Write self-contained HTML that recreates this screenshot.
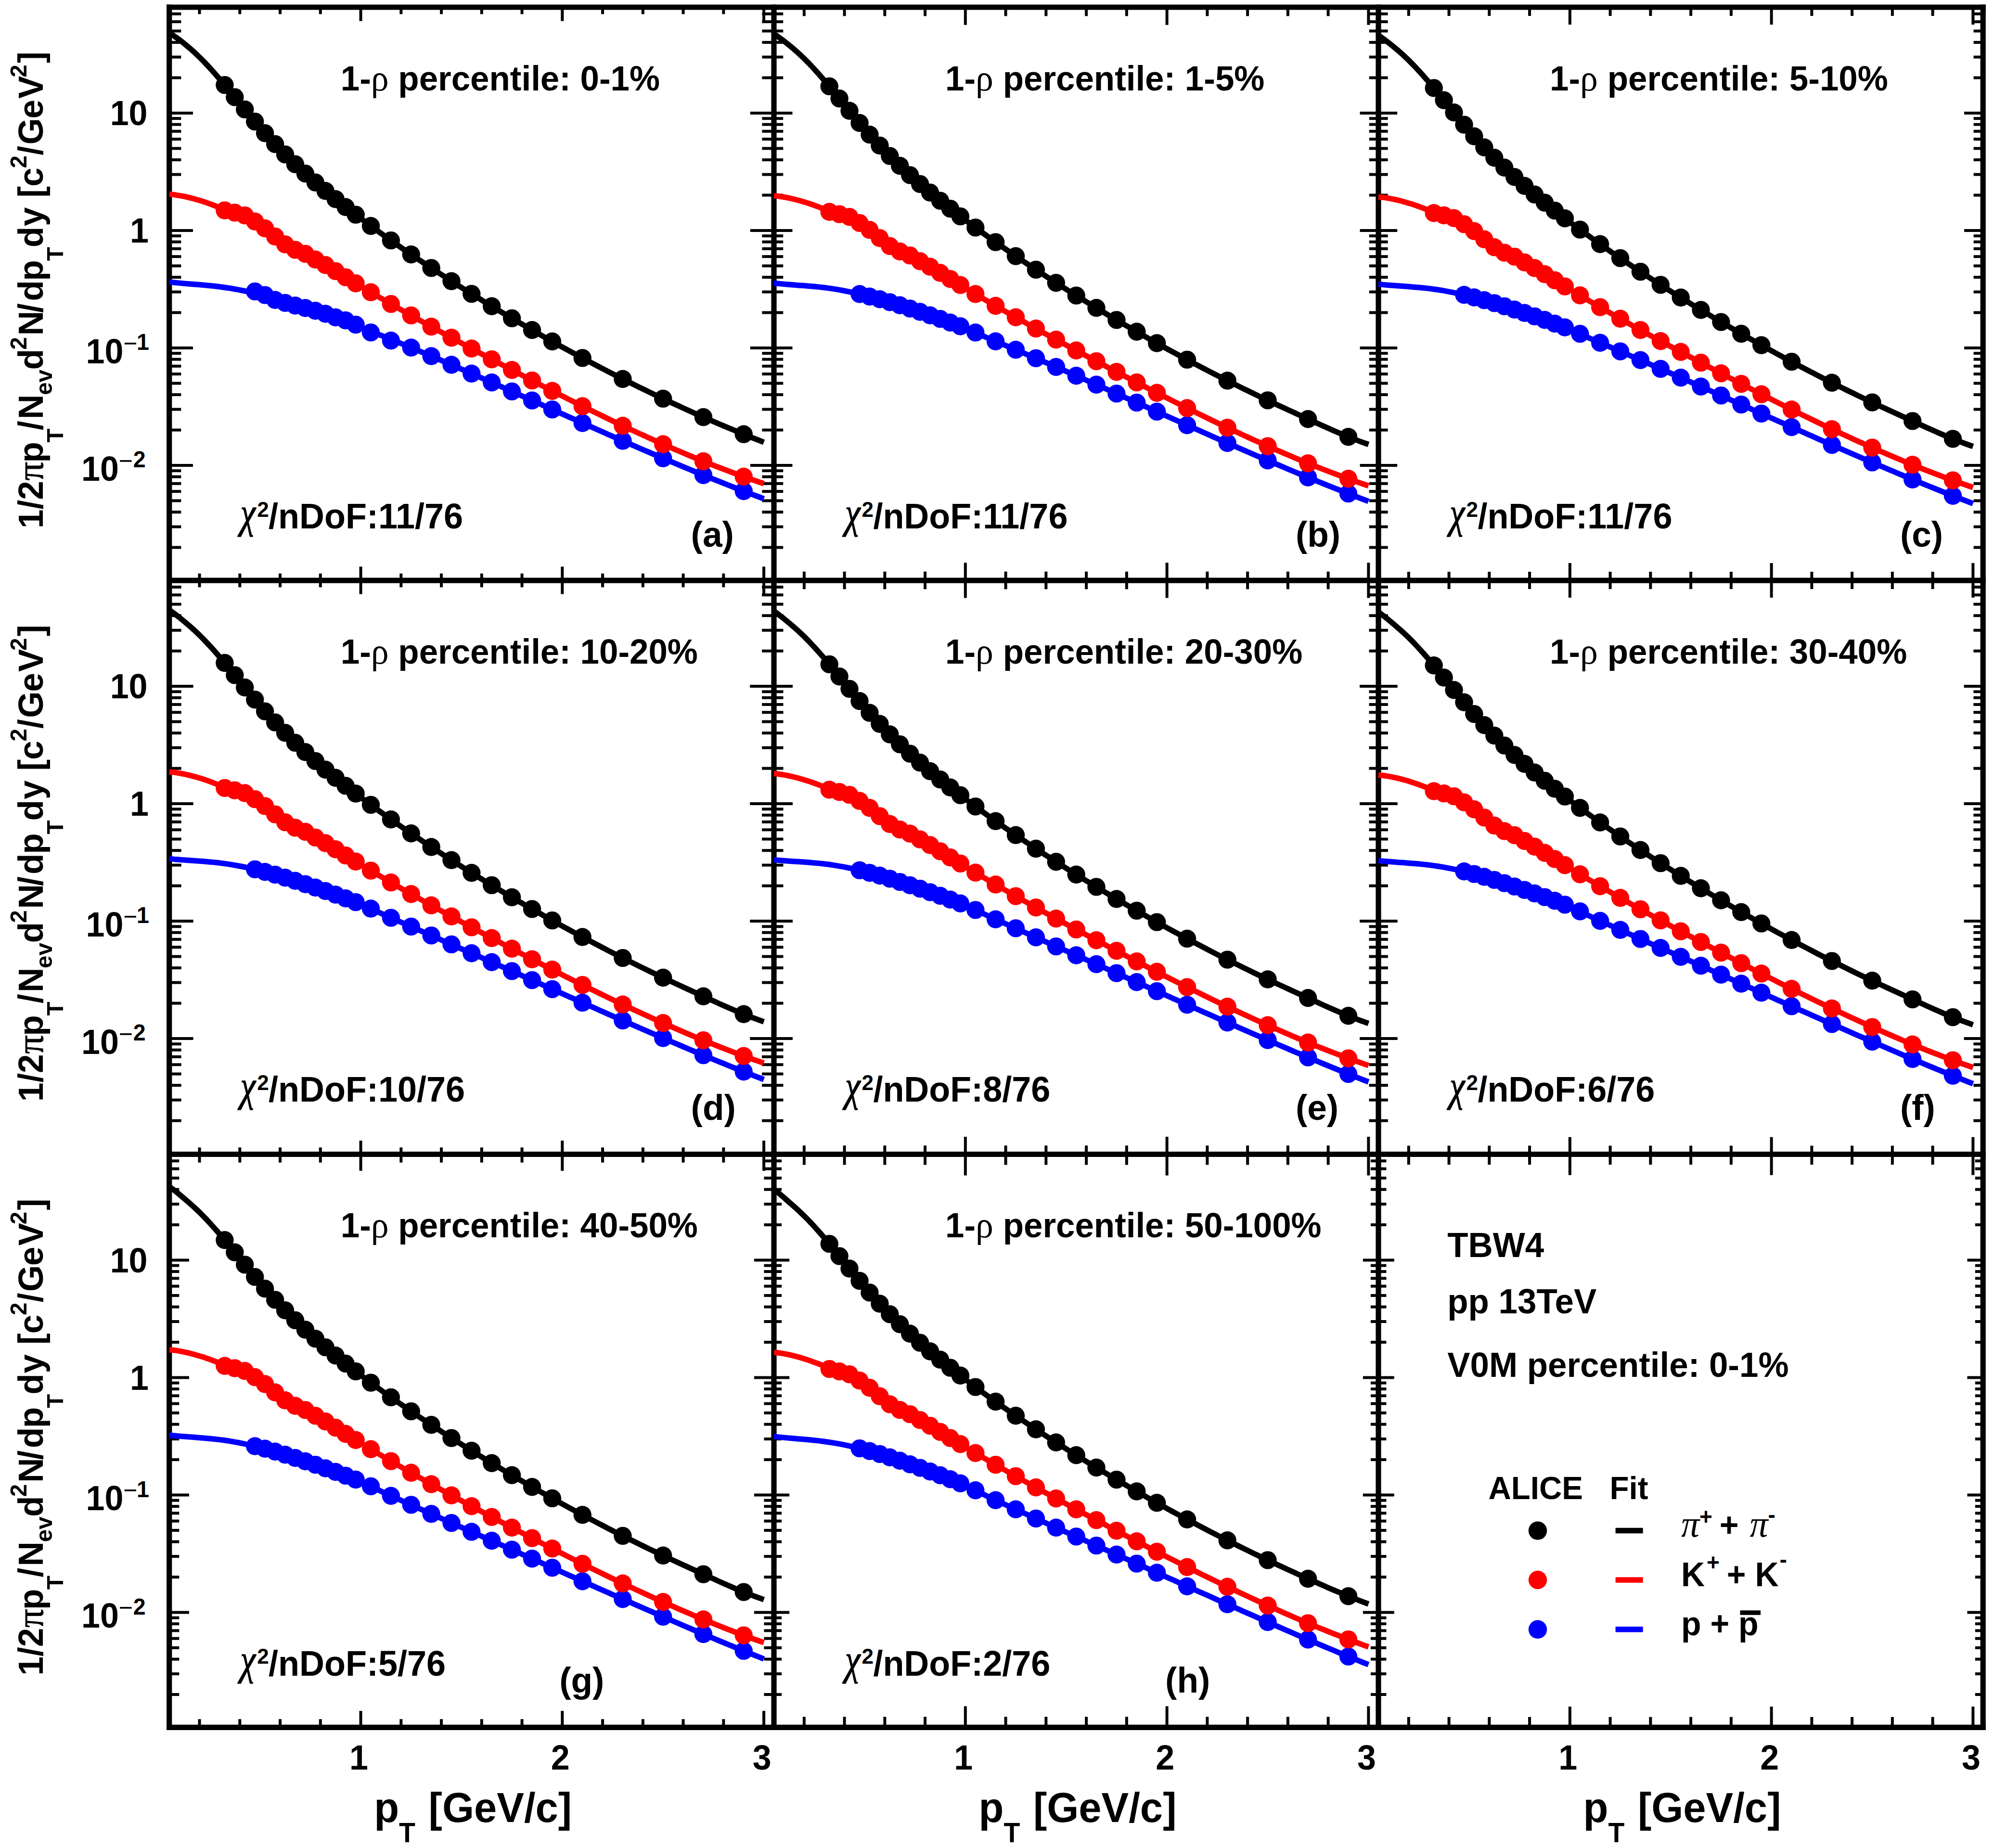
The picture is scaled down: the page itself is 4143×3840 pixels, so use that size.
<!DOCTYPE html>
<html><head><meta charset="utf-8"><title>TBW4 fits</title>
<style>html,body{margin:0;padding:0;background:#fff}body{width:4143px;height:3840px;overflow:hidden}</style></head>
<body>
<svg width="4143" height="3840" viewBox="0 0 4143 3840" style="display:block">
<rect x="0" y="0" width="4143" height="3840" fill="#fff"/>
<g id="frame">
<line x1="351.70" y1="9.40" x2="351.70" y2="3595.00" stroke="#000" stroke-width="11.2"/>
<line x1="1608.00" y1="9.40" x2="1608.00" y2="3595.00" stroke="#000" stroke-width="11.2"/>
<line x1="2864.00" y1="9.40" x2="2864.00" y2="3595.00" stroke="#000" stroke-width="11.2"/>
<line x1="4120.20" y1="9.40" x2="4120.20" y2="3595.00" stroke="#000" stroke-width="11.2"/>
<line x1="346.10" y1="15.00" x2="4125.80" y2="15.00" stroke="#000" stroke-width="11.2"/>
<line x1="346.10" y1="1206.10" x2="4125.80" y2="1206.10" stroke="#000" stroke-width="11.2"/>
<line x1="346.10" y1="2398.50" x2="4125.80" y2="2398.50" stroke="#000" stroke-width="11.2"/>
<line x1="346.10" y1="3589.40" x2="4125.80" y2="3589.40" stroke="#000" stroke-width="11.2"/>
</g>
<g id="ticks">
<line x1="351.70" y1="1137.55" x2="376.31" y2="1137.55" stroke="#000" stroke-width="6.0"/>
<line x1="351.70" y1="1094.58" x2="376.31" y2="1094.58" stroke="#000" stroke-width="6.0"/>
<line x1="351.70" y1="1064.10" x2="376.31" y2="1064.10" stroke="#000" stroke-width="6.0"/>
<line x1="351.70" y1="1040.45" x2="376.31" y2="1040.45" stroke="#000" stroke-width="6.0"/>
<line x1="351.70" y1="1021.13" x2="376.31" y2="1021.13" stroke="#000" stroke-width="6.0"/>
<line x1="351.70" y1="1004.80" x2="376.31" y2="1004.80" stroke="#000" stroke-width="6.0"/>
<line x1="351.70" y1="990.65" x2="376.31" y2="990.65" stroke="#000" stroke-width="6.0"/>
<line x1="351.70" y1="978.16" x2="376.31" y2="978.16" stroke="#000" stroke-width="6.0"/>
<line x1="351.70" y1="967.00" x2="400.93" y2="967.00" stroke="#000" stroke-width="6.0"/>
<line x1="351.70" y1="893.55" x2="376.31" y2="893.55" stroke="#000" stroke-width="6.0"/>
<line x1="351.70" y1="850.58" x2="376.31" y2="850.58" stroke="#000" stroke-width="6.0"/>
<line x1="351.70" y1="820.10" x2="376.31" y2="820.10" stroke="#000" stroke-width="6.0"/>
<line x1="351.70" y1="796.45" x2="376.31" y2="796.45" stroke="#000" stroke-width="6.0"/>
<line x1="351.70" y1="777.13" x2="376.31" y2="777.13" stroke="#000" stroke-width="6.0"/>
<line x1="351.70" y1="760.80" x2="376.31" y2="760.80" stroke="#000" stroke-width="6.0"/>
<line x1="351.70" y1="746.65" x2="376.31" y2="746.65" stroke="#000" stroke-width="6.0"/>
<line x1="351.70" y1="734.16" x2="376.31" y2="734.16" stroke="#000" stroke-width="6.0"/>
<line x1="351.70" y1="723.00" x2="400.93" y2="723.00" stroke="#000" stroke-width="6.0"/>
<line x1="351.70" y1="649.55" x2="376.31" y2="649.55" stroke="#000" stroke-width="6.0"/>
<line x1="351.70" y1="606.58" x2="376.31" y2="606.58" stroke="#000" stroke-width="6.0"/>
<line x1="351.70" y1="576.10" x2="376.31" y2="576.10" stroke="#000" stroke-width="6.0"/>
<line x1="351.70" y1="552.45" x2="376.31" y2="552.45" stroke="#000" stroke-width="6.0"/>
<line x1="351.70" y1="533.13" x2="376.31" y2="533.13" stroke="#000" stroke-width="6.0"/>
<line x1="351.70" y1="516.80" x2="376.31" y2="516.80" stroke="#000" stroke-width="6.0"/>
<line x1="351.70" y1="502.65" x2="376.31" y2="502.65" stroke="#000" stroke-width="6.0"/>
<line x1="351.70" y1="490.16" x2="376.31" y2="490.16" stroke="#000" stroke-width="6.0"/>
<line x1="351.70" y1="479.00" x2="400.93" y2="479.00" stroke="#000" stroke-width="6.0"/>
<line x1="351.70" y1="405.55" x2="376.31" y2="405.55" stroke="#000" stroke-width="6.0"/>
<line x1="351.70" y1="362.58" x2="376.31" y2="362.58" stroke="#000" stroke-width="6.0"/>
<line x1="351.70" y1="332.10" x2="376.31" y2="332.10" stroke="#000" stroke-width="6.0"/>
<line x1="351.70" y1="308.45" x2="376.31" y2="308.45" stroke="#000" stroke-width="6.0"/>
<line x1="351.70" y1="289.13" x2="376.31" y2="289.13" stroke="#000" stroke-width="6.0"/>
<line x1="351.70" y1="272.80" x2="376.31" y2="272.80" stroke="#000" stroke-width="6.0"/>
<line x1="351.70" y1="258.65" x2="376.31" y2="258.65" stroke="#000" stroke-width="6.0"/>
<line x1="351.70" y1="246.16" x2="376.31" y2="246.16" stroke="#000" stroke-width="6.0"/>
<line x1="351.70" y1="235.00" x2="400.93" y2="235.00" stroke="#000" stroke-width="6.0"/>
<line x1="351.70" y1="161.55" x2="376.31" y2="161.55" stroke="#000" stroke-width="6.0"/>
<line x1="351.70" y1="118.58" x2="376.31" y2="118.58" stroke="#000" stroke-width="6.0"/>
<line x1="351.70" y1="88.10" x2="376.31" y2="88.10" stroke="#000" stroke-width="6.0"/>
<line x1="351.70" y1="64.45" x2="376.31" y2="64.45" stroke="#000" stroke-width="6.0"/>
<line x1="351.70" y1="45.13" x2="376.31" y2="45.13" stroke="#000" stroke-width="6.0"/>
<line x1="351.70" y1="28.80" x2="376.31" y2="28.80" stroke="#000" stroke-width="6.0"/>
<line x1="1608.00" y1="1137.55" x2="1583.39" y2="1137.55" stroke="#000" stroke-width="6.0"/>
<line x1="1608.00" y1="1094.58" x2="1583.39" y2="1094.58" stroke="#000" stroke-width="6.0"/>
<line x1="1608.00" y1="1064.10" x2="1583.39" y2="1064.10" stroke="#000" stroke-width="6.0"/>
<line x1="1608.00" y1="1040.45" x2="1583.39" y2="1040.45" stroke="#000" stroke-width="6.0"/>
<line x1="1608.00" y1="1021.13" x2="1583.39" y2="1021.13" stroke="#000" stroke-width="6.0"/>
<line x1="1608.00" y1="1004.80" x2="1583.39" y2="1004.80" stroke="#000" stroke-width="6.0"/>
<line x1="1608.00" y1="990.65" x2="1583.39" y2="990.65" stroke="#000" stroke-width="6.0"/>
<line x1="1608.00" y1="978.16" x2="1583.39" y2="978.16" stroke="#000" stroke-width="6.0"/>
<line x1="1608.00" y1="967.00" x2="1558.77" y2="967.00" stroke="#000" stroke-width="6.0"/>
<line x1="1608.00" y1="893.55" x2="1583.39" y2="893.55" stroke="#000" stroke-width="6.0"/>
<line x1="1608.00" y1="850.58" x2="1583.39" y2="850.58" stroke="#000" stroke-width="6.0"/>
<line x1="1608.00" y1="820.10" x2="1583.39" y2="820.10" stroke="#000" stroke-width="6.0"/>
<line x1="1608.00" y1="796.45" x2="1583.39" y2="796.45" stroke="#000" stroke-width="6.0"/>
<line x1="1608.00" y1="777.13" x2="1583.39" y2="777.13" stroke="#000" stroke-width="6.0"/>
<line x1="1608.00" y1="760.80" x2="1583.39" y2="760.80" stroke="#000" stroke-width="6.0"/>
<line x1="1608.00" y1="746.65" x2="1583.39" y2="746.65" stroke="#000" stroke-width="6.0"/>
<line x1="1608.00" y1="734.16" x2="1583.39" y2="734.16" stroke="#000" stroke-width="6.0"/>
<line x1="1608.00" y1="723.00" x2="1558.77" y2="723.00" stroke="#000" stroke-width="6.0"/>
<line x1="1608.00" y1="649.55" x2="1583.39" y2="649.55" stroke="#000" stroke-width="6.0"/>
<line x1="1608.00" y1="606.58" x2="1583.39" y2="606.58" stroke="#000" stroke-width="6.0"/>
<line x1="1608.00" y1="576.10" x2="1583.39" y2="576.10" stroke="#000" stroke-width="6.0"/>
<line x1="1608.00" y1="552.45" x2="1583.39" y2="552.45" stroke="#000" stroke-width="6.0"/>
<line x1="1608.00" y1="533.13" x2="1583.39" y2="533.13" stroke="#000" stroke-width="6.0"/>
<line x1="1608.00" y1="516.80" x2="1583.39" y2="516.80" stroke="#000" stroke-width="6.0"/>
<line x1="1608.00" y1="502.65" x2="1583.39" y2="502.65" stroke="#000" stroke-width="6.0"/>
<line x1="1608.00" y1="490.16" x2="1583.39" y2="490.16" stroke="#000" stroke-width="6.0"/>
<line x1="1608.00" y1="479.00" x2="1558.77" y2="479.00" stroke="#000" stroke-width="6.0"/>
<line x1="1608.00" y1="405.55" x2="1583.39" y2="405.55" stroke="#000" stroke-width="6.0"/>
<line x1="1608.00" y1="362.58" x2="1583.39" y2="362.58" stroke="#000" stroke-width="6.0"/>
<line x1="1608.00" y1="332.10" x2="1583.39" y2="332.10" stroke="#000" stroke-width="6.0"/>
<line x1="1608.00" y1="308.45" x2="1583.39" y2="308.45" stroke="#000" stroke-width="6.0"/>
<line x1="1608.00" y1="289.13" x2="1583.39" y2="289.13" stroke="#000" stroke-width="6.0"/>
<line x1="1608.00" y1="272.80" x2="1583.39" y2="272.80" stroke="#000" stroke-width="6.0"/>
<line x1="1608.00" y1="258.65" x2="1583.39" y2="258.65" stroke="#000" stroke-width="6.0"/>
<line x1="1608.00" y1="246.16" x2="1583.39" y2="246.16" stroke="#000" stroke-width="6.0"/>
<line x1="1608.00" y1="235.00" x2="1558.77" y2="235.00" stroke="#000" stroke-width="6.0"/>
<line x1="1608.00" y1="161.55" x2="1583.39" y2="161.55" stroke="#000" stroke-width="6.0"/>
<line x1="1608.00" y1="118.58" x2="1583.39" y2="118.58" stroke="#000" stroke-width="6.0"/>
<line x1="1608.00" y1="88.10" x2="1583.39" y2="88.10" stroke="#000" stroke-width="6.0"/>
<line x1="1608.00" y1="64.45" x2="1583.39" y2="64.45" stroke="#000" stroke-width="6.0"/>
<line x1="1608.00" y1="45.13" x2="1583.39" y2="45.13" stroke="#000" stroke-width="6.0"/>
<line x1="1608.00" y1="28.80" x2="1583.39" y2="28.80" stroke="#000" stroke-width="6.0"/>
<line x1="414.51" y1="1206.10" x2="414.51" y2="1191.74" stroke="#000" stroke-width="6.0"/>
<line x1="498.27" y1="1206.10" x2="498.27" y2="1191.74" stroke="#000" stroke-width="6.0"/>
<line x1="582.02" y1="1206.10" x2="582.02" y2="1191.74" stroke="#000" stroke-width="6.0"/>
<line x1="665.77" y1="1206.10" x2="665.77" y2="1191.74" stroke="#000" stroke-width="6.0"/>
<line x1="749.53" y1="1206.10" x2="749.53" y2="1177.37" stroke="#000" stroke-width="6.0"/>
<line x1="833.28" y1="1206.10" x2="833.28" y2="1191.74" stroke="#000" stroke-width="6.0"/>
<line x1="917.04" y1="1206.10" x2="917.04" y2="1191.74" stroke="#000" stroke-width="6.0"/>
<line x1="1000.79" y1="1206.10" x2="1000.79" y2="1191.74" stroke="#000" stroke-width="6.0"/>
<line x1="1084.54" y1="1206.10" x2="1084.54" y2="1191.74" stroke="#000" stroke-width="6.0"/>
<line x1="1168.29" y1="1206.10" x2="1168.29" y2="1177.37" stroke="#000" stroke-width="6.0"/>
<line x1="1252.05" y1="1206.10" x2="1252.05" y2="1191.74" stroke="#000" stroke-width="6.0"/>
<line x1="1335.80" y1="1206.10" x2="1335.80" y2="1191.74" stroke="#000" stroke-width="6.0"/>
<line x1="1419.56" y1="1206.10" x2="1419.56" y2="1191.74" stroke="#000" stroke-width="6.0"/>
<line x1="1503.31" y1="1206.10" x2="1503.31" y2="1191.74" stroke="#000" stroke-width="6.0"/>
<line x1="1587.06" y1="1206.10" x2="1587.06" y2="1177.37" stroke="#000" stroke-width="6.0"/>
<line x1="414.51" y1="15.00" x2="414.51" y2="29.36" stroke="#000" stroke-width="6.0"/>
<line x1="498.27" y1="15.00" x2="498.27" y2="29.36" stroke="#000" stroke-width="6.0"/>
<line x1="582.02" y1="15.00" x2="582.02" y2="29.36" stroke="#000" stroke-width="6.0"/>
<line x1="665.77" y1="15.00" x2="665.77" y2="29.36" stroke="#000" stroke-width="6.0"/>
<line x1="749.53" y1="15.00" x2="749.53" y2="43.73" stroke="#000" stroke-width="6.0"/>
<line x1="833.28" y1="15.00" x2="833.28" y2="29.36" stroke="#000" stroke-width="6.0"/>
<line x1="917.04" y1="15.00" x2="917.04" y2="29.36" stroke="#000" stroke-width="6.0"/>
<line x1="1000.79" y1="15.00" x2="1000.79" y2="29.36" stroke="#000" stroke-width="6.0"/>
<line x1="1084.54" y1="15.00" x2="1084.54" y2="29.36" stroke="#000" stroke-width="6.0"/>
<line x1="1168.29" y1="15.00" x2="1168.29" y2="43.73" stroke="#000" stroke-width="6.0"/>
<line x1="1252.05" y1="15.00" x2="1252.05" y2="29.36" stroke="#000" stroke-width="6.0"/>
<line x1="1335.80" y1="15.00" x2="1335.80" y2="29.36" stroke="#000" stroke-width="6.0"/>
<line x1="1419.56" y1="15.00" x2="1419.56" y2="29.36" stroke="#000" stroke-width="6.0"/>
<line x1="1503.31" y1="15.00" x2="1503.31" y2="29.36" stroke="#000" stroke-width="6.0"/>
<line x1="1587.06" y1="15.00" x2="1587.06" y2="43.73" stroke="#000" stroke-width="6.0"/>
<line x1="351.70" y1="2328.65" x2="376.62" y2="2328.65" stroke="#000" stroke-width="6.0"/>
<line x1="351.70" y1="2285.68" x2="376.62" y2="2285.68" stroke="#000" stroke-width="6.0"/>
<line x1="351.70" y1="2255.20" x2="376.62" y2="2255.20" stroke="#000" stroke-width="6.0"/>
<line x1="351.70" y1="2231.55" x2="376.62" y2="2231.55" stroke="#000" stroke-width="6.0"/>
<line x1="351.70" y1="2212.23" x2="376.62" y2="2212.23" stroke="#000" stroke-width="6.0"/>
<line x1="351.70" y1="2195.90" x2="376.62" y2="2195.90" stroke="#000" stroke-width="6.0"/>
<line x1="351.70" y1="2181.75" x2="376.62" y2="2181.75" stroke="#000" stroke-width="6.0"/>
<line x1="351.70" y1="2169.26" x2="376.62" y2="2169.26" stroke="#000" stroke-width="6.0"/>
<line x1="351.70" y1="2158.10" x2="401.55" y2="2158.10" stroke="#000" stroke-width="6.0"/>
<line x1="351.70" y1="2084.65" x2="376.62" y2="2084.65" stroke="#000" stroke-width="6.0"/>
<line x1="351.70" y1="2041.68" x2="376.62" y2="2041.68" stroke="#000" stroke-width="6.0"/>
<line x1="351.70" y1="2011.20" x2="376.62" y2="2011.20" stroke="#000" stroke-width="6.0"/>
<line x1="351.70" y1="1987.55" x2="376.62" y2="1987.55" stroke="#000" stroke-width="6.0"/>
<line x1="351.70" y1="1968.23" x2="376.62" y2="1968.23" stroke="#000" stroke-width="6.0"/>
<line x1="351.70" y1="1951.90" x2="376.62" y2="1951.90" stroke="#000" stroke-width="6.0"/>
<line x1="351.70" y1="1937.75" x2="376.62" y2="1937.75" stroke="#000" stroke-width="6.0"/>
<line x1="351.70" y1="1925.26" x2="376.62" y2="1925.26" stroke="#000" stroke-width="6.0"/>
<line x1="351.70" y1="1914.10" x2="401.55" y2="1914.10" stroke="#000" stroke-width="6.0"/>
<line x1="351.70" y1="1840.65" x2="376.62" y2="1840.65" stroke="#000" stroke-width="6.0"/>
<line x1="351.70" y1="1797.68" x2="376.62" y2="1797.68" stroke="#000" stroke-width="6.0"/>
<line x1="351.70" y1="1767.20" x2="376.62" y2="1767.20" stroke="#000" stroke-width="6.0"/>
<line x1="351.70" y1="1743.55" x2="376.62" y2="1743.55" stroke="#000" stroke-width="6.0"/>
<line x1="351.70" y1="1724.23" x2="376.62" y2="1724.23" stroke="#000" stroke-width="6.0"/>
<line x1="351.70" y1="1707.90" x2="376.62" y2="1707.90" stroke="#000" stroke-width="6.0"/>
<line x1="351.70" y1="1693.75" x2="376.62" y2="1693.75" stroke="#000" stroke-width="6.0"/>
<line x1="351.70" y1="1681.26" x2="376.62" y2="1681.26" stroke="#000" stroke-width="6.0"/>
<line x1="351.70" y1="1670.10" x2="401.55" y2="1670.10" stroke="#000" stroke-width="6.0"/>
<line x1="351.70" y1="1596.65" x2="376.62" y2="1596.65" stroke="#000" stroke-width="6.0"/>
<line x1="351.70" y1="1553.68" x2="376.62" y2="1553.68" stroke="#000" stroke-width="6.0"/>
<line x1="351.70" y1="1523.20" x2="376.62" y2="1523.20" stroke="#000" stroke-width="6.0"/>
<line x1="351.70" y1="1499.55" x2="376.62" y2="1499.55" stroke="#000" stroke-width="6.0"/>
<line x1="351.70" y1="1480.23" x2="376.62" y2="1480.23" stroke="#000" stroke-width="6.0"/>
<line x1="351.70" y1="1463.90" x2="376.62" y2="1463.90" stroke="#000" stroke-width="6.0"/>
<line x1="351.70" y1="1449.75" x2="376.62" y2="1449.75" stroke="#000" stroke-width="6.0"/>
<line x1="351.70" y1="1437.26" x2="376.62" y2="1437.26" stroke="#000" stroke-width="6.0"/>
<line x1="351.70" y1="1426.10" x2="401.55" y2="1426.10" stroke="#000" stroke-width="6.0"/>
<line x1="351.70" y1="1352.65" x2="376.62" y2="1352.65" stroke="#000" stroke-width="6.0"/>
<line x1="351.70" y1="1309.68" x2="376.62" y2="1309.68" stroke="#000" stroke-width="6.0"/>
<line x1="351.70" y1="1279.20" x2="376.62" y2="1279.20" stroke="#000" stroke-width="6.0"/>
<line x1="351.70" y1="1255.55" x2="376.62" y2="1255.55" stroke="#000" stroke-width="6.0"/>
<line x1="351.70" y1="1236.23" x2="376.62" y2="1236.23" stroke="#000" stroke-width="6.0"/>
<line x1="351.70" y1="1219.90" x2="376.62" y2="1219.90" stroke="#000" stroke-width="6.0"/>
<line x1="1608.00" y1="2328.65" x2="1583.08" y2="2328.65" stroke="#000" stroke-width="6.0"/>
<line x1="1608.00" y1="2285.68" x2="1583.08" y2="2285.68" stroke="#000" stroke-width="6.0"/>
<line x1="1608.00" y1="2255.20" x2="1583.08" y2="2255.20" stroke="#000" stroke-width="6.0"/>
<line x1="1608.00" y1="2231.55" x2="1583.08" y2="2231.55" stroke="#000" stroke-width="6.0"/>
<line x1="1608.00" y1="2212.23" x2="1583.08" y2="2212.23" stroke="#000" stroke-width="6.0"/>
<line x1="1608.00" y1="2195.90" x2="1583.08" y2="2195.90" stroke="#000" stroke-width="6.0"/>
<line x1="1608.00" y1="2181.75" x2="1583.08" y2="2181.75" stroke="#000" stroke-width="6.0"/>
<line x1="1608.00" y1="2169.26" x2="1583.08" y2="2169.26" stroke="#000" stroke-width="6.0"/>
<line x1="1608.00" y1="2158.10" x2="1558.15" y2="2158.10" stroke="#000" stroke-width="6.0"/>
<line x1="1608.00" y1="2084.65" x2="1583.08" y2="2084.65" stroke="#000" stroke-width="6.0"/>
<line x1="1608.00" y1="2041.68" x2="1583.08" y2="2041.68" stroke="#000" stroke-width="6.0"/>
<line x1="1608.00" y1="2011.20" x2="1583.08" y2="2011.20" stroke="#000" stroke-width="6.0"/>
<line x1="1608.00" y1="1987.55" x2="1583.08" y2="1987.55" stroke="#000" stroke-width="6.0"/>
<line x1="1608.00" y1="1968.23" x2="1583.08" y2="1968.23" stroke="#000" stroke-width="6.0"/>
<line x1="1608.00" y1="1951.90" x2="1583.08" y2="1951.90" stroke="#000" stroke-width="6.0"/>
<line x1="1608.00" y1="1937.75" x2="1583.08" y2="1937.75" stroke="#000" stroke-width="6.0"/>
<line x1="1608.00" y1="1925.26" x2="1583.08" y2="1925.26" stroke="#000" stroke-width="6.0"/>
<line x1="1608.00" y1="1914.10" x2="1558.15" y2="1914.10" stroke="#000" stroke-width="6.0"/>
<line x1="1608.00" y1="1840.65" x2="1583.08" y2="1840.65" stroke="#000" stroke-width="6.0"/>
<line x1="1608.00" y1="1797.68" x2="1583.08" y2="1797.68" stroke="#000" stroke-width="6.0"/>
<line x1="1608.00" y1="1767.20" x2="1583.08" y2="1767.20" stroke="#000" stroke-width="6.0"/>
<line x1="1608.00" y1="1743.55" x2="1583.08" y2="1743.55" stroke="#000" stroke-width="6.0"/>
<line x1="1608.00" y1="1724.23" x2="1583.08" y2="1724.23" stroke="#000" stroke-width="6.0"/>
<line x1="1608.00" y1="1707.90" x2="1583.08" y2="1707.90" stroke="#000" stroke-width="6.0"/>
<line x1="1608.00" y1="1693.75" x2="1583.08" y2="1693.75" stroke="#000" stroke-width="6.0"/>
<line x1="1608.00" y1="1681.26" x2="1583.08" y2="1681.26" stroke="#000" stroke-width="6.0"/>
<line x1="1608.00" y1="1670.10" x2="1558.15" y2="1670.10" stroke="#000" stroke-width="6.0"/>
<line x1="1608.00" y1="1596.65" x2="1583.08" y2="1596.65" stroke="#000" stroke-width="6.0"/>
<line x1="1608.00" y1="1553.68" x2="1583.08" y2="1553.68" stroke="#000" stroke-width="6.0"/>
<line x1="1608.00" y1="1523.20" x2="1583.08" y2="1523.20" stroke="#000" stroke-width="6.0"/>
<line x1="1608.00" y1="1499.55" x2="1583.08" y2="1499.55" stroke="#000" stroke-width="6.0"/>
<line x1="1608.00" y1="1480.23" x2="1583.08" y2="1480.23" stroke="#000" stroke-width="6.0"/>
<line x1="1608.00" y1="1463.90" x2="1583.08" y2="1463.90" stroke="#000" stroke-width="6.0"/>
<line x1="1608.00" y1="1449.75" x2="1583.08" y2="1449.75" stroke="#000" stroke-width="6.0"/>
<line x1="1608.00" y1="1437.26" x2="1583.08" y2="1437.26" stroke="#000" stroke-width="6.0"/>
<line x1="1608.00" y1="1426.10" x2="1558.15" y2="1426.10" stroke="#000" stroke-width="6.0"/>
<line x1="1608.00" y1="1352.65" x2="1583.08" y2="1352.65" stroke="#000" stroke-width="6.0"/>
<line x1="1608.00" y1="1309.68" x2="1583.08" y2="1309.68" stroke="#000" stroke-width="6.0"/>
<line x1="1608.00" y1="1279.20" x2="1583.08" y2="1279.20" stroke="#000" stroke-width="6.0"/>
<line x1="1608.00" y1="1255.55" x2="1583.08" y2="1255.55" stroke="#000" stroke-width="6.0"/>
<line x1="1608.00" y1="1236.23" x2="1583.08" y2="1236.23" stroke="#000" stroke-width="6.0"/>
<line x1="1608.00" y1="1219.90" x2="1583.08" y2="1219.90" stroke="#000" stroke-width="6.0"/>
<line x1="414.51" y1="2398.50" x2="414.51" y2="2384.30" stroke="#000" stroke-width="6.0"/>
<line x1="498.27" y1="2398.50" x2="498.27" y2="2384.30" stroke="#000" stroke-width="6.0"/>
<line x1="582.02" y1="2398.50" x2="582.02" y2="2384.30" stroke="#000" stroke-width="6.0"/>
<line x1="665.77" y1="2398.50" x2="665.77" y2="2384.30" stroke="#000" stroke-width="6.0"/>
<line x1="749.53" y1="2398.50" x2="749.53" y2="2370.11" stroke="#000" stroke-width="6.0"/>
<line x1="833.28" y1="2398.50" x2="833.28" y2="2384.30" stroke="#000" stroke-width="6.0"/>
<line x1="917.04" y1="2398.50" x2="917.04" y2="2384.30" stroke="#000" stroke-width="6.0"/>
<line x1="1000.79" y1="2398.50" x2="1000.79" y2="2384.30" stroke="#000" stroke-width="6.0"/>
<line x1="1084.54" y1="2398.50" x2="1084.54" y2="2384.30" stroke="#000" stroke-width="6.0"/>
<line x1="1168.29" y1="2398.50" x2="1168.29" y2="2370.11" stroke="#000" stroke-width="6.0"/>
<line x1="1252.05" y1="2398.50" x2="1252.05" y2="2384.30" stroke="#000" stroke-width="6.0"/>
<line x1="1335.80" y1="2398.50" x2="1335.80" y2="2384.30" stroke="#000" stroke-width="6.0"/>
<line x1="1419.56" y1="2398.50" x2="1419.56" y2="2384.30" stroke="#000" stroke-width="6.0"/>
<line x1="1503.31" y1="2398.50" x2="1503.31" y2="2384.30" stroke="#000" stroke-width="6.0"/>
<line x1="1587.06" y1="2398.50" x2="1587.06" y2="2370.11" stroke="#000" stroke-width="6.0"/>
<line x1="414.51" y1="1206.10" x2="414.51" y2="1220.30" stroke="#000" stroke-width="6.0"/>
<line x1="498.27" y1="1206.10" x2="498.27" y2="1220.30" stroke="#000" stroke-width="6.0"/>
<line x1="582.02" y1="1206.10" x2="582.02" y2="1220.30" stroke="#000" stroke-width="6.0"/>
<line x1="665.77" y1="1206.10" x2="665.77" y2="1220.30" stroke="#000" stroke-width="6.0"/>
<line x1="749.53" y1="1206.10" x2="749.53" y2="1234.49" stroke="#000" stroke-width="6.0"/>
<line x1="833.28" y1="1206.10" x2="833.28" y2="1220.30" stroke="#000" stroke-width="6.0"/>
<line x1="917.04" y1="1206.10" x2="917.04" y2="1220.30" stroke="#000" stroke-width="6.0"/>
<line x1="1000.79" y1="1206.10" x2="1000.79" y2="1220.30" stroke="#000" stroke-width="6.0"/>
<line x1="1084.54" y1="1206.10" x2="1084.54" y2="1220.30" stroke="#000" stroke-width="6.0"/>
<line x1="1168.29" y1="1206.10" x2="1168.29" y2="1234.49" stroke="#000" stroke-width="6.0"/>
<line x1="1252.05" y1="1206.10" x2="1252.05" y2="1220.30" stroke="#000" stroke-width="6.0"/>
<line x1="1335.80" y1="1206.10" x2="1335.80" y2="1220.30" stroke="#000" stroke-width="6.0"/>
<line x1="1419.56" y1="1206.10" x2="1419.56" y2="1220.30" stroke="#000" stroke-width="6.0"/>
<line x1="1503.31" y1="1206.10" x2="1503.31" y2="1220.30" stroke="#000" stroke-width="6.0"/>
<line x1="1587.06" y1="1206.10" x2="1587.06" y2="1234.49" stroke="#000" stroke-width="6.0"/>
<line x1="351.70" y1="3521.05" x2="372.29" y2="3521.05" stroke="#000" stroke-width="6.0"/>
<line x1="351.70" y1="3478.08" x2="372.29" y2="3478.08" stroke="#000" stroke-width="6.0"/>
<line x1="351.70" y1="3447.60" x2="372.29" y2="3447.60" stroke="#000" stroke-width="6.0"/>
<line x1="351.70" y1="3423.95" x2="372.29" y2="3423.95" stroke="#000" stroke-width="6.0"/>
<line x1="351.70" y1="3404.63" x2="372.29" y2="3404.63" stroke="#000" stroke-width="6.0"/>
<line x1="351.70" y1="3388.30" x2="372.29" y2="3388.30" stroke="#000" stroke-width="6.0"/>
<line x1="351.70" y1="3374.15" x2="372.29" y2="3374.15" stroke="#000" stroke-width="6.0"/>
<line x1="351.70" y1="3361.66" x2="372.29" y2="3361.66" stroke="#000" stroke-width="6.0"/>
<line x1="351.70" y1="3350.50" x2="392.87" y2="3350.50" stroke="#000" stroke-width="6.0"/>
<line x1="351.70" y1="3277.05" x2="372.29" y2="3277.05" stroke="#000" stroke-width="6.0"/>
<line x1="351.70" y1="3234.08" x2="372.29" y2="3234.08" stroke="#000" stroke-width="6.0"/>
<line x1="351.70" y1="3203.60" x2="372.29" y2="3203.60" stroke="#000" stroke-width="6.0"/>
<line x1="351.70" y1="3179.95" x2="372.29" y2="3179.95" stroke="#000" stroke-width="6.0"/>
<line x1="351.70" y1="3160.63" x2="372.29" y2="3160.63" stroke="#000" stroke-width="6.0"/>
<line x1="351.70" y1="3144.30" x2="372.29" y2="3144.30" stroke="#000" stroke-width="6.0"/>
<line x1="351.70" y1="3130.15" x2="372.29" y2="3130.15" stroke="#000" stroke-width="6.0"/>
<line x1="351.70" y1="3117.66" x2="372.29" y2="3117.66" stroke="#000" stroke-width="6.0"/>
<line x1="351.70" y1="3106.50" x2="392.87" y2="3106.50" stroke="#000" stroke-width="6.0"/>
<line x1="351.70" y1="3033.05" x2="372.29" y2="3033.05" stroke="#000" stroke-width="6.0"/>
<line x1="351.70" y1="2990.08" x2="372.29" y2="2990.08" stroke="#000" stroke-width="6.0"/>
<line x1="351.70" y1="2959.60" x2="372.29" y2="2959.60" stroke="#000" stroke-width="6.0"/>
<line x1="351.70" y1="2935.95" x2="372.29" y2="2935.95" stroke="#000" stroke-width="6.0"/>
<line x1="351.70" y1="2916.63" x2="372.29" y2="2916.63" stroke="#000" stroke-width="6.0"/>
<line x1="351.70" y1="2900.30" x2="372.29" y2="2900.30" stroke="#000" stroke-width="6.0"/>
<line x1="351.70" y1="2886.15" x2="372.29" y2="2886.15" stroke="#000" stroke-width="6.0"/>
<line x1="351.70" y1="2873.66" x2="372.29" y2="2873.66" stroke="#000" stroke-width="6.0"/>
<line x1="351.70" y1="2862.50" x2="392.87" y2="2862.50" stroke="#000" stroke-width="6.0"/>
<line x1="351.70" y1="2789.05" x2="372.29" y2="2789.05" stroke="#000" stroke-width="6.0"/>
<line x1="351.70" y1="2746.08" x2="372.29" y2="2746.08" stroke="#000" stroke-width="6.0"/>
<line x1="351.70" y1="2715.60" x2="372.29" y2="2715.60" stroke="#000" stroke-width="6.0"/>
<line x1="351.70" y1="2691.95" x2="372.29" y2="2691.95" stroke="#000" stroke-width="6.0"/>
<line x1="351.70" y1="2672.63" x2="372.29" y2="2672.63" stroke="#000" stroke-width="6.0"/>
<line x1="351.70" y1="2656.30" x2="372.29" y2="2656.30" stroke="#000" stroke-width="6.0"/>
<line x1="351.70" y1="2642.15" x2="372.29" y2="2642.15" stroke="#000" stroke-width="6.0"/>
<line x1="351.70" y1="2629.66" x2="372.29" y2="2629.66" stroke="#000" stroke-width="6.0"/>
<line x1="351.70" y1="2618.50" x2="392.87" y2="2618.50" stroke="#000" stroke-width="6.0"/>
<line x1="351.70" y1="2545.05" x2="372.29" y2="2545.05" stroke="#000" stroke-width="6.0"/>
<line x1="351.70" y1="2502.08" x2="372.29" y2="2502.08" stroke="#000" stroke-width="6.0"/>
<line x1="351.70" y1="2471.60" x2="372.29" y2="2471.60" stroke="#000" stroke-width="6.0"/>
<line x1="351.70" y1="2447.95" x2="372.29" y2="2447.95" stroke="#000" stroke-width="6.0"/>
<line x1="351.70" y1="2428.63" x2="372.29" y2="2428.63" stroke="#000" stroke-width="6.0"/>
<line x1="351.70" y1="2412.30" x2="372.29" y2="2412.30" stroke="#000" stroke-width="6.0"/>
<line x1="1608.00" y1="3521.05" x2="1587.41" y2="3521.05" stroke="#000" stroke-width="6.0"/>
<line x1="1608.00" y1="3478.08" x2="1587.41" y2="3478.08" stroke="#000" stroke-width="6.0"/>
<line x1="1608.00" y1="3447.60" x2="1587.41" y2="3447.60" stroke="#000" stroke-width="6.0"/>
<line x1="1608.00" y1="3423.95" x2="1587.41" y2="3423.95" stroke="#000" stroke-width="6.0"/>
<line x1="1608.00" y1="3404.63" x2="1587.41" y2="3404.63" stroke="#000" stroke-width="6.0"/>
<line x1="1608.00" y1="3388.30" x2="1587.41" y2="3388.30" stroke="#000" stroke-width="6.0"/>
<line x1="1608.00" y1="3374.15" x2="1587.41" y2="3374.15" stroke="#000" stroke-width="6.0"/>
<line x1="1608.00" y1="3361.66" x2="1587.41" y2="3361.66" stroke="#000" stroke-width="6.0"/>
<line x1="1608.00" y1="3350.50" x2="1566.83" y2="3350.50" stroke="#000" stroke-width="6.0"/>
<line x1="1608.00" y1="3277.05" x2="1587.41" y2="3277.05" stroke="#000" stroke-width="6.0"/>
<line x1="1608.00" y1="3234.08" x2="1587.41" y2="3234.08" stroke="#000" stroke-width="6.0"/>
<line x1="1608.00" y1="3203.60" x2="1587.41" y2="3203.60" stroke="#000" stroke-width="6.0"/>
<line x1="1608.00" y1="3179.95" x2="1587.41" y2="3179.95" stroke="#000" stroke-width="6.0"/>
<line x1="1608.00" y1="3160.63" x2="1587.41" y2="3160.63" stroke="#000" stroke-width="6.0"/>
<line x1="1608.00" y1="3144.30" x2="1587.41" y2="3144.30" stroke="#000" stroke-width="6.0"/>
<line x1="1608.00" y1="3130.15" x2="1587.41" y2="3130.15" stroke="#000" stroke-width="6.0"/>
<line x1="1608.00" y1="3117.66" x2="1587.41" y2="3117.66" stroke="#000" stroke-width="6.0"/>
<line x1="1608.00" y1="3106.50" x2="1566.83" y2="3106.50" stroke="#000" stroke-width="6.0"/>
<line x1="1608.00" y1="3033.05" x2="1587.41" y2="3033.05" stroke="#000" stroke-width="6.0"/>
<line x1="1608.00" y1="2990.08" x2="1587.41" y2="2990.08" stroke="#000" stroke-width="6.0"/>
<line x1="1608.00" y1="2959.60" x2="1587.41" y2="2959.60" stroke="#000" stroke-width="6.0"/>
<line x1="1608.00" y1="2935.95" x2="1587.41" y2="2935.95" stroke="#000" stroke-width="6.0"/>
<line x1="1608.00" y1="2916.63" x2="1587.41" y2="2916.63" stroke="#000" stroke-width="6.0"/>
<line x1="1608.00" y1="2900.30" x2="1587.41" y2="2900.30" stroke="#000" stroke-width="6.0"/>
<line x1="1608.00" y1="2886.15" x2="1587.41" y2="2886.15" stroke="#000" stroke-width="6.0"/>
<line x1="1608.00" y1="2873.66" x2="1587.41" y2="2873.66" stroke="#000" stroke-width="6.0"/>
<line x1="1608.00" y1="2862.50" x2="1566.83" y2="2862.50" stroke="#000" stroke-width="6.0"/>
<line x1="1608.00" y1="2789.05" x2="1587.41" y2="2789.05" stroke="#000" stroke-width="6.0"/>
<line x1="1608.00" y1="2746.08" x2="1587.41" y2="2746.08" stroke="#000" stroke-width="6.0"/>
<line x1="1608.00" y1="2715.60" x2="1587.41" y2="2715.60" stroke="#000" stroke-width="6.0"/>
<line x1="1608.00" y1="2691.95" x2="1587.41" y2="2691.95" stroke="#000" stroke-width="6.0"/>
<line x1="1608.00" y1="2672.63" x2="1587.41" y2="2672.63" stroke="#000" stroke-width="6.0"/>
<line x1="1608.00" y1="2656.30" x2="1587.41" y2="2656.30" stroke="#000" stroke-width="6.0"/>
<line x1="1608.00" y1="2642.15" x2="1587.41" y2="2642.15" stroke="#000" stroke-width="6.0"/>
<line x1="1608.00" y1="2629.66" x2="1587.41" y2="2629.66" stroke="#000" stroke-width="6.0"/>
<line x1="1608.00" y1="2618.50" x2="1566.83" y2="2618.50" stroke="#000" stroke-width="6.0"/>
<line x1="1608.00" y1="2545.05" x2="1587.41" y2="2545.05" stroke="#000" stroke-width="6.0"/>
<line x1="1608.00" y1="2502.08" x2="1587.41" y2="2502.08" stroke="#000" stroke-width="6.0"/>
<line x1="1608.00" y1="2471.60" x2="1587.41" y2="2471.60" stroke="#000" stroke-width="6.0"/>
<line x1="1608.00" y1="2447.95" x2="1587.41" y2="2447.95" stroke="#000" stroke-width="6.0"/>
<line x1="1608.00" y1="2428.63" x2="1587.41" y2="2428.63" stroke="#000" stroke-width="6.0"/>
<line x1="1608.00" y1="2412.30" x2="1587.41" y2="2412.30" stroke="#000" stroke-width="6.0"/>
<line x1="414.51" y1="3589.40" x2="414.51" y2="3572.23" stroke="#000" stroke-width="6.0"/>
<line x1="498.27" y1="3589.40" x2="498.27" y2="3572.23" stroke="#000" stroke-width="6.0"/>
<line x1="582.02" y1="3589.40" x2="582.02" y2="3572.23" stroke="#000" stroke-width="6.0"/>
<line x1="665.77" y1="3589.40" x2="665.77" y2="3572.23" stroke="#000" stroke-width="6.0"/>
<line x1="749.53" y1="3589.40" x2="749.53" y2="3555.05" stroke="#000" stroke-width="6.0"/>
<line x1="833.28" y1="3589.40" x2="833.28" y2="3572.23" stroke="#000" stroke-width="6.0"/>
<line x1="917.04" y1="3589.40" x2="917.04" y2="3572.23" stroke="#000" stroke-width="6.0"/>
<line x1="1000.79" y1="3589.40" x2="1000.79" y2="3572.23" stroke="#000" stroke-width="6.0"/>
<line x1="1084.54" y1="3589.40" x2="1084.54" y2="3572.23" stroke="#000" stroke-width="6.0"/>
<line x1="1168.29" y1="3589.40" x2="1168.29" y2="3555.05" stroke="#000" stroke-width="6.0"/>
<line x1="1252.05" y1="3589.40" x2="1252.05" y2="3572.23" stroke="#000" stroke-width="6.0"/>
<line x1="1335.80" y1="3589.40" x2="1335.80" y2="3572.23" stroke="#000" stroke-width="6.0"/>
<line x1="1419.56" y1="3589.40" x2="1419.56" y2="3572.23" stroke="#000" stroke-width="6.0"/>
<line x1="1503.31" y1="3589.40" x2="1503.31" y2="3572.23" stroke="#000" stroke-width="6.0"/>
<line x1="1587.06" y1="3589.40" x2="1587.06" y2="3555.05" stroke="#000" stroke-width="6.0"/>
<line x1="414.51" y1="2398.50" x2="414.51" y2="2415.67" stroke="#000" stroke-width="6.0"/>
<line x1="498.27" y1="2398.50" x2="498.27" y2="2415.67" stroke="#000" stroke-width="6.0"/>
<line x1="582.02" y1="2398.50" x2="582.02" y2="2415.67" stroke="#000" stroke-width="6.0"/>
<line x1="665.77" y1="2398.50" x2="665.77" y2="2415.67" stroke="#000" stroke-width="6.0"/>
<line x1="749.53" y1="2398.50" x2="749.53" y2="2432.85" stroke="#000" stroke-width="6.0"/>
<line x1="833.28" y1="2398.50" x2="833.28" y2="2415.67" stroke="#000" stroke-width="6.0"/>
<line x1="917.04" y1="2398.50" x2="917.04" y2="2415.67" stroke="#000" stroke-width="6.0"/>
<line x1="1000.79" y1="2398.50" x2="1000.79" y2="2415.67" stroke="#000" stroke-width="6.0"/>
<line x1="1084.54" y1="2398.50" x2="1084.54" y2="2415.67" stroke="#000" stroke-width="6.0"/>
<line x1="1168.29" y1="2398.50" x2="1168.29" y2="2432.85" stroke="#000" stroke-width="6.0"/>
<line x1="1252.05" y1="2398.50" x2="1252.05" y2="2415.67" stroke="#000" stroke-width="6.0"/>
<line x1="1335.80" y1="2398.50" x2="1335.80" y2="2415.67" stroke="#000" stroke-width="6.0"/>
<line x1="1419.56" y1="2398.50" x2="1419.56" y2="2415.67" stroke="#000" stroke-width="6.0"/>
<line x1="1503.31" y1="2398.50" x2="1503.31" y2="2415.67" stroke="#000" stroke-width="6.0"/>
<line x1="1587.06" y1="2398.50" x2="1587.06" y2="2432.85" stroke="#000" stroke-width="6.0"/>
<line x1="1608.00" y1="1137.55" x2="1627.23" y2="1137.55" stroke="#000" stroke-width="6.0"/>
<line x1="1608.00" y1="1094.58" x2="1627.23" y2="1094.58" stroke="#000" stroke-width="6.0"/>
<line x1="1608.00" y1="1064.10" x2="1627.23" y2="1064.10" stroke="#000" stroke-width="6.0"/>
<line x1="1608.00" y1="1040.45" x2="1627.23" y2="1040.45" stroke="#000" stroke-width="6.0"/>
<line x1="1608.00" y1="1021.13" x2="1627.23" y2="1021.13" stroke="#000" stroke-width="6.0"/>
<line x1="1608.00" y1="1004.80" x2="1627.23" y2="1004.80" stroke="#000" stroke-width="6.0"/>
<line x1="1608.00" y1="990.65" x2="1627.23" y2="990.65" stroke="#000" stroke-width="6.0"/>
<line x1="1608.00" y1="978.16" x2="1627.23" y2="978.16" stroke="#000" stroke-width="6.0"/>
<line x1="1608.00" y1="967.00" x2="1646.45" y2="967.00" stroke="#000" stroke-width="6.0"/>
<line x1="1608.00" y1="893.55" x2="1627.23" y2="893.55" stroke="#000" stroke-width="6.0"/>
<line x1="1608.00" y1="850.58" x2="1627.23" y2="850.58" stroke="#000" stroke-width="6.0"/>
<line x1="1608.00" y1="820.10" x2="1627.23" y2="820.10" stroke="#000" stroke-width="6.0"/>
<line x1="1608.00" y1="796.45" x2="1627.23" y2="796.45" stroke="#000" stroke-width="6.0"/>
<line x1="1608.00" y1="777.13" x2="1627.23" y2="777.13" stroke="#000" stroke-width="6.0"/>
<line x1="1608.00" y1="760.80" x2="1627.23" y2="760.80" stroke="#000" stroke-width="6.0"/>
<line x1="1608.00" y1="746.65" x2="1627.23" y2="746.65" stroke="#000" stroke-width="6.0"/>
<line x1="1608.00" y1="734.16" x2="1627.23" y2="734.16" stroke="#000" stroke-width="6.0"/>
<line x1="1608.00" y1="723.00" x2="1646.45" y2="723.00" stroke="#000" stroke-width="6.0"/>
<line x1="1608.00" y1="649.55" x2="1627.23" y2="649.55" stroke="#000" stroke-width="6.0"/>
<line x1="1608.00" y1="606.58" x2="1627.23" y2="606.58" stroke="#000" stroke-width="6.0"/>
<line x1="1608.00" y1="576.10" x2="1627.23" y2="576.10" stroke="#000" stroke-width="6.0"/>
<line x1="1608.00" y1="552.45" x2="1627.23" y2="552.45" stroke="#000" stroke-width="6.0"/>
<line x1="1608.00" y1="533.13" x2="1627.23" y2="533.13" stroke="#000" stroke-width="6.0"/>
<line x1="1608.00" y1="516.80" x2="1627.23" y2="516.80" stroke="#000" stroke-width="6.0"/>
<line x1="1608.00" y1="502.65" x2="1627.23" y2="502.65" stroke="#000" stroke-width="6.0"/>
<line x1="1608.00" y1="490.16" x2="1627.23" y2="490.16" stroke="#000" stroke-width="6.0"/>
<line x1="1608.00" y1="479.00" x2="1646.45" y2="479.00" stroke="#000" stroke-width="6.0"/>
<line x1="1608.00" y1="405.55" x2="1627.23" y2="405.55" stroke="#000" stroke-width="6.0"/>
<line x1="1608.00" y1="362.58" x2="1627.23" y2="362.58" stroke="#000" stroke-width="6.0"/>
<line x1="1608.00" y1="332.10" x2="1627.23" y2="332.10" stroke="#000" stroke-width="6.0"/>
<line x1="1608.00" y1="308.45" x2="1627.23" y2="308.45" stroke="#000" stroke-width="6.0"/>
<line x1="1608.00" y1="289.13" x2="1627.23" y2="289.13" stroke="#000" stroke-width="6.0"/>
<line x1="1608.00" y1="272.80" x2="1627.23" y2="272.80" stroke="#000" stroke-width="6.0"/>
<line x1="1608.00" y1="258.65" x2="1627.23" y2="258.65" stroke="#000" stroke-width="6.0"/>
<line x1="1608.00" y1="246.16" x2="1627.23" y2="246.16" stroke="#000" stroke-width="6.0"/>
<line x1="1608.00" y1="235.00" x2="1646.45" y2="235.00" stroke="#000" stroke-width="6.0"/>
<line x1="1608.00" y1="161.55" x2="1627.23" y2="161.55" stroke="#000" stroke-width="6.0"/>
<line x1="1608.00" y1="118.58" x2="1627.23" y2="118.58" stroke="#000" stroke-width="6.0"/>
<line x1="1608.00" y1="88.10" x2="1627.23" y2="88.10" stroke="#000" stroke-width="6.0"/>
<line x1="1608.00" y1="64.45" x2="1627.23" y2="64.45" stroke="#000" stroke-width="6.0"/>
<line x1="1608.00" y1="45.13" x2="1627.23" y2="45.13" stroke="#000" stroke-width="6.0"/>
<line x1="1608.00" y1="28.80" x2="1627.23" y2="28.80" stroke="#000" stroke-width="6.0"/>
<line x1="2864.00" y1="1137.55" x2="2844.77" y2="1137.55" stroke="#000" stroke-width="6.0"/>
<line x1="2864.00" y1="1094.58" x2="2844.77" y2="1094.58" stroke="#000" stroke-width="6.0"/>
<line x1="2864.00" y1="1064.10" x2="2844.77" y2="1064.10" stroke="#000" stroke-width="6.0"/>
<line x1="2864.00" y1="1040.45" x2="2844.77" y2="1040.45" stroke="#000" stroke-width="6.0"/>
<line x1="2864.00" y1="1021.13" x2="2844.77" y2="1021.13" stroke="#000" stroke-width="6.0"/>
<line x1="2864.00" y1="1004.80" x2="2844.77" y2="1004.80" stroke="#000" stroke-width="6.0"/>
<line x1="2864.00" y1="990.65" x2="2844.77" y2="990.65" stroke="#000" stroke-width="6.0"/>
<line x1="2864.00" y1="978.16" x2="2844.77" y2="978.16" stroke="#000" stroke-width="6.0"/>
<line x1="2864.00" y1="967.00" x2="2825.55" y2="967.00" stroke="#000" stroke-width="6.0"/>
<line x1="2864.00" y1="893.55" x2="2844.77" y2="893.55" stroke="#000" stroke-width="6.0"/>
<line x1="2864.00" y1="850.58" x2="2844.77" y2="850.58" stroke="#000" stroke-width="6.0"/>
<line x1="2864.00" y1="820.10" x2="2844.77" y2="820.10" stroke="#000" stroke-width="6.0"/>
<line x1="2864.00" y1="796.45" x2="2844.77" y2="796.45" stroke="#000" stroke-width="6.0"/>
<line x1="2864.00" y1="777.13" x2="2844.77" y2="777.13" stroke="#000" stroke-width="6.0"/>
<line x1="2864.00" y1="760.80" x2="2844.77" y2="760.80" stroke="#000" stroke-width="6.0"/>
<line x1="2864.00" y1="746.65" x2="2844.77" y2="746.65" stroke="#000" stroke-width="6.0"/>
<line x1="2864.00" y1="734.16" x2="2844.77" y2="734.16" stroke="#000" stroke-width="6.0"/>
<line x1="2864.00" y1="723.00" x2="2825.55" y2="723.00" stroke="#000" stroke-width="6.0"/>
<line x1="2864.00" y1="649.55" x2="2844.77" y2="649.55" stroke="#000" stroke-width="6.0"/>
<line x1="2864.00" y1="606.58" x2="2844.77" y2="606.58" stroke="#000" stroke-width="6.0"/>
<line x1="2864.00" y1="576.10" x2="2844.77" y2="576.10" stroke="#000" stroke-width="6.0"/>
<line x1="2864.00" y1="552.45" x2="2844.77" y2="552.45" stroke="#000" stroke-width="6.0"/>
<line x1="2864.00" y1="533.13" x2="2844.77" y2="533.13" stroke="#000" stroke-width="6.0"/>
<line x1="2864.00" y1="516.80" x2="2844.77" y2="516.80" stroke="#000" stroke-width="6.0"/>
<line x1="2864.00" y1="502.65" x2="2844.77" y2="502.65" stroke="#000" stroke-width="6.0"/>
<line x1="2864.00" y1="490.16" x2="2844.77" y2="490.16" stroke="#000" stroke-width="6.0"/>
<line x1="2864.00" y1="479.00" x2="2825.55" y2="479.00" stroke="#000" stroke-width="6.0"/>
<line x1="2864.00" y1="405.55" x2="2844.77" y2="405.55" stroke="#000" stroke-width="6.0"/>
<line x1="2864.00" y1="362.58" x2="2844.77" y2="362.58" stroke="#000" stroke-width="6.0"/>
<line x1="2864.00" y1="332.10" x2="2844.77" y2="332.10" stroke="#000" stroke-width="6.0"/>
<line x1="2864.00" y1="308.45" x2="2844.77" y2="308.45" stroke="#000" stroke-width="6.0"/>
<line x1="2864.00" y1="289.13" x2="2844.77" y2="289.13" stroke="#000" stroke-width="6.0"/>
<line x1="2864.00" y1="272.80" x2="2844.77" y2="272.80" stroke="#000" stroke-width="6.0"/>
<line x1="2864.00" y1="258.65" x2="2844.77" y2="258.65" stroke="#000" stroke-width="6.0"/>
<line x1="2864.00" y1="246.16" x2="2844.77" y2="246.16" stroke="#000" stroke-width="6.0"/>
<line x1="2864.00" y1="235.00" x2="2825.55" y2="235.00" stroke="#000" stroke-width="6.0"/>
<line x1="2864.00" y1="161.55" x2="2844.77" y2="161.55" stroke="#000" stroke-width="6.0"/>
<line x1="2864.00" y1="118.58" x2="2844.77" y2="118.58" stroke="#000" stroke-width="6.0"/>
<line x1="2864.00" y1="88.10" x2="2844.77" y2="88.10" stroke="#000" stroke-width="6.0"/>
<line x1="2864.00" y1="64.45" x2="2844.77" y2="64.45" stroke="#000" stroke-width="6.0"/>
<line x1="2864.00" y1="45.13" x2="2844.77" y2="45.13" stroke="#000" stroke-width="6.0"/>
<line x1="2864.00" y1="28.80" x2="2844.77" y2="28.80" stroke="#000" stroke-width="6.0"/>
<line x1="1670.82" y1="1206.10" x2="1670.82" y2="1187.71" stroke="#000" stroke-width="6.0"/>
<line x1="1754.57" y1="1206.10" x2="1754.57" y2="1187.71" stroke="#000" stroke-width="6.0"/>
<line x1="1838.32" y1="1206.10" x2="1838.32" y2="1187.71" stroke="#000" stroke-width="6.0"/>
<line x1="1922.08" y1="1206.10" x2="1922.08" y2="1187.71" stroke="#000" stroke-width="6.0"/>
<line x1="2005.83" y1="1206.10" x2="2005.83" y2="1169.32" stroke="#000" stroke-width="6.0"/>
<line x1="2089.58" y1="1206.10" x2="2089.58" y2="1187.71" stroke="#000" stroke-width="6.0"/>
<line x1="2173.34" y1="1206.10" x2="2173.34" y2="1187.71" stroke="#000" stroke-width="6.0"/>
<line x1="2257.09" y1="1206.10" x2="2257.09" y2="1187.71" stroke="#000" stroke-width="6.0"/>
<line x1="2340.84" y1="1206.10" x2="2340.84" y2="1187.71" stroke="#000" stroke-width="6.0"/>
<line x1="2424.59" y1="1206.10" x2="2424.59" y2="1169.32" stroke="#000" stroke-width="6.0"/>
<line x1="2508.35" y1="1206.10" x2="2508.35" y2="1187.71" stroke="#000" stroke-width="6.0"/>
<line x1="2592.10" y1="1206.10" x2="2592.10" y2="1187.71" stroke="#000" stroke-width="6.0"/>
<line x1="2675.86" y1="1206.10" x2="2675.86" y2="1187.71" stroke="#000" stroke-width="6.0"/>
<line x1="2759.61" y1="1206.10" x2="2759.61" y2="1187.71" stroke="#000" stroke-width="6.0"/>
<line x1="2843.36" y1="1206.10" x2="2843.36" y2="1169.32" stroke="#000" stroke-width="6.0"/>
<line x1="1670.82" y1="15.00" x2="1670.82" y2="33.39" stroke="#000" stroke-width="6.0"/>
<line x1="1754.57" y1="15.00" x2="1754.57" y2="33.39" stroke="#000" stroke-width="6.0"/>
<line x1="1838.32" y1="15.00" x2="1838.32" y2="33.39" stroke="#000" stroke-width="6.0"/>
<line x1="1922.08" y1="15.00" x2="1922.08" y2="33.39" stroke="#000" stroke-width="6.0"/>
<line x1="2005.83" y1="15.00" x2="2005.83" y2="51.78" stroke="#000" stroke-width="6.0"/>
<line x1="2089.58" y1="15.00" x2="2089.58" y2="33.39" stroke="#000" stroke-width="6.0"/>
<line x1="2173.34" y1="15.00" x2="2173.34" y2="33.39" stroke="#000" stroke-width="6.0"/>
<line x1="2257.09" y1="15.00" x2="2257.09" y2="33.39" stroke="#000" stroke-width="6.0"/>
<line x1="2340.84" y1="15.00" x2="2340.84" y2="33.39" stroke="#000" stroke-width="6.0"/>
<line x1="2424.59" y1="15.00" x2="2424.59" y2="51.78" stroke="#000" stroke-width="6.0"/>
<line x1="2508.35" y1="15.00" x2="2508.35" y2="33.39" stroke="#000" stroke-width="6.0"/>
<line x1="2592.10" y1="15.00" x2="2592.10" y2="33.39" stroke="#000" stroke-width="6.0"/>
<line x1="2675.86" y1="15.00" x2="2675.86" y2="33.39" stroke="#000" stroke-width="6.0"/>
<line x1="2759.61" y1="15.00" x2="2759.61" y2="33.39" stroke="#000" stroke-width="6.0"/>
<line x1="2843.36" y1="15.00" x2="2843.36" y2="51.78" stroke="#000" stroke-width="6.0"/>
<line x1="1608.00" y1="2328.65" x2="1627.47" y2="2328.65" stroke="#000" stroke-width="6.0"/>
<line x1="1608.00" y1="2285.68" x2="1627.47" y2="2285.68" stroke="#000" stroke-width="6.0"/>
<line x1="1608.00" y1="2255.20" x2="1627.47" y2="2255.20" stroke="#000" stroke-width="6.0"/>
<line x1="1608.00" y1="2231.55" x2="1627.47" y2="2231.55" stroke="#000" stroke-width="6.0"/>
<line x1="1608.00" y1="2212.23" x2="1627.47" y2="2212.23" stroke="#000" stroke-width="6.0"/>
<line x1="1608.00" y1="2195.90" x2="1627.47" y2="2195.90" stroke="#000" stroke-width="6.0"/>
<line x1="1608.00" y1="2181.75" x2="1627.47" y2="2181.75" stroke="#000" stroke-width="6.0"/>
<line x1="1608.00" y1="2169.26" x2="1627.47" y2="2169.26" stroke="#000" stroke-width="6.0"/>
<line x1="1608.00" y1="2158.10" x2="1646.94" y2="2158.10" stroke="#000" stroke-width="6.0"/>
<line x1="1608.00" y1="2084.65" x2="1627.47" y2="2084.65" stroke="#000" stroke-width="6.0"/>
<line x1="1608.00" y1="2041.68" x2="1627.47" y2="2041.68" stroke="#000" stroke-width="6.0"/>
<line x1="1608.00" y1="2011.20" x2="1627.47" y2="2011.20" stroke="#000" stroke-width="6.0"/>
<line x1="1608.00" y1="1987.55" x2="1627.47" y2="1987.55" stroke="#000" stroke-width="6.0"/>
<line x1="1608.00" y1="1968.23" x2="1627.47" y2="1968.23" stroke="#000" stroke-width="6.0"/>
<line x1="1608.00" y1="1951.90" x2="1627.47" y2="1951.90" stroke="#000" stroke-width="6.0"/>
<line x1="1608.00" y1="1937.75" x2="1627.47" y2="1937.75" stroke="#000" stroke-width="6.0"/>
<line x1="1608.00" y1="1925.26" x2="1627.47" y2="1925.26" stroke="#000" stroke-width="6.0"/>
<line x1="1608.00" y1="1914.10" x2="1646.94" y2="1914.10" stroke="#000" stroke-width="6.0"/>
<line x1="1608.00" y1="1840.65" x2="1627.47" y2="1840.65" stroke="#000" stroke-width="6.0"/>
<line x1="1608.00" y1="1797.68" x2="1627.47" y2="1797.68" stroke="#000" stroke-width="6.0"/>
<line x1="1608.00" y1="1767.20" x2="1627.47" y2="1767.20" stroke="#000" stroke-width="6.0"/>
<line x1="1608.00" y1="1743.55" x2="1627.47" y2="1743.55" stroke="#000" stroke-width="6.0"/>
<line x1="1608.00" y1="1724.23" x2="1627.47" y2="1724.23" stroke="#000" stroke-width="6.0"/>
<line x1="1608.00" y1="1707.90" x2="1627.47" y2="1707.90" stroke="#000" stroke-width="6.0"/>
<line x1="1608.00" y1="1693.75" x2="1627.47" y2="1693.75" stroke="#000" stroke-width="6.0"/>
<line x1="1608.00" y1="1681.26" x2="1627.47" y2="1681.26" stroke="#000" stroke-width="6.0"/>
<line x1="1608.00" y1="1670.10" x2="1646.94" y2="1670.10" stroke="#000" stroke-width="6.0"/>
<line x1="1608.00" y1="1596.65" x2="1627.47" y2="1596.65" stroke="#000" stroke-width="6.0"/>
<line x1="1608.00" y1="1553.68" x2="1627.47" y2="1553.68" stroke="#000" stroke-width="6.0"/>
<line x1="1608.00" y1="1523.20" x2="1627.47" y2="1523.20" stroke="#000" stroke-width="6.0"/>
<line x1="1608.00" y1="1499.55" x2="1627.47" y2="1499.55" stroke="#000" stroke-width="6.0"/>
<line x1="1608.00" y1="1480.23" x2="1627.47" y2="1480.23" stroke="#000" stroke-width="6.0"/>
<line x1="1608.00" y1="1463.90" x2="1627.47" y2="1463.90" stroke="#000" stroke-width="6.0"/>
<line x1="1608.00" y1="1449.75" x2="1627.47" y2="1449.75" stroke="#000" stroke-width="6.0"/>
<line x1="1608.00" y1="1437.26" x2="1627.47" y2="1437.26" stroke="#000" stroke-width="6.0"/>
<line x1="1608.00" y1="1426.10" x2="1646.94" y2="1426.10" stroke="#000" stroke-width="6.0"/>
<line x1="1608.00" y1="1352.65" x2="1627.47" y2="1352.65" stroke="#000" stroke-width="6.0"/>
<line x1="1608.00" y1="1309.68" x2="1627.47" y2="1309.68" stroke="#000" stroke-width="6.0"/>
<line x1="1608.00" y1="1279.20" x2="1627.47" y2="1279.20" stroke="#000" stroke-width="6.0"/>
<line x1="1608.00" y1="1255.55" x2="1627.47" y2="1255.55" stroke="#000" stroke-width="6.0"/>
<line x1="1608.00" y1="1236.23" x2="1627.47" y2="1236.23" stroke="#000" stroke-width="6.0"/>
<line x1="1608.00" y1="1219.90" x2="1627.47" y2="1219.90" stroke="#000" stroke-width="6.0"/>
<line x1="2864.00" y1="2328.65" x2="2844.53" y2="2328.65" stroke="#000" stroke-width="6.0"/>
<line x1="2864.00" y1="2285.68" x2="2844.53" y2="2285.68" stroke="#000" stroke-width="6.0"/>
<line x1="2864.00" y1="2255.20" x2="2844.53" y2="2255.20" stroke="#000" stroke-width="6.0"/>
<line x1="2864.00" y1="2231.55" x2="2844.53" y2="2231.55" stroke="#000" stroke-width="6.0"/>
<line x1="2864.00" y1="2212.23" x2="2844.53" y2="2212.23" stroke="#000" stroke-width="6.0"/>
<line x1="2864.00" y1="2195.90" x2="2844.53" y2="2195.90" stroke="#000" stroke-width="6.0"/>
<line x1="2864.00" y1="2181.75" x2="2844.53" y2="2181.75" stroke="#000" stroke-width="6.0"/>
<line x1="2864.00" y1="2169.26" x2="2844.53" y2="2169.26" stroke="#000" stroke-width="6.0"/>
<line x1="2864.00" y1="2158.10" x2="2825.06" y2="2158.10" stroke="#000" stroke-width="6.0"/>
<line x1="2864.00" y1="2084.65" x2="2844.53" y2="2084.65" stroke="#000" stroke-width="6.0"/>
<line x1="2864.00" y1="2041.68" x2="2844.53" y2="2041.68" stroke="#000" stroke-width="6.0"/>
<line x1="2864.00" y1="2011.20" x2="2844.53" y2="2011.20" stroke="#000" stroke-width="6.0"/>
<line x1="2864.00" y1="1987.55" x2="2844.53" y2="1987.55" stroke="#000" stroke-width="6.0"/>
<line x1="2864.00" y1="1968.23" x2="2844.53" y2="1968.23" stroke="#000" stroke-width="6.0"/>
<line x1="2864.00" y1="1951.90" x2="2844.53" y2="1951.90" stroke="#000" stroke-width="6.0"/>
<line x1="2864.00" y1="1937.75" x2="2844.53" y2="1937.75" stroke="#000" stroke-width="6.0"/>
<line x1="2864.00" y1="1925.26" x2="2844.53" y2="1925.26" stroke="#000" stroke-width="6.0"/>
<line x1="2864.00" y1="1914.10" x2="2825.06" y2="1914.10" stroke="#000" stroke-width="6.0"/>
<line x1="2864.00" y1="1840.65" x2="2844.53" y2="1840.65" stroke="#000" stroke-width="6.0"/>
<line x1="2864.00" y1="1797.68" x2="2844.53" y2="1797.68" stroke="#000" stroke-width="6.0"/>
<line x1="2864.00" y1="1767.20" x2="2844.53" y2="1767.20" stroke="#000" stroke-width="6.0"/>
<line x1="2864.00" y1="1743.55" x2="2844.53" y2="1743.55" stroke="#000" stroke-width="6.0"/>
<line x1="2864.00" y1="1724.23" x2="2844.53" y2="1724.23" stroke="#000" stroke-width="6.0"/>
<line x1="2864.00" y1="1707.90" x2="2844.53" y2="1707.90" stroke="#000" stroke-width="6.0"/>
<line x1="2864.00" y1="1693.75" x2="2844.53" y2="1693.75" stroke="#000" stroke-width="6.0"/>
<line x1="2864.00" y1="1681.26" x2="2844.53" y2="1681.26" stroke="#000" stroke-width="6.0"/>
<line x1="2864.00" y1="1670.10" x2="2825.06" y2="1670.10" stroke="#000" stroke-width="6.0"/>
<line x1="2864.00" y1="1596.65" x2="2844.53" y2="1596.65" stroke="#000" stroke-width="6.0"/>
<line x1="2864.00" y1="1553.68" x2="2844.53" y2="1553.68" stroke="#000" stroke-width="6.0"/>
<line x1="2864.00" y1="1523.20" x2="2844.53" y2="1523.20" stroke="#000" stroke-width="6.0"/>
<line x1="2864.00" y1="1499.55" x2="2844.53" y2="1499.55" stroke="#000" stroke-width="6.0"/>
<line x1="2864.00" y1="1480.23" x2="2844.53" y2="1480.23" stroke="#000" stroke-width="6.0"/>
<line x1="2864.00" y1="1463.90" x2="2844.53" y2="1463.90" stroke="#000" stroke-width="6.0"/>
<line x1="2864.00" y1="1449.75" x2="2844.53" y2="1449.75" stroke="#000" stroke-width="6.0"/>
<line x1="2864.00" y1="1437.26" x2="2844.53" y2="1437.26" stroke="#000" stroke-width="6.0"/>
<line x1="2864.00" y1="1426.10" x2="2825.06" y2="1426.10" stroke="#000" stroke-width="6.0"/>
<line x1="2864.00" y1="1352.65" x2="2844.53" y2="1352.65" stroke="#000" stroke-width="6.0"/>
<line x1="2864.00" y1="1309.68" x2="2844.53" y2="1309.68" stroke="#000" stroke-width="6.0"/>
<line x1="2864.00" y1="1279.20" x2="2844.53" y2="1279.20" stroke="#000" stroke-width="6.0"/>
<line x1="2864.00" y1="1255.55" x2="2844.53" y2="1255.55" stroke="#000" stroke-width="6.0"/>
<line x1="2864.00" y1="1236.23" x2="2844.53" y2="1236.23" stroke="#000" stroke-width="6.0"/>
<line x1="2864.00" y1="1219.90" x2="2844.53" y2="1219.90" stroke="#000" stroke-width="6.0"/>
<line x1="1670.82" y1="2398.50" x2="1670.82" y2="2380.32" stroke="#000" stroke-width="6.0"/>
<line x1="1754.57" y1="2398.50" x2="1754.57" y2="2380.32" stroke="#000" stroke-width="6.0"/>
<line x1="1838.32" y1="2398.50" x2="1838.32" y2="2380.32" stroke="#000" stroke-width="6.0"/>
<line x1="1922.08" y1="2398.50" x2="1922.08" y2="2380.32" stroke="#000" stroke-width="6.0"/>
<line x1="2005.83" y1="2398.50" x2="2005.83" y2="2362.14" stroke="#000" stroke-width="6.0"/>
<line x1="2089.58" y1="2398.50" x2="2089.58" y2="2380.32" stroke="#000" stroke-width="6.0"/>
<line x1="2173.34" y1="2398.50" x2="2173.34" y2="2380.32" stroke="#000" stroke-width="6.0"/>
<line x1="2257.09" y1="2398.50" x2="2257.09" y2="2380.32" stroke="#000" stroke-width="6.0"/>
<line x1="2340.84" y1="2398.50" x2="2340.84" y2="2380.32" stroke="#000" stroke-width="6.0"/>
<line x1="2424.59" y1="2398.50" x2="2424.59" y2="2362.14" stroke="#000" stroke-width="6.0"/>
<line x1="2508.35" y1="2398.50" x2="2508.35" y2="2380.32" stroke="#000" stroke-width="6.0"/>
<line x1="2592.10" y1="2398.50" x2="2592.10" y2="2380.32" stroke="#000" stroke-width="6.0"/>
<line x1="2675.86" y1="2398.50" x2="2675.86" y2="2380.32" stroke="#000" stroke-width="6.0"/>
<line x1="2759.61" y1="2398.50" x2="2759.61" y2="2380.32" stroke="#000" stroke-width="6.0"/>
<line x1="2843.36" y1="2398.50" x2="2843.36" y2="2362.14" stroke="#000" stroke-width="6.0"/>
<line x1="1670.82" y1="1206.10" x2="1670.82" y2="1224.28" stroke="#000" stroke-width="6.0"/>
<line x1="1754.57" y1="1206.10" x2="1754.57" y2="1224.28" stroke="#000" stroke-width="6.0"/>
<line x1="1838.32" y1="1206.10" x2="1838.32" y2="1224.28" stroke="#000" stroke-width="6.0"/>
<line x1="1922.08" y1="1206.10" x2="1922.08" y2="1224.28" stroke="#000" stroke-width="6.0"/>
<line x1="2005.83" y1="1206.10" x2="2005.83" y2="1242.46" stroke="#000" stroke-width="6.0"/>
<line x1="2089.58" y1="1206.10" x2="2089.58" y2="1224.28" stroke="#000" stroke-width="6.0"/>
<line x1="2173.34" y1="1206.10" x2="2173.34" y2="1224.28" stroke="#000" stroke-width="6.0"/>
<line x1="2257.09" y1="1206.10" x2="2257.09" y2="1224.28" stroke="#000" stroke-width="6.0"/>
<line x1="2340.84" y1="1206.10" x2="2340.84" y2="1224.28" stroke="#000" stroke-width="6.0"/>
<line x1="2424.59" y1="1206.10" x2="2424.59" y2="1242.46" stroke="#000" stroke-width="6.0"/>
<line x1="2508.35" y1="1206.10" x2="2508.35" y2="1224.28" stroke="#000" stroke-width="6.0"/>
<line x1="2592.10" y1="1206.10" x2="2592.10" y2="1224.28" stroke="#000" stroke-width="6.0"/>
<line x1="2675.86" y1="1206.10" x2="2675.86" y2="1224.28" stroke="#000" stroke-width="6.0"/>
<line x1="2759.61" y1="1206.10" x2="2759.61" y2="1224.28" stroke="#000" stroke-width="6.0"/>
<line x1="2843.36" y1="1206.10" x2="2843.36" y2="1242.46" stroke="#000" stroke-width="6.0"/>
<line x1="1608.00" y1="3521.05" x2="1624.08" y2="3521.05" stroke="#000" stroke-width="6.0"/>
<line x1="1608.00" y1="3478.08" x2="1624.08" y2="3478.08" stroke="#000" stroke-width="6.0"/>
<line x1="1608.00" y1="3447.60" x2="1624.08" y2="3447.60" stroke="#000" stroke-width="6.0"/>
<line x1="1608.00" y1="3423.95" x2="1624.08" y2="3423.95" stroke="#000" stroke-width="6.0"/>
<line x1="1608.00" y1="3404.63" x2="1624.08" y2="3404.63" stroke="#000" stroke-width="6.0"/>
<line x1="1608.00" y1="3388.30" x2="1624.08" y2="3388.30" stroke="#000" stroke-width="6.0"/>
<line x1="1608.00" y1="3374.15" x2="1624.08" y2="3374.15" stroke="#000" stroke-width="6.0"/>
<line x1="1608.00" y1="3361.66" x2="1624.08" y2="3361.66" stroke="#000" stroke-width="6.0"/>
<line x1="1608.00" y1="3350.50" x2="1640.16" y2="3350.50" stroke="#000" stroke-width="6.0"/>
<line x1="1608.00" y1="3277.05" x2="1624.08" y2="3277.05" stroke="#000" stroke-width="6.0"/>
<line x1="1608.00" y1="3234.08" x2="1624.08" y2="3234.08" stroke="#000" stroke-width="6.0"/>
<line x1="1608.00" y1="3203.60" x2="1624.08" y2="3203.60" stroke="#000" stroke-width="6.0"/>
<line x1="1608.00" y1="3179.95" x2="1624.08" y2="3179.95" stroke="#000" stroke-width="6.0"/>
<line x1="1608.00" y1="3160.63" x2="1624.08" y2="3160.63" stroke="#000" stroke-width="6.0"/>
<line x1="1608.00" y1="3144.30" x2="1624.08" y2="3144.30" stroke="#000" stroke-width="6.0"/>
<line x1="1608.00" y1="3130.15" x2="1624.08" y2="3130.15" stroke="#000" stroke-width="6.0"/>
<line x1="1608.00" y1="3117.66" x2="1624.08" y2="3117.66" stroke="#000" stroke-width="6.0"/>
<line x1="1608.00" y1="3106.50" x2="1640.16" y2="3106.50" stroke="#000" stroke-width="6.0"/>
<line x1="1608.00" y1="3033.05" x2="1624.08" y2="3033.05" stroke="#000" stroke-width="6.0"/>
<line x1="1608.00" y1="2990.08" x2="1624.08" y2="2990.08" stroke="#000" stroke-width="6.0"/>
<line x1="1608.00" y1="2959.60" x2="1624.08" y2="2959.60" stroke="#000" stroke-width="6.0"/>
<line x1="1608.00" y1="2935.95" x2="1624.08" y2="2935.95" stroke="#000" stroke-width="6.0"/>
<line x1="1608.00" y1="2916.63" x2="1624.08" y2="2916.63" stroke="#000" stroke-width="6.0"/>
<line x1="1608.00" y1="2900.30" x2="1624.08" y2="2900.30" stroke="#000" stroke-width="6.0"/>
<line x1="1608.00" y1="2886.15" x2="1624.08" y2="2886.15" stroke="#000" stroke-width="6.0"/>
<line x1="1608.00" y1="2873.66" x2="1624.08" y2="2873.66" stroke="#000" stroke-width="6.0"/>
<line x1="1608.00" y1="2862.50" x2="1640.16" y2="2862.50" stroke="#000" stroke-width="6.0"/>
<line x1="1608.00" y1="2789.05" x2="1624.08" y2="2789.05" stroke="#000" stroke-width="6.0"/>
<line x1="1608.00" y1="2746.08" x2="1624.08" y2="2746.08" stroke="#000" stroke-width="6.0"/>
<line x1="1608.00" y1="2715.60" x2="1624.08" y2="2715.60" stroke="#000" stroke-width="6.0"/>
<line x1="1608.00" y1="2691.95" x2="1624.08" y2="2691.95" stroke="#000" stroke-width="6.0"/>
<line x1="1608.00" y1="2672.63" x2="1624.08" y2="2672.63" stroke="#000" stroke-width="6.0"/>
<line x1="1608.00" y1="2656.30" x2="1624.08" y2="2656.30" stroke="#000" stroke-width="6.0"/>
<line x1="1608.00" y1="2642.15" x2="1624.08" y2="2642.15" stroke="#000" stroke-width="6.0"/>
<line x1="1608.00" y1="2629.66" x2="1624.08" y2="2629.66" stroke="#000" stroke-width="6.0"/>
<line x1="1608.00" y1="2618.50" x2="1640.16" y2="2618.50" stroke="#000" stroke-width="6.0"/>
<line x1="1608.00" y1="2545.05" x2="1624.08" y2="2545.05" stroke="#000" stroke-width="6.0"/>
<line x1="1608.00" y1="2502.08" x2="1624.08" y2="2502.08" stroke="#000" stroke-width="6.0"/>
<line x1="1608.00" y1="2471.60" x2="1624.08" y2="2471.60" stroke="#000" stroke-width="6.0"/>
<line x1="1608.00" y1="2447.95" x2="1624.08" y2="2447.95" stroke="#000" stroke-width="6.0"/>
<line x1="1608.00" y1="2428.63" x2="1624.08" y2="2428.63" stroke="#000" stroke-width="6.0"/>
<line x1="1608.00" y1="2412.30" x2="1624.08" y2="2412.30" stroke="#000" stroke-width="6.0"/>
<line x1="2864.00" y1="3521.05" x2="2847.92" y2="3521.05" stroke="#000" stroke-width="6.0"/>
<line x1="2864.00" y1="3478.08" x2="2847.92" y2="3478.08" stroke="#000" stroke-width="6.0"/>
<line x1="2864.00" y1="3447.60" x2="2847.92" y2="3447.60" stroke="#000" stroke-width="6.0"/>
<line x1="2864.00" y1="3423.95" x2="2847.92" y2="3423.95" stroke="#000" stroke-width="6.0"/>
<line x1="2864.00" y1="3404.63" x2="2847.92" y2="3404.63" stroke="#000" stroke-width="6.0"/>
<line x1="2864.00" y1="3388.30" x2="2847.92" y2="3388.30" stroke="#000" stroke-width="6.0"/>
<line x1="2864.00" y1="3374.15" x2="2847.92" y2="3374.15" stroke="#000" stroke-width="6.0"/>
<line x1="2864.00" y1="3361.66" x2="2847.92" y2="3361.66" stroke="#000" stroke-width="6.0"/>
<line x1="2864.00" y1="3350.50" x2="2831.84" y2="3350.50" stroke="#000" stroke-width="6.0"/>
<line x1="2864.00" y1="3277.05" x2="2847.92" y2="3277.05" stroke="#000" stroke-width="6.0"/>
<line x1="2864.00" y1="3234.08" x2="2847.92" y2="3234.08" stroke="#000" stroke-width="6.0"/>
<line x1="2864.00" y1="3203.60" x2="2847.92" y2="3203.60" stroke="#000" stroke-width="6.0"/>
<line x1="2864.00" y1="3179.95" x2="2847.92" y2="3179.95" stroke="#000" stroke-width="6.0"/>
<line x1="2864.00" y1="3160.63" x2="2847.92" y2="3160.63" stroke="#000" stroke-width="6.0"/>
<line x1="2864.00" y1="3144.30" x2="2847.92" y2="3144.30" stroke="#000" stroke-width="6.0"/>
<line x1="2864.00" y1="3130.15" x2="2847.92" y2="3130.15" stroke="#000" stroke-width="6.0"/>
<line x1="2864.00" y1="3117.66" x2="2847.92" y2="3117.66" stroke="#000" stroke-width="6.0"/>
<line x1="2864.00" y1="3106.50" x2="2831.84" y2="3106.50" stroke="#000" stroke-width="6.0"/>
<line x1="2864.00" y1="3033.05" x2="2847.92" y2="3033.05" stroke="#000" stroke-width="6.0"/>
<line x1="2864.00" y1="2990.08" x2="2847.92" y2="2990.08" stroke="#000" stroke-width="6.0"/>
<line x1="2864.00" y1="2959.60" x2="2847.92" y2="2959.60" stroke="#000" stroke-width="6.0"/>
<line x1="2864.00" y1="2935.95" x2="2847.92" y2="2935.95" stroke="#000" stroke-width="6.0"/>
<line x1="2864.00" y1="2916.63" x2="2847.92" y2="2916.63" stroke="#000" stroke-width="6.0"/>
<line x1="2864.00" y1="2900.30" x2="2847.92" y2="2900.30" stroke="#000" stroke-width="6.0"/>
<line x1="2864.00" y1="2886.15" x2="2847.92" y2="2886.15" stroke="#000" stroke-width="6.0"/>
<line x1="2864.00" y1="2873.66" x2="2847.92" y2="2873.66" stroke="#000" stroke-width="6.0"/>
<line x1="2864.00" y1="2862.50" x2="2831.84" y2="2862.50" stroke="#000" stroke-width="6.0"/>
<line x1="2864.00" y1="2789.05" x2="2847.92" y2="2789.05" stroke="#000" stroke-width="6.0"/>
<line x1="2864.00" y1="2746.08" x2="2847.92" y2="2746.08" stroke="#000" stroke-width="6.0"/>
<line x1="2864.00" y1="2715.60" x2="2847.92" y2="2715.60" stroke="#000" stroke-width="6.0"/>
<line x1="2864.00" y1="2691.95" x2="2847.92" y2="2691.95" stroke="#000" stroke-width="6.0"/>
<line x1="2864.00" y1="2672.63" x2="2847.92" y2="2672.63" stroke="#000" stroke-width="6.0"/>
<line x1="2864.00" y1="2656.30" x2="2847.92" y2="2656.30" stroke="#000" stroke-width="6.0"/>
<line x1="2864.00" y1="2642.15" x2="2847.92" y2="2642.15" stroke="#000" stroke-width="6.0"/>
<line x1="2864.00" y1="2629.66" x2="2847.92" y2="2629.66" stroke="#000" stroke-width="6.0"/>
<line x1="2864.00" y1="2618.50" x2="2831.84" y2="2618.50" stroke="#000" stroke-width="6.0"/>
<line x1="2864.00" y1="2545.05" x2="2847.92" y2="2545.05" stroke="#000" stroke-width="6.0"/>
<line x1="2864.00" y1="2502.08" x2="2847.92" y2="2502.08" stroke="#000" stroke-width="6.0"/>
<line x1="2864.00" y1="2471.60" x2="2847.92" y2="2471.60" stroke="#000" stroke-width="6.0"/>
<line x1="2864.00" y1="2447.95" x2="2847.92" y2="2447.95" stroke="#000" stroke-width="6.0"/>
<line x1="2864.00" y1="2428.63" x2="2847.92" y2="2428.63" stroke="#000" stroke-width="6.0"/>
<line x1="2864.00" y1="2412.30" x2="2847.92" y2="2412.30" stroke="#000" stroke-width="6.0"/>
<line x1="1670.82" y1="3589.40" x2="1670.82" y2="3567.41" stroke="#000" stroke-width="6.0"/>
<line x1="1754.57" y1="3589.40" x2="1754.57" y2="3567.41" stroke="#000" stroke-width="6.0"/>
<line x1="1838.32" y1="3589.40" x2="1838.32" y2="3567.41" stroke="#000" stroke-width="6.0"/>
<line x1="1922.08" y1="3589.40" x2="1922.08" y2="3567.41" stroke="#000" stroke-width="6.0"/>
<line x1="2005.83" y1="3589.40" x2="2005.83" y2="3545.42" stroke="#000" stroke-width="6.0"/>
<line x1="2089.58" y1="3589.40" x2="2089.58" y2="3567.41" stroke="#000" stroke-width="6.0"/>
<line x1="2173.34" y1="3589.40" x2="2173.34" y2="3567.41" stroke="#000" stroke-width="6.0"/>
<line x1="2257.09" y1="3589.40" x2="2257.09" y2="3567.41" stroke="#000" stroke-width="6.0"/>
<line x1="2340.84" y1="3589.40" x2="2340.84" y2="3567.41" stroke="#000" stroke-width="6.0"/>
<line x1="2424.59" y1="3589.40" x2="2424.59" y2="3545.42" stroke="#000" stroke-width="6.0"/>
<line x1="2508.35" y1="3589.40" x2="2508.35" y2="3567.41" stroke="#000" stroke-width="6.0"/>
<line x1="2592.10" y1="3589.40" x2="2592.10" y2="3567.41" stroke="#000" stroke-width="6.0"/>
<line x1="2675.86" y1="3589.40" x2="2675.86" y2="3567.41" stroke="#000" stroke-width="6.0"/>
<line x1="2759.61" y1="3589.40" x2="2759.61" y2="3567.41" stroke="#000" stroke-width="6.0"/>
<line x1="2843.36" y1="3589.40" x2="2843.36" y2="3545.42" stroke="#000" stroke-width="6.0"/>
<line x1="1670.82" y1="2398.50" x2="1670.82" y2="2420.49" stroke="#000" stroke-width="6.0"/>
<line x1="1754.57" y1="2398.50" x2="1754.57" y2="2420.49" stroke="#000" stroke-width="6.0"/>
<line x1="1838.32" y1="2398.50" x2="1838.32" y2="2420.49" stroke="#000" stroke-width="6.0"/>
<line x1="1922.08" y1="2398.50" x2="1922.08" y2="2420.49" stroke="#000" stroke-width="6.0"/>
<line x1="2005.83" y1="2398.50" x2="2005.83" y2="2442.48" stroke="#000" stroke-width="6.0"/>
<line x1="2089.58" y1="2398.50" x2="2089.58" y2="2420.49" stroke="#000" stroke-width="6.0"/>
<line x1="2173.34" y1="2398.50" x2="2173.34" y2="2420.49" stroke="#000" stroke-width="6.0"/>
<line x1="2257.09" y1="2398.50" x2="2257.09" y2="2420.49" stroke="#000" stroke-width="6.0"/>
<line x1="2340.84" y1="2398.50" x2="2340.84" y2="2420.49" stroke="#000" stroke-width="6.0"/>
<line x1="2424.59" y1="2398.50" x2="2424.59" y2="2442.48" stroke="#000" stroke-width="6.0"/>
<line x1="2508.35" y1="2398.50" x2="2508.35" y2="2420.49" stroke="#000" stroke-width="6.0"/>
<line x1="2592.10" y1="2398.50" x2="2592.10" y2="2420.49" stroke="#000" stroke-width="6.0"/>
<line x1="2675.86" y1="2398.50" x2="2675.86" y2="2420.49" stroke="#000" stroke-width="6.0"/>
<line x1="2759.61" y1="2398.50" x2="2759.61" y2="2420.49" stroke="#000" stroke-width="6.0"/>
<line x1="2843.36" y1="2398.50" x2="2843.36" y2="2442.48" stroke="#000" stroke-width="6.0"/>
<line x1="2864.00" y1="1137.55" x2="2883.58" y2="1137.55" stroke="#000" stroke-width="6.0"/>
<line x1="2864.00" y1="1094.58" x2="2883.58" y2="1094.58" stroke="#000" stroke-width="6.0"/>
<line x1="2864.00" y1="1064.10" x2="2883.58" y2="1064.10" stroke="#000" stroke-width="6.0"/>
<line x1="2864.00" y1="1040.45" x2="2883.58" y2="1040.45" stroke="#000" stroke-width="6.0"/>
<line x1="2864.00" y1="1021.13" x2="2883.58" y2="1021.13" stroke="#000" stroke-width="6.0"/>
<line x1="2864.00" y1="1004.80" x2="2883.58" y2="1004.80" stroke="#000" stroke-width="6.0"/>
<line x1="2864.00" y1="990.65" x2="2883.58" y2="990.65" stroke="#000" stroke-width="6.0"/>
<line x1="2864.00" y1="978.16" x2="2883.58" y2="978.16" stroke="#000" stroke-width="6.0"/>
<line x1="2864.00" y1="967.00" x2="2903.16" y2="967.00" stroke="#000" stroke-width="6.0"/>
<line x1="2864.00" y1="893.55" x2="2883.58" y2="893.55" stroke="#000" stroke-width="6.0"/>
<line x1="2864.00" y1="850.58" x2="2883.58" y2="850.58" stroke="#000" stroke-width="6.0"/>
<line x1="2864.00" y1="820.10" x2="2883.58" y2="820.10" stroke="#000" stroke-width="6.0"/>
<line x1="2864.00" y1="796.45" x2="2883.58" y2="796.45" stroke="#000" stroke-width="6.0"/>
<line x1="2864.00" y1="777.13" x2="2883.58" y2="777.13" stroke="#000" stroke-width="6.0"/>
<line x1="2864.00" y1="760.80" x2="2883.58" y2="760.80" stroke="#000" stroke-width="6.0"/>
<line x1="2864.00" y1="746.65" x2="2883.58" y2="746.65" stroke="#000" stroke-width="6.0"/>
<line x1="2864.00" y1="734.16" x2="2883.58" y2="734.16" stroke="#000" stroke-width="6.0"/>
<line x1="2864.00" y1="723.00" x2="2903.16" y2="723.00" stroke="#000" stroke-width="6.0"/>
<line x1="2864.00" y1="649.55" x2="2883.58" y2="649.55" stroke="#000" stroke-width="6.0"/>
<line x1="2864.00" y1="606.58" x2="2883.58" y2="606.58" stroke="#000" stroke-width="6.0"/>
<line x1="2864.00" y1="576.10" x2="2883.58" y2="576.10" stroke="#000" stroke-width="6.0"/>
<line x1="2864.00" y1="552.45" x2="2883.58" y2="552.45" stroke="#000" stroke-width="6.0"/>
<line x1="2864.00" y1="533.13" x2="2883.58" y2="533.13" stroke="#000" stroke-width="6.0"/>
<line x1="2864.00" y1="516.80" x2="2883.58" y2="516.80" stroke="#000" stroke-width="6.0"/>
<line x1="2864.00" y1="502.65" x2="2883.58" y2="502.65" stroke="#000" stroke-width="6.0"/>
<line x1="2864.00" y1="490.16" x2="2883.58" y2="490.16" stroke="#000" stroke-width="6.0"/>
<line x1="2864.00" y1="479.00" x2="2903.16" y2="479.00" stroke="#000" stroke-width="6.0"/>
<line x1="2864.00" y1="405.55" x2="2883.58" y2="405.55" stroke="#000" stroke-width="6.0"/>
<line x1="2864.00" y1="362.58" x2="2883.58" y2="362.58" stroke="#000" stroke-width="6.0"/>
<line x1="2864.00" y1="332.10" x2="2883.58" y2="332.10" stroke="#000" stroke-width="6.0"/>
<line x1="2864.00" y1="308.45" x2="2883.58" y2="308.45" stroke="#000" stroke-width="6.0"/>
<line x1="2864.00" y1="289.13" x2="2883.58" y2="289.13" stroke="#000" stroke-width="6.0"/>
<line x1="2864.00" y1="272.80" x2="2883.58" y2="272.80" stroke="#000" stroke-width="6.0"/>
<line x1="2864.00" y1="258.65" x2="2883.58" y2="258.65" stroke="#000" stroke-width="6.0"/>
<line x1="2864.00" y1="246.16" x2="2883.58" y2="246.16" stroke="#000" stroke-width="6.0"/>
<line x1="2864.00" y1="235.00" x2="2903.16" y2="235.00" stroke="#000" stroke-width="6.0"/>
<line x1="2864.00" y1="161.55" x2="2883.58" y2="161.55" stroke="#000" stroke-width="6.0"/>
<line x1="2864.00" y1="118.58" x2="2883.58" y2="118.58" stroke="#000" stroke-width="6.0"/>
<line x1="2864.00" y1="88.10" x2="2883.58" y2="88.10" stroke="#000" stroke-width="6.0"/>
<line x1="2864.00" y1="64.45" x2="2883.58" y2="64.45" stroke="#000" stroke-width="6.0"/>
<line x1="2864.00" y1="45.13" x2="2883.58" y2="45.13" stroke="#000" stroke-width="6.0"/>
<line x1="2864.00" y1="28.80" x2="2883.58" y2="28.80" stroke="#000" stroke-width="6.0"/>
<line x1="4120.20" y1="1137.55" x2="4100.62" y2="1137.55" stroke="#000" stroke-width="6.0"/>
<line x1="4120.20" y1="1094.58" x2="4100.62" y2="1094.58" stroke="#000" stroke-width="6.0"/>
<line x1="4120.20" y1="1064.10" x2="4100.62" y2="1064.10" stroke="#000" stroke-width="6.0"/>
<line x1="4120.20" y1="1040.45" x2="4100.62" y2="1040.45" stroke="#000" stroke-width="6.0"/>
<line x1="4120.20" y1="1021.13" x2="4100.62" y2="1021.13" stroke="#000" stroke-width="6.0"/>
<line x1="4120.20" y1="1004.80" x2="4100.62" y2="1004.80" stroke="#000" stroke-width="6.0"/>
<line x1="4120.20" y1="990.65" x2="4100.62" y2="990.65" stroke="#000" stroke-width="6.0"/>
<line x1="4120.20" y1="978.16" x2="4100.62" y2="978.16" stroke="#000" stroke-width="6.0"/>
<line x1="4120.20" y1="967.00" x2="4081.04" y2="967.00" stroke="#000" stroke-width="6.0"/>
<line x1="4120.20" y1="893.55" x2="4100.62" y2="893.55" stroke="#000" stroke-width="6.0"/>
<line x1="4120.20" y1="850.58" x2="4100.62" y2="850.58" stroke="#000" stroke-width="6.0"/>
<line x1="4120.20" y1="820.10" x2="4100.62" y2="820.10" stroke="#000" stroke-width="6.0"/>
<line x1="4120.20" y1="796.45" x2="4100.62" y2="796.45" stroke="#000" stroke-width="6.0"/>
<line x1="4120.20" y1="777.13" x2="4100.62" y2="777.13" stroke="#000" stroke-width="6.0"/>
<line x1="4120.20" y1="760.80" x2="4100.62" y2="760.80" stroke="#000" stroke-width="6.0"/>
<line x1="4120.20" y1="746.65" x2="4100.62" y2="746.65" stroke="#000" stroke-width="6.0"/>
<line x1="4120.20" y1="734.16" x2="4100.62" y2="734.16" stroke="#000" stroke-width="6.0"/>
<line x1="4120.20" y1="723.00" x2="4081.04" y2="723.00" stroke="#000" stroke-width="6.0"/>
<line x1="4120.20" y1="649.55" x2="4100.62" y2="649.55" stroke="#000" stroke-width="6.0"/>
<line x1="4120.20" y1="606.58" x2="4100.62" y2="606.58" stroke="#000" stroke-width="6.0"/>
<line x1="4120.20" y1="576.10" x2="4100.62" y2="576.10" stroke="#000" stroke-width="6.0"/>
<line x1="4120.20" y1="552.45" x2="4100.62" y2="552.45" stroke="#000" stroke-width="6.0"/>
<line x1="4120.20" y1="533.13" x2="4100.62" y2="533.13" stroke="#000" stroke-width="6.0"/>
<line x1="4120.20" y1="516.80" x2="4100.62" y2="516.80" stroke="#000" stroke-width="6.0"/>
<line x1="4120.20" y1="502.65" x2="4100.62" y2="502.65" stroke="#000" stroke-width="6.0"/>
<line x1="4120.20" y1="490.16" x2="4100.62" y2="490.16" stroke="#000" stroke-width="6.0"/>
<line x1="4120.20" y1="479.00" x2="4081.04" y2="479.00" stroke="#000" stroke-width="6.0"/>
<line x1="4120.20" y1="405.55" x2="4100.62" y2="405.55" stroke="#000" stroke-width="6.0"/>
<line x1="4120.20" y1="362.58" x2="4100.62" y2="362.58" stroke="#000" stroke-width="6.0"/>
<line x1="4120.20" y1="332.10" x2="4100.62" y2="332.10" stroke="#000" stroke-width="6.0"/>
<line x1="4120.20" y1="308.45" x2="4100.62" y2="308.45" stroke="#000" stroke-width="6.0"/>
<line x1="4120.20" y1="289.13" x2="4100.62" y2="289.13" stroke="#000" stroke-width="6.0"/>
<line x1="4120.20" y1="272.80" x2="4100.62" y2="272.80" stroke="#000" stroke-width="6.0"/>
<line x1="4120.20" y1="258.65" x2="4100.62" y2="258.65" stroke="#000" stroke-width="6.0"/>
<line x1="4120.20" y1="246.16" x2="4100.62" y2="246.16" stroke="#000" stroke-width="6.0"/>
<line x1="4120.20" y1="235.00" x2="4081.04" y2="235.00" stroke="#000" stroke-width="6.0"/>
<line x1="4120.20" y1="161.55" x2="4100.62" y2="161.55" stroke="#000" stroke-width="6.0"/>
<line x1="4120.20" y1="118.58" x2="4100.62" y2="118.58" stroke="#000" stroke-width="6.0"/>
<line x1="4120.20" y1="88.10" x2="4100.62" y2="88.10" stroke="#000" stroke-width="6.0"/>
<line x1="4120.20" y1="64.45" x2="4100.62" y2="64.45" stroke="#000" stroke-width="6.0"/>
<line x1="4120.20" y1="45.13" x2="4100.62" y2="45.13" stroke="#000" stroke-width="6.0"/>
<line x1="4120.20" y1="28.80" x2="4100.62" y2="28.80" stroke="#000" stroke-width="6.0"/>
<line x1="2926.82" y1="1206.10" x2="2926.82" y2="1188.04" stroke="#000" stroke-width="6.0"/>
<line x1="3010.57" y1="1206.10" x2="3010.57" y2="1188.04" stroke="#000" stroke-width="6.0"/>
<line x1="3094.32" y1="1206.10" x2="3094.32" y2="1188.04" stroke="#000" stroke-width="6.0"/>
<line x1="3178.07" y1="1206.10" x2="3178.07" y2="1188.04" stroke="#000" stroke-width="6.0"/>
<line x1="3261.83" y1="1206.10" x2="3261.83" y2="1169.98" stroke="#000" stroke-width="6.0"/>
<line x1="3345.58" y1="1206.10" x2="3345.58" y2="1188.04" stroke="#000" stroke-width="6.0"/>
<line x1="3429.34" y1="1206.10" x2="3429.34" y2="1188.04" stroke="#000" stroke-width="6.0"/>
<line x1="3513.09" y1="1206.10" x2="3513.09" y2="1188.04" stroke="#000" stroke-width="6.0"/>
<line x1="3596.84" y1="1206.10" x2="3596.84" y2="1188.04" stroke="#000" stroke-width="6.0"/>
<line x1="3680.59" y1="1206.10" x2="3680.59" y2="1169.98" stroke="#000" stroke-width="6.0"/>
<line x1="3764.35" y1="1206.10" x2="3764.35" y2="1188.04" stroke="#000" stroke-width="6.0"/>
<line x1="3848.10" y1="1206.10" x2="3848.10" y2="1188.04" stroke="#000" stroke-width="6.0"/>
<line x1="3931.86" y1="1206.10" x2="3931.86" y2="1188.04" stroke="#000" stroke-width="6.0"/>
<line x1="4015.61" y1="1206.10" x2="4015.61" y2="1188.04" stroke="#000" stroke-width="6.0"/>
<line x1="4099.36" y1="1206.10" x2="4099.36" y2="1169.98" stroke="#000" stroke-width="6.0"/>
<line x1="2926.82" y1="15.00" x2="2926.82" y2="33.06" stroke="#000" stroke-width="6.0"/>
<line x1="3010.57" y1="15.00" x2="3010.57" y2="33.06" stroke="#000" stroke-width="6.0"/>
<line x1="3094.32" y1="15.00" x2="3094.32" y2="33.06" stroke="#000" stroke-width="6.0"/>
<line x1="3178.07" y1="15.00" x2="3178.07" y2="33.06" stroke="#000" stroke-width="6.0"/>
<line x1="3261.83" y1="15.00" x2="3261.83" y2="51.12" stroke="#000" stroke-width="6.0"/>
<line x1="3345.58" y1="15.00" x2="3345.58" y2="33.06" stroke="#000" stroke-width="6.0"/>
<line x1="3429.34" y1="15.00" x2="3429.34" y2="33.06" stroke="#000" stroke-width="6.0"/>
<line x1="3513.09" y1="15.00" x2="3513.09" y2="33.06" stroke="#000" stroke-width="6.0"/>
<line x1="3596.84" y1="15.00" x2="3596.84" y2="33.06" stroke="#000" stroke-width="6.0"/>
<line x1="3680.59" y1="15.00" x2="3680.59" y2="51.12" stroke="#000" stroke-width="6.0"/>
<line x1="3764.35" y1="15.00" x2="3764.35" y2="33.06" stroke="#000" stroke-width="6.0"/>
<line x1="3848.10" y1="15.00" x2="3848.10" y2="33.06" stroke="#000" stroke-width="6.0"/>
<line x1="3931.86" y1="15.00" x2="3931.86" y2="33.06" stroke="#000" stroke-width="6.0"/>
<line x1="4015.61" y1="15.00" x2="4015.61" y2="33.06" stroke="#000" stroke-width="6.0"/>
<line x1="4099.36" y1="15.00" x2="4099.36" y2="51.12" stroke="#000" stroke-width="6.0"/>
<line x1="2864.00" y1="2328.65" x2="2883.82" y2="2328.65" stroke="#000" stroke-width="6.0"/>
<line x1="2864.00" y1="2285.68" x2="2883.82" y2="2285.68" stroke="#000" stroke-width="6.0"/>
<line x1="2864.00" y1="2255.20" x2="2883.82" y2="2255.20" stroke="#000" stroke-width="6.0"/>
<line x1="2864.00" y1="2231.55" x2="2883.82" y2="2231.55" stroke="#000" stroke-width="6.0"/>
<line x1="2864.00" y1="2212.23" x2="2883.82" y2="2212.23" stroke="#000" stroke-width="6.0"/>
<line x1="2864.00" y1="2195.90" x2="2883.82" y2="2195.90" stroke="#000" stroke-width="6.0"/>
<line x1="2864.00" y1="2181.75" x2="2883.82" y2="2181.75" stroke="#000" stroke-width="6.0"/>
<line x1="2864.00" y1="2169.26" x2="2883.82" y2="2169.26" stroke="#000" stroke-width="6.0"/>
<line x1="2864.00" y1="2158.10" x2="2903.65" y2="2158.10" stroke="#000" stroke-width="6.0"/>
<line x1="2864.00" y1="2084.65" x2="2883.82" y2="2084.65" stroke="#000" stroke-width="6.0"/>
<line x1="2864.00" y1="2041.68" x2="2883.82" y2="2041.68" stroke="#000" stroke-width="6.0"/>
<line x1="2864.00" y1="2011.20" x2="2883.82" y2="2011.20" stroke="#000" stroke-width="6.0"/>
<line x1="2864.00" y1="1987.55" x2="2883.82" y2="1987.55" stroke="#000" stroke-width="6.0"/>
<line x1="2864.00" y1="1968.23" x2="2883.82" y2="1968.23" stroke="#000" stroke-width="6.0"/>
<line x1="2864.00" y1="1951.90" x2="2883.82" y2="1951.90" stroke="#000" stroke-width="6.0"/>
<line x1="2864.00" y1="1937.75" x2="2883.82" y2="1937.75" stroke="#000" stroke-width="6.0"/>
<line x1="2864.00" y1="1925.26" x2="2883.82" y2="1925.26" stroke="#000" stroke-width="6.0"/>
<line x1="2864.00" y1="1914.10" x2="2903.65" y2="1914.10" stroke="#000" stroke-width="6.0"/>
<line x1="2864.00" y1="1840.65" x2="2883.82" y2="1840.65" stroke="#000" stroke-width="6.0"/>
<line x1="2864.00" y1="1797.68" x2="2883.82" y2="1797.68" stroke="#000" stroke-width="6.0"/>
<line x1="2864.00" y1="1767.20" x2="2883.82" y2="1767.20" stroke="#000" stroke-width="6.0"/>
<line x1="2864.00" y1="1743.55" x2="2883.82" y2="1743.55" stroke="#000" stroke-width="6.0"/>
<line x1="2864.00" y1="1724.23" x2="2883.82" y2="1724.23" stroke="#000" stroke-width="6.0"/>
<line x1="2864.00" y1="1707.90" x2="2883.82" y2="1707.90" stroke="#000" stroke-width="6.0"/>
<line x1="2864.00" y1="1693.75" x2="2883.82" y2="1693.75" stroke="#000" stroke-width="6.0"/>
<line x1="2864.00" y1="1681.26" x2="2883.82" y2="1681.26" stroke="#000" stroke-width="6.0"/>
<line x1="2864.00" y1="1670.10" x2="2903.65" y2="1670.10" stroke="#000" stroke-width="6.0"/>
<line x1="2864.00" y1="1596.65" x2="2883.82" y2="1596.65" stroke="#000" stroke-width="6.0"/>
<line x1="2864.00" y1="1553.68" x2="2883.82" y2="1553.68" stroke="#000" stroke-width="6.0"/>
<line x1="2864.00" y1="1523.20" x2="2883.82" y2="1523.20" stroke="#000" stroke-width="6.0"/>
<line x1="2864.00" y1="1499.55" x2="2883.82" y2="1499.55" stroke="#000" stroke-width="6.0"/>
<line x1="2864.00" y1="1480.23" x2="2883.82" y2="1480.23" stroke="#000" stroke-width="6.0"/>
<line x1="2864.00" y1="1463.90" x2="2883.82" y2="1463.90" stroke="#000" stroke-width="6.0"/>
<line x1="2864.00" y1="1449.75" x2="2883.82" y2="1449.75" stroke="#000" stroke-width="6.0"/>
<line x1="2864.00" y1="1437.26" x2="2883.82" y2="1437.26" stroke="#000" stroke-width="6.0"/>
<line x1="2864.00" y1="1426.10" x2="2903.65" y2="1426.10" stroke="#000" stroke-width="6.0"/>
<line x1="2864.00" y1="1352.65" x2="2883.82" y2="1352.65" stroke="#000" stroke-width="6.0"/>
<line x1="2864.00" y1="1309.68" x2="2883.82" y2="1309.68" stroke="#000" stroke-width="6.0"/>
<line x1="2864.00" y1="1279.20" x2="2883.82" y2="1279.20" stroke="#000" stroke-width="6.0"/>
<line x1="2864.00" y1="1255.55" x2="2883.82" y2="1255.55" stroke="#000" stroke-width="6.0"/>
<line x1="2864.00" y1="1236.23" x2="2883.82" y2="1236.23" stroke="#000" stroke-width="6.0"/>
<line x1="2864.00" y1="1219.90" x2="2883.82" y2="1219.90" stroke="#000" stroke-width="6.0"/>
<line x1="4120.20" y1="2328.65" x2="4100.38" y2="2328.65" stroke="#000" stroke-width="6.0"/>
<line x1="4120.20" y1="2285.68" x2="4100.38" y2="2285.68" stroke="#000" stroke-width="6.0"/>
<line x1="4120.20" y1="2255.20" x2="4100.38" y2="2255.20" stroke="#000" stroke-width="6.0"/>
<line x1="4120.20" y1="2231.55" x2="4100.38" y2="2231.55" stroke="#000" stroke-width="6.0"/>
<line x1="4120.20" y1="2212.23" x2="4100.38" y2="2212.23" stroke="#000" stroke-width="6.0"/>
<line x1="4120.20" y1="2195.90" x2="4100.38" y2="2195.90" stroke="#000" stroke-width="6.0"/>
<line x1="4120.20" y1="2181.75" x2="4100.38" y2="2181.75" stroke="#000" stroke-width="6.0"/>
<line x1="4120.20" y1="2169.26" x2="4100.38" y2="2169.26" stroke="#000" stroke-width="6.0"/>
<line x1="4120.20" y1="2158.10" x2="4080.55" y2="2158.10" stroke="#000" stroke-width="6.0"/>
<line x1="4120.20" y1="2084.65" x2="4100.38" y2="2084.65" stroke="#000" stroke-width="6.0"/>
<line x1="4120.20" y1="2041.68" x2="4100.38" y2="2041.68" stroke="#000" stroke-width="6.0"/>
<line x1="4120.20" y1="2011.20" x2="4100.38" y2="2011.20" stroke="#000" stroke-width="6.0"/>
<line x1="4120.20" y1="1987.55" x2="4100.38" y2="1987.55" stroke="#000" stroke-width="6.0"/>
<line x1="4120.20" y1="1968.23" x2="4100.38" y2="1968.23" stroke="#000" stroke-width="6.0"/>
<line x1="4120.20" y1="1951.90" x2="4100.38" y2="1951.90" stroke="#000" stroke-width="6.0"/>
<line x1="4120.20" y1="1937.75" x2="4100.38" y2="1937.75" stroke="#000" stroke-width="6.0"/>
<line x1="4120.20" y1="1925.26" x2="4100.38" y2="1925.26" stroke="#000" stroke-width="6.0"/>
<line x1="4120.20" y1="1914.10" x2="4080.55" y2="1914.10" stroke="#000" stroke-width="6.0"/>
<line x1="4120.20" y1="1840.65" x2="4100.38" y2="1840.65" stroke="#000" stroke-width="6.0"/>
<line x1="4120.20" y1="1797.68" x2="4100.38" y2="1797.68" stroke="#000" stroke-width="6.0"/>
<line x1="4120.20" y1="1767.20" x2="4100.38" y2="1767.20" stroke="#000" stroke-width="6.0"/>
<line x1="4120.20" y1="1743.55" x2="4100.38" y2="1743.55" stroke="#000" stroke-width="6.0"/>
<line x1="4120.20" y1="1724.23" x2="4100.38" y2="1724.23" stroke="#000" stroke-width="6.0"/>
<line x1="4120.20" y1="1707.90" x2="4100.38" y2="1707.90" stroke="#000" stroke-width="6.0"/>
<line x1="4120.20" y1="1693.75" x2="4100.38" y2="1693.75" stroke="#000" stroke-width="6.0"/>
<line x1="4120.20" y1="1681.26" x2="4100.38" y2="1681.26" stroke="#000" stroke-width="6.0"/>
<line x1="4120.20" y1="1670.10" x2="4080.55" y2="1670.10" stroke="#000" stroke-width="6.0"/>
<line x1="4120.20" y1="1596.65" x2="4100.38" y2="1596.65" stroke="#000" stroke-width="6.0"/>
<line x1="4120.20" y1="1553.68" x2="4100.38" y2="1553.68" stroke="#000" stroke-width="6.0"/>
<line x1="4120.20" y1="1523.20" x2="4100.38" y2="1523.20" stroke="#000" stroke-width="6.0"/>
<line x1="4120.20" y1="1499.55" x2="4100.38" y2="1499.55" stroke="#000" stroke-width="6.0"/>
<line x1="4120.20" y1="1480.23" x2="4100.38" y2="1480.23" stroke="#000" stroke-width="6.0"/>
<line x1="4120.20" y1="1463.90" x2="4100.38" y2="1463.90" stroke="#000" stroke-width="6.0"/>
<line x1="4120.20" y1="1449.75" x2="4100.38" y2="1449.75" stroke="#000" stroke-width="6.0"/>
<line x1="4120.20" y1="1437.26" x2="4100.38" y2="1437.26" stroke="#000" stroke-width="6.0"/>
<line x1="4120.20" y1="1426.10" x2="4080.55" y2="1426.10" stroke="#000" stroke-width="6.0"/>
<line x1="4120.20" y1="1352.65" x2="4100.38" y2="1352.65" stroke="#000" stroke-width="6.0"/>
<line x1="4120.20" y1="1309.68" x2="4100.38" y2="1309.68" stroke="#000" stroke-width="6.0"/>
<line x1="4120.20" y1="1279.20" x2="4100.38" y2="1279.20" stroke="#000" stroke-width="6.0"/>
<line x1="4120.20" y1="1255.55" x2="4100.38" y2="1255.55" stroke="#000" stroke-width="6.0"/>
<line x1="4120.20" y1="1236.23" x2="4100.38" y2="1236.23" stroke="#000" stroke-width="6.0"/>
<line x1="4120.20" y1="1219.90" x2="4100.38" y2="1219.90" stroke="#000" stroke-width="6.0"/>
<line x1="2926.82" y1="2398.50" x2="2926.82" y2="2380.65" stroke="#000" stroke-width="6.0"/>
<line x1="3010.57" y1="2398.50" x2="3010.57" y2="2380.65" stroke="#000" stroke-width="6.0"/>
<line x1="3094.32" y1="2398.50" x2="3094.32" y2="2380.65" stroke="#000" stroke-width="6.0"/>
<line x1="3178.07" y1="2398.50" x2="3178.07" y2="2380.65" stroke="#000" stroke-width="6.0"/>
<line x1="3261.83" y1="2398.50" x2="3261.83" y2="2362.80" stroke="#000" stroke-width="6.0"/>
<line x1="3345.58" y1="2398.50" x2="3345.58" y2="2380.65" stroke="#000" stroke-width="6.0"/>
<line x1="3429.34" y1="2398.50" x2="3429.34" y2="2380.65" stroke="#000" stroke-width="6.0"/>
<line x1="3513.09" y1="2398.50" x2="3513.09" y2="2380.65" stroke="#000" stroke-width="6.0"/>
<line x1="3596.84" y1="2398.50" x2="3596.84" y2="2380.65" stroke="#000" stroke-width="6.0"/>
<line x1="3680.59" y1="2398.50" x2="3680.59" y2="2362.80" stroke="#000" stroke-width="6.0"/>
<line x1="3764.35" y1="2398.50" x2="3764.35" y2="2380.65" stroke="#000" stroke-width="6.0"/>
<line x1="3848.10" y1="2398.50" x2="3848.10" y2="2380.65" stroke="#000" stroke-width="6.0"/>
<line x1="3931.86" y1="2398.50" x2="3931.86" y2="2380.65" stroke="#000" stroke-width="6.0"/>
<line x1="4015.61" y1="2398.50" x2="4015.61" y2="2380.65" stroke="#000" stroke-width="6.0"/>
<line x1="4099.36" y1="2398.50" x2="4099.36" y2="2362.80" stroke="#000" stroke-width="6.0"/>
<line x1="2926.82" y1="1206.10" x2="2926.82" y2="1223.95" stroke="#000" stroke-width="6.0"/>
<line x1="3010.57" y1="1206.10" x2="3010.57" y2="1223.95" stroke="#000" stroke-width="6.0"/>
<line x1="3094.32" y1="1206.10" x2="3094.32" y2="1223.95" stroke="#000" stroke-width="6.0"/>
<line x1="3178.07" y1="1206.10" x2="3178.07" y2="1223.95" stroke="#000" stroke-width="6.0"/>
<line x1="3261.83" y1="1206.10" x2="3261.83" y2="1241.80" stroke="#000" stroke-width="6.0"/>
<line x1="3345.58" y1="1206.10" x2="3345.58" y2="1223.95" stroke="#000" stroke-width="6.0"/>
<line x1="3429.34" y1="1206.10" x2="3429.34" y2="1223.95" stroke="#000" stroke-width="6.0"/>
<line x1="3513.09" y1="1206.10" x2="3513.09" y2="1223.95" stroke="#000" stroke-width="6.0"/>
<line x1="3596.84" y1="1206.10" x2="3596.84" y2="1223.95" stroke="#000" stroke-width="6.0"/>
<line x1="3680.59" y1="1206.10" x2="3680.59" y2="1241.80" stroke="#000" stroke-width="6.0"/>
<line x1="3764.35" y1="1206.10" x2="3764.35" y2="1223.95" stroke="#000" stroke-width="6.0"/>
<line x1="3848.10" y1="1206.10" x2="3848.10" y2="1223.95" stroke="#000" stroke-width="6.0"/>
<line x1="3931.86" y1="1206.10" x2="3931.86" y2="1223.95" stroke="#000" stroke-width="6.0"/>
<line x1="4015.61" y1="1206.10" x2="4015.61" y2="1223.95" stroke="#000" stroke-width="6.0"/>
<line x1="4099.36" y1="1206.10" x2="4099.36" y2="1241.80" stroke="#000" stroke-width="6.0"/>
<line x1="2864.00" y1="3521.05" x2="2880.38" y2="3521.05" stroke="#000" stroke-width="6.0"/>
<line x1="2864.00" y1="3478.08" x2="2880.38" y2="3478.08" stroke="#000" stroke-width="6.0"/>
<line x1="2864.00" y1="3447.60" x2="2880.38" y2="3447.60" stroke="#000" stroke-width="6.0"/>
<line x1="2864.00" y1="3423.95" x2="2880.38" y2="3423.95" stroke="#000" stroke-width="6.0"/>
<line x1="2864.00" y1="3404.63" x2="2880.38" y2="3404.63" stroke="#000" stroke-width="6.0"/>
<line x1="2864.00" y1="3388.30" x2="2880.38" y2="3388.30" stroke="#000" stroke-width="6.0"/>
<line x1="2864.00" y1="3374.15" x2="2880.38" y2="3374.15" stroke="#000" stroke-width="6.0"/>
<line x1="2864.00" y1="3361.66" x2="2880.38" y2="3361.66" stroke="#000" stroke-width="6.0"/>
<line x1="2864.00" y1="3350.50" x2="2896.75" y2="3350.50" stroke="#000" stroke-width="6.0"/>
<line x1="2864.00" y1="3277.05" x2="2880.38" y2="3277.05" stroke="#000" stroke-width="6.0"/>
<line x1="2864.00" y1="3234.08" x2="2880.38" y2="3234.08" stroke="#000" stroke-width="6.0"/>
<line x1="2864.00" y1="3203.60" x2="2880.38" y2="3203.60" stroke="#000" stroke-width="6.0"/>
<line x1="2864.00" y1="3179.95" x2="2880.38" y2="3179.95" stroke="#000" stroke-width="6.0"/>
<line x1="2864.00" y1="3160.63" x2="2880.38" y2="3160.63" stroke="#000" stroke-width="6.0"/>
<line x1="2864.00" y1="3144.30" x2="2880.38" y2="3144.30" stroke="#000" stroke-width="6.0"/>
<line x1="2864.00" y1="3130.15" x2="2880.38" y2="3130.15" stroke="#000" stroke-width="6.0"/>
<line x1="2864.00" y1="3117.66" x2="2880.38" y2="3117.66" stroke="#000" stroke-width="6.0"/>
<line x1="2864.00" y1="3106.50" x2="2896.75" y2="3106.50" stroke="#000" stroke-width="6.0"/>
<line x1="2864.00" y1="3033.05" x2="2880.38" y2="3033.05" stroke="#000" stroke-width="6.0"/>
<line x1="2864.00" y1="2990.08" x2="2880.38" y2="2990.08" stroke="#000" stroke-width="6.0"/>
<line x1="2864.00" y1="2959.60" x2="2880.38" y2="2959.60" stroke="#000" stroke-width="6.0"/>
<line x1="2864.00" y1="2935.95" x2="2880.38" y2="2935.95" stroke="#000" stroke-width="6.0"/>
<line x1="2864.00" y1="2916.63" x2="2880.38" y2="2916.63" stroke="#000" stroke-width="6.0"/>
<line x1="2864.00" y1="2900.30" x2="2880.38" y2="2900.30" stroke="#000" stroke-width="6.0"/>
<line x1="2864.00" y1="2886.15" x2="2880.38" y2="2886.15" stroke="#000" stroke-width="6.0"/>
<line x1="2864.00" y1="2873.66" x2="2880.38" y2="2873.66" stroke="#000" stroke-width="6.0"/>
<line x1="2864.00" y1="2862.50" x2="2896.75" y2="2862.50" stroke="#000" stroke-width="6.0"/>
<line x1="2864.00" y1="2789.05" x2="2880.38" y2="2789.05" stroke="#000" stroke-width="6.0"/>
<line x1="2864.00" y1="2746.08" x2="2880.38" y2="2746.08" stroke="#000" stroke-width="6.0"/>
<line x1="2864.00" y1="2715.60" x2="2880.38" y2="2715.60" stroke="#000" stroke-width="6.0"/>
<line x1="2864.00" y1="2691.95" x2="2880.38" y2="2691.95" stroke="#000" stroke-width="6.0"/>
<line x1="2864.00" y1="2672.63" x2="2880.38" y2="2672.63" stroke="#000" stroke-width="6.0"/>
<line x1="2864.00" y1="2656.30" x2="2880.38" y2="2656.30" stroke="#000" stroke-width="6.0"/>
<line x1="2864.00" y1="2642.15" x2="2880.38" y2="2642.15" stroke="#000" stroke-width="6.0"/>
<line x1="2864.00" y1="2629.66" x2="2880.38" y2="2629.66" stroke="#000" stroke-width="6.0"/>
<line x1="2864.00" y1="2618.50" x2="2896.75" y2="2618.50" stroke="#000" stroke-width="6.0"/>
<line x1="2864.00" y1="2545.05" x2="2880.38" y2="2545.05" stroke="#000" stroke-width="6.0"/>
<line x1="2864.00" y1="2502.08" x2="2880.38" y2="2502.08" stroke="#000" stroke-width="6.0"/>
<line x1="2864.00" y1="2471.60" x2="2880.38" y2="2471.60" stroke="#000" stroke-width="6.0"/>
<line x1="2864.00" y1="2447.95" x2="2880.38" y2="2447.95" stroke="#000" stroke-width="6.0"/>
<line x1="2864.00" y1="2428.63" x2="2880.38" y2="2428.63" stroke="#000" stroke-width="6.0"/>
<line x1="2864.00" y1="2412.30" x2="2880.38" y2="2412.30" stroke="#000" stroke-width="6.0"/>
<line x1="4120.20" y1="3521.05" x2="4103.82" y2="3521.05" stroke="#000" stroke-width="6.0"/>
<line x1="4120.20" y1="3478.08" x2="4103.82" y2="3478.08" stroke="#000" stroke-width="6.0"/>
<line x1="4120.20" y1="3447.60" x2="4103.82" y2="3447.60" stroke="#000" stroke-width="6.0"/>
<line x1="4120.20" y1="3423.95" x2="4103.82" y2="3423.95" stroke="#000" stroke-width="6.0"/>
<line x1="4120.20" y1="3404.63" x2="4103.82" y2="3404.63" stroke="#000" stroke-width="6.0"/>
<line x1="4120.20" y1="3388.30" x2="4103.82" y2="3388.30" stroke="#000" stroke-width="6.0"/>
<line x1="4120.20" y1="3374.15" x2="4103.82" y2="3374.15" stroke="#000" stroke-width="6.0"/>
<line x1="4120.20" y1="3361.66" x2="4103.82" y2="3361.66" stroke="#000" stroke-width="6.0"/>
<line x1="4120.20" y1="3350.50" x2="4087.45" y2="3350.50" stroke="#000" stroke-width="6.0"/>
<line x1="4120.20" y1="3277.05" x2="4103.82" y2="3277.05" stroke="#000" stroke-width="6.0"/>
<line x1="4120.20" y1="3234.08" x2="4103.82" y2="3234.08" stroke="#000" stroke-width="6.0"/>
<line x1="4120.20" y1="3203.60" x2="4103.82" y2="3203.60" stroke="#000" stroke-width="6.0"/>
<line x1="4120.20" y1="3179.95" x2="4103.82" y2="3179.95" stroke="#000" stroke-width="6.0"/>
<line x1="4120.20" y1="3160.63" x2="4103.82" y2="3160.63" stroke="#000" stroke-width="6.0"/>
<line x1="4120.20" y1="3144.30" x2="4103.82" y2="3144.30" stroke="#000" stroke-width="6.0"/>
<line x1="4120.20" y1="3130.15" x2="4103.82" y2="3130.15" stroke="#000" stroke-width="6.0"/>
<line x1="4120.20" y1="3117.66" x2="4103.82" y2="3117.66" stroke="#000" stroke-width="6.0"/>
<line x1="4120.20" y1="3106.50" x2="4087.45" y2="3106.50" stroke="#000" stroke-width="6.0"/>
<line x1="4120.20" y1="3033.05" x2="4103.82" y2="3033.05" stroke="#000" stroke-width="6.0"/>
<line x1="4120.20" y1="2990.08" x2="4103.82" y2="2990.08" stroke="#000" stroke-width="6.0"/>
<line x1="4120.20" y1="2959.60" x2="4103.82" y2="2959.60" stroke="#000" stroke-width="6.0"/>
<line x1="4120.20" y1="2935.95" x2="4103.82" y2="2935.95" stroke="#000" stroke-width="6.0"/>
<line x1="4120.20" y1="2916.63" x2="4103.82" y2="2916.63" stroke="#000" stroke-width="6.0"/>
<line x1="4120.20" y1="2900.30" x2="4103.82" y2="2900.30" stroke="#000" stroke-width="6.0"/>
<line x1="4120.20" y1="2886.15" x2="4103.82" y2="2886.15" stroke="#000" stroke-width="6.0"/>
<line x1="4120.20" y1="2873.66" x2="4103.82" y2="2873.66" stroke="#000" stroke-width="6.0"/>
<line x1="4120.20" y1="2862.50" x2="4087.45" y2="2862.50" stroke="#000" stroke-width="6.0"/>
<line x1="4120.20" y1="2789.05" x2="4103.82" y2="2789.05" stroke="#000" stroke-width="6.0"/>
<line x1="4120.20" y1="2746.08" x2="4103.82" y2="2746.08" stroke="#000" stroke-width="6.0"/>
<line x1="4120.20" y1="2715.60" x2="4103.82" y2="2715.60" stroke="#000" stroke-width="6.0"/>
<line x1="4120.20" y1="2691.95" x2="4103.82" y2="2691.95" stroke="#000" stroke-width="6.0"/>
<line x1="4120.20" y1="2672.63" x2="4103.82" y2="2672.63" stroke="#000" stroke-width="6.0"/>
<line x1="4120.20" y1="2656.30" x2="4103.82" y2="2656.30" stroke="#000" stroke-width="6.0"/>
<line x1="4120.20" y1="2642.15" x2="4103.82" y2="2642.15" stroke="#000" stroke-width="6.0"/>
<line x1="4120.20" y1="2629.66" x2="4103.82" y2="2629.66" stroke="#000" stroke-width="6.0"/>
<line x1="4120.20" y1="2618.50" x2="4087.45" y2="2618.50" stroke="#000" stroke-width="6.0"/>
<line x1="4120.20" y1="2545.05" x2="4103.82" y2="2545.05" stroke="#000" stroke-width="6.0"/>
<line x1="4120.20" y1="2502.08" x2="4103.82" y2="2502.08" stroke="#000" stroke-width="6.0"/>
<line x1="4120.20" y1="2471.60" x2="4103.82" y2="2471.60" stroke="#000" stroke-width="6.0"/>
<line x1="4120.20" y1="2447.95" x2="4103.82" y2="2447.95" stroke="#000" stroke-width="6.0"/>
<line x1="4120.20" y1="2428.63" x2="4103.82" y2="2428.63" stroke="#000" stroke-width="6.0"/>
<line x1="4120.20" y1="2412.30" x2="4103.82" y2="2412.30" stroke="#000" stroke-width="6.0"/>
<line x1="2926.82" y1="3589.40" x2="2926.82" y2="3567.81" stroke="#000" stroke-width="6.0"/>
<line x1="3010.57" y1="3589.40" x2="3010.57" y2="3567.81" stroke="#000" stroke-width="6.0"/>
<line x1="3094.32" y1="3589.40" x2="3094.32" y2="3567.81" stroke="#000" stroke-width="6.0"/>
<line x1="3178.07" y1="3589.40" x2="3178.07" y2="3567.81" stroke="#000" stroke-width="6.0"/>
<line x1="3261.83" y1="3589.40" x2="3261.83" y2="3546.21" stroke="#000" stroke-width="6.0"/>
<line x1="3345.58" y1="3589.40" x2="3345.58" y2="3567.81" stroke="#000" stroke-width="6.0"/>
<line x1="3429.34" y1="3589.40" x2="3429.34" y2="3567.81" stroke="#000" stroke-width="6.0"/>
<line x1="3513.09" y1="3589.40" x2="3513.09" y2="3567.81" stroke="#000" stroke-width="6.0"/>
<line x1="3596.84" y1="3589.40" x2="3596.84" y2="3567.81" stroke="#000" stroke-width="6.0"/>
<line x1="3680.59" y1="3589.40" x2="3680.59" y2="3546.21" stroke="#000" stroke-width="6.0"/>
<line x1="3764.35" y1="3589.40" x2="3764.35" y2="3567.81" stroke="#000" stroke-width="6.0"/>
<line x1="3848.10" y1="3589.40" x2="3848.10" y2="3567.81" stroke="#000" stroke-width="6.0"/>
<line x1="3931.86" y1="3589.40" x2="3931.86" y2="3567.81" stroke="#000" stroke-width="6.0"/>
<line x1="4015.61" y1="3589.40" x2="4015.61" y2="3567.81" stroke="#000" stroke-width="6.0"/>
<line x1="4099.36" y1="3589.40" x2="4099.36" y2="3546.21" stroke="#000" stroke-width="6.0"/>
<line x1="2926.82" y1="2398.50" x2="2926.82" y2="2420.09" stroke="#000" stroke-width="6.0"/>
<line x1="3010.57" y1="2398.50" x2="3010.57" y2="2420.09" stroke="#000" stroke-width="6.0"/>
<line x1="3094.32" y1="2398.50" x2="3094.32" y2="2420.09" stroke="#000" stroke-width="6.0"/>
<line x1="3178.07" y1="2398.50" x2="3178.07" y2="2420.09" stroke="#000" stroke-width="6.0"/>
<line x1="3261.83" y1="2398.50" x2="3261.83" y2="2441.69" stroke="#000" stroke-width="6.0"/>
<line x1="3345.58" y1="2398.50" x2="3345.58" y2="2420.09" stroke="#000" stroke-width="6.0"/>
<line x1="3429.34" y1="2398.50" x2="3429.34" y2="2420.09" stroke="#000" stroke-width="6.0"/>
<line x1="3513.09" y1="2398.50" x2="3513.09" y2="2420.09" stroke="#000" stroke-width="6.0"/>
<line x1="3596.84" y1="2398.50" x2="3596.84" y2="2420.09" stroke="#000" stroke-width="6.0"/>
<line x1="3680.59" y1="2398.50" x2="3680.59" y2="2441.69" stroke="#000" stroke-width="6.0"/>
<line x1="3764.35" y1="2398.50" x2="3764.35" y2="2420.09" stroke="#000" stroke-width="6.0"/>
<line x1="3848.10" y1="2398.50" x2="3848.10" y2="2420.09" stroke="#000" stroke-width="6.0"/>
<line x1="3931.86" y1="2398.50" x2="3931.86" y2="2420.09" stroke="#000" stroke-width="6.0"/>
<line x1="4015.61" y1="2398.50" x2="4015.61" y2="2420.09" stroke="#000" stroke-width="6.0"/>
<line x1="4099.36" y1="2398.50" x2="4099.36" y2="2441.69" stroke="#000" stroke-width="6.0"/>
</g>
<g id="pad-a">
<path d="M351.7 585.9 L362.1 587.1 L372.5 588.1 L382.8 589.1 L393.2 589.9 L403.6 590.8 L414.0 591.6 L424.4 592.5 L434.7 593.5 L445.1 594.5 L455.5 595.8 L465.9 597.2 L476.3 598.7 L486.7 600.5 L497.0 602.4 L507.4 604.5 L517.8 606.7 L528.2 609.0 L538.6 611.5 L548.9 614.2 L559.3 616.9 L569.7 619.7 L580.1 622.7 L590.5 625.7 L600.8 628.9 L611.2 632.1 L621.6 635.3 L632.0 638.7 L642.4 642.1 L652.8 645.6 L663.1 649.1 L673.5 652.7 L683.9 656.3 L694.3 660.0 L704.7 663.7 L715.0 667.5 L725.4 671.3 L735.8 675.2 L746.2 679.1 L756.6 683.1 L766.9 687.1 L777.3 691.2 L787.7 695.3 L798.1 699.4 L808.5 703.6 L818.9 707.8 L829.2 712.0 L839.6 716.3 L850.0 720.6 L860.4 724.9 L870.8 729.2 L881.1 733.6 L891.5 738.0 L901.9 742.5 L912.3 746.9 L922.7 751.4 L933.0 755.9 L943.4 760.4 L953.8 764.9 L964.2 769.4 L974.6 774.0 L985.0 778.5 L995.3 783.1 L1005.7 787.7 L1016.1 792.3 L1026.5 796.9 L1036.9 801.5 L1047.2 806.1 L1057.6 810.8 L1068.0 815.4 L1078.4 820.0 L1088.8 824.7 L1099.1 829.3 L1109.5 833.9 L1119.9 838.6 L1130.3 843.2 L1140.7 847.9 L1151.1 852.5 L1161.4 857.2 L1171.8 861.8 L1182.2 866.5 L1192.6 871.1 L1203.0 875.7 L1213.3 880.4 L1223.7 885.0 L1234.1 889.6 L1244.5 894.2 L1254.9 898.8 L1265.2 903.4 L1275.6 908.0 L1286.0 912.5 L1296.4 917.1 L1306.8 921.6 L1317.2 926.2 L1327.5 930.7 L1337.9 935.2 L1348.3 939.6 L1358.7 944.1 L1369.1 948.6 L1379.4 953.0 L1389.8 957.4 L1400.2 961.8 L1410.6 966.1 L1421.0 970.5 L1431.3 974.8 L1441.7 979.1 L1452.1 983.4 L1462.5 987.6 L1472.9 991.9 L1483.2 996.1 L1493.6 1000.2 L1504.0 1004.4 L1514.4 1008.5 L1524.8 1012.6 L1535.2 1016.6 L1545.5 1020.7 L1555.9 1024.7 L1566.3 1028.6 L1576.7 1032.5 L1587.1 1036.4" fill="none" stroke="#0000ff" stroke-width="11.5" stroke-linejoin="round"/>
<circle cx="529.7" cy="605.6" r="18.7" fill="#0000ff"/>
<circle cx="550.6" cy="613.1" r="18.7" fill="#0000ff"/>
<circle cx="571.6" cy="623.2" r="18.7" fill="#0000ff"/>
<circle cx="592.5" cy="629.4" r="18.7" fill="#0000ff"/>
<circle cx="613.4" cy="635.0" r="18.7" fill="#0000ff"/>
<circle cx="634.4" cy="640.0" r="18.7" fill="#0000ff"/>
<circle cx="655.3" cy="645.7" r="18.7" fill="#0000ff"/>
<circle cx="676.2" cy="652.0" r="18.7" fill="#0000ff"/>
<circle cx="697.2" cy="659.5" r="18.7" fill="#0000ff"/>
<circle cx="718.1" cy="665.8" r="18.7" fill="#0000ff"/>
<circle cx="739.1" cy="674.6" r="18.7" fill="#0000ff"/>
<circle cx="770.5" cy="690.9" r="18.7" fill="#0000ff"/>
<circle cx="812.3" cy="707.7" r="18.7" fill="#0000ff"/>
<circle cx="854.2" cy="722.2" r="18.7" fill="#0000ff"/>
<circle cx="896.1" cy="740.0" r="18.7" fill="#0000ff"/>
<circle cx="938.0" cy="758.0" r="18.7" fill="#0000ff"/>
<circle cx="979.8" cy="776.3" r="18.7" fill="#0000ff"/>
<circle cx="1021.7" cy="794.8" r="18.7" fill="#0000ff"/>
<circle cx="1063.6" cy="813.4" r="18.7" fill="#0000ff"/>
<circle cx="1105.5" cy="832.1" r="18.7" fill="#0000ff"/>
<circle cx="1147.4" cy="850.9" r="18.7" fill="#0000ff"/>
<circle cx="1210.2" cy="879.0" r="18.7" fill="#0000ff"/>
<circle cx="1293.9" cy="916.0" r="18.7" fill="#0000ff"/>
<circle cx="1377.7" cy="952.2" r="18.7" fill="#0000ff"/>
<circle cx="1461.4" cy="987.2" r="18.7" fill="#0000ff"/>
<circle cx="1545.2" cy="1020.5" r="18.7" fill="#0000ff"/>
<path d="M351.7 403.4 L362.1 404.6 L372.5 406.3 L382.8 408.2 L393.2 410.6 L403.6 413.3 L414.0 416.3 L424.4 419.5 L434.7 423.1 L445.1 427.0 L455.5 431.1 L465.9 435.4 L476.3 440.0 L486.7 444.7 L497.0 449.7 L507.4 454.8 L517.8 460.0 L528.2 465.4 L538.6 470.9 L548.9 476.5 L559.3 482.2 L569.7 488.0 L580.1 493.9 L590.5 499.8 L600.8 505.8 L611.2 511.9 L621.6 518.0 L632.0 524.2 L642.4 530.4 L652.8 536.6 L663.1 542.8 L673.5 549.1 L683.9 555.4 L694.3 561.7 L704.7 568.0 L715.0 574.2 L725.4 580.5 L735.8 586.7 L746.2 592.9 L756.6 599.1 L766.9 605.2 L777.3 611.3 L787.7 617.4 L798.1 623.4 L808.5 629.4 L818.9 635.4 L829.2 641.3 L839.6 647.2 L850.0 653.1 L860.4 658.9 L870.8 664.7 L881.1 670.5 L891.5 676.3 L901.9 682.0 L912.3 687.7 L922.7 693.4 L933.0 699.0 L943.4 704.7 L953.8 710.3 L964.2 715.9 L974.6 721.5 L985.0 727.0 L995.3 732.6 L1005.7 738.1 L1016.1 743.6 L1026.5 749.2 L1036.9 754.6 L1047.2 760.1 L1057.6 765.6 L1068.0 771.1 L1078.4 776.5 L1088.8 781.9 L1099.1 787.3 L1109.5 792.7 L1119.9 798.1 L1130.3 803.5 L1140.7 808.8 L1151.1 814.1 L1161.4 819.4 L1171.8 824.7 L1182.2 830.0 L1192.6 835.2 L1203.0 840.4 L1213.3 845.6 L1223.7 850.7 L1234.1 855.8 L1244.5 860.9 L1254.9 866.0 L1265.2 871.0 L1275.6 876.0 L1286.0 880.9 L1296.4 885.8 L1306.8 890.7 L1317.2 895.6 L1327.5 900.4 L1337.9 905.1 L1348.3 909.9 L1358.7 914.6 L1369.1 919.2 L1379.4 923.8 L1389.8 928.3 L1400.2 932.9 L1410.6 937.3 L1421.0 941.7 L1431.3 946.1 L1441.7 950.4 L1452.1 954.7 L1462.5 958.9 L1472.9 963.0 L1483.2 967.2 L1493.6 971.2 L1504.0 975.2 L1514.4 979.1 L1524.8 983.0 L1535.2 986.8 L1545.5 990.6 L1555.9 994.3 L1566.3 997.9 L1576.7 1001.5 L1587.1 1005.0" fill="none" stroke="#ff0000" stroke-width="11.5" stroke-linejoin="round"/>
<circle cx="466.9" cy="437.1" r="18.7" fill="#ff0000"/>
<circle cx="487.8" cy="441.9" r="18.7" fill="#ff0000"/>
<circle cx="508.7" cy="447.6" r="18.7" fill="#ff0000"/>
<circle cx="529.7" cy="460.2" r="18.7" fill="#ff0000"/>
<circle cx="550.6" cy="474.5" r="18.7" fill="#ff0000"/>
<circle cx="571.6" cy="491.5" r="18.7" fill="#ff0000"/>
<circle cx="592.5" cy="507.8" r="18.7" fill="#ff0000"/>
<circle cx="613.4" cy="519.1" r="18.7" fill="#ff0000"/>
<circle cx="634.4" cy="527.4" r="18.7" fill="#ff0000"/>
<circle cx="655.3" cy="539.2" r="18.7" fill="#ff0000"/>
<circle cx="676.2" cy="550.8" r="18.7" fill="#ff0000"/>
<circle cx="697.2" cy="563.4" r="18.7" fill="#ff0000"/>
<circle cx="718.1" cy="576.1" r="18.7" fill="#ff0000"/>
<circle cx="739.1" cy="588.7" r="18.7" fill="#ff0000"/>
<circle cx="770.5" cy="607.3" r="18.7" fill="#ff0000"/>
<circle cx="812.3" cy="631.6" r="18.7" fill="#ff0000"/>
<circle cx="854.2" cy="655.4" r="18.7" fill="#ff0000"/>
<circle cx="896.1" cy="678.8" r="18.7" fill="#ff0000"/>
<circle cx="938.0" cy="701.7" r="18.7" fill="#ff0000"/>
<circle cx="979.8" cy="724.3" r="18.7" fill="#ff0000"/>
<circle cx="1021.7" cy="746.6" r="18.7" fill="#ff0000"/>
<circle cx="1063.6" cy="768.7" r="18.7" fill="#ff0000"/>
<circle cx="1105.5" cy="790.6" r="18.7" fill="#ff0000"/>
<circle cx="1147.4" cy="812.2" r="18.7" fill="#ff0000"/>
<circle cx="1210.2" cy="844.0" r="18.7" fill="#ff0000"/>
<circle cx="1293.9" cy="884.7" r="18.7" fill="#ff0000"/>
<circle cx="1377.7" cy="923.0" r="18.7" fill="#ff0000"/>
<circle cx="1461.4" cy="958.5" r="18.7" fill="#ff0000"/>
<circle cx="1545.2" cy="990.5" r="18.7" fill="#ff0000"/>
<path d="M351.7 68.1 L362.1 75.0 L372.5 82.5 L382.8 90.6 L393.2 99.2 L403.6 108.4 L414.0 118.3 L424.4 128.8 L434.7 139.8 L445.1 151.3 L455.5 163.2 L465.9 175.4 L476.3 187.9 L486.7 200.5 L497.0 213.2 L507.4 225.8 L517.8 238.4 L528.2 250.8 L538.6 263.0 L548.9 274.8 L559.3 286.3 L569.7 297.4 L580.1 308.3 L590.5 318.9 L600.8 329.2 L611.2 339.2 L621.6 349.0 L632.0 358.5 L642.4 367.8 L652.8 376.9 L663.1 385.8 L673.5 394.5 L683.9 403.0 L694.3 411.4 L704.7 419.7 L715.0 427.8 L725.4 435.8 L735.8 443.7 L746.2 451.5 L756.6 459.2 L766.9 466.9 L777.3 474.5 L787.7 482.0 L798.1 489.5 L808.5 496.9 L818.9 504.2 L829.2 511.5 L839.6 518.7 L850.0 525.8 L860.4 532.9 L870.8 540.0 L881.1 546.9 L891.5 553.9 L901.9 560.7 L912.3 567.5 L922.7 574.3 L933.0 581.0 L943.4 587.7 L953.8 594.3 L964.2 600.8 L974.6 607.3 L985.0 613.8 L995.3 620.2 L1005.7 626.6 L1016.1 632.9 L1026.5 639.2 L1036.9 645.5 L1047.2 651.7 L1057.6 657.8 L1068.0 664.0 L1078.4 670.1 L1088.8 676.1 L1099.1 682.1 L1109.5 688.1 L1119.9 694.0 L1130.3 699.9 L1140.7 705.8 L1151.1 711.6 L1161.4 717.4 L1171.8 723.1 L1182.2 728.8 L1192.6 734.4 L1203.0 740.1 L1213.3 745.6 L1223.7 751.2 L1234.1 756.6 L1244.5 762.1 L1254.9 767.5 L1265.2 772.9 L1275.6 778.2 L1286.0 783.5 L1296.4 788.8 L1306.8 794.0 L1317.2 799.1 L1327.5 804.3 L1337.9 809.3 L1348.3 814.4 L1358.7 819.4 L1369.1 824.4 L1379.4 829.3 L1389.8 834.2 L1400.2 839.0 L1410.6 843.8 L1421.0 848.6 L1431.3 853.3 L1441.7 857.9 L1452.1 862.6 L1462.5 867.2 L1472.9 871.7 L1483.2 876.2 L1493.6 880.7 L1504.0 885.1 L1514.4 889.5 L1524.8 893.8 L1535.2 898.1 L1545.5 902.4 L1555.9 906.6 L1566.3 910.8 L1576.7 914.9 L1587.1 919.0" fill="none" stroke="#000000" stroke-width="11.5" stroke-linejoin="round"/>
<circle cx="466.9" cy="176.6" r="18.7" fill="#000000"/>
<circle cx="487.8" cy="201.9" r="18.7" fill="#000000"/>
<circle cx="508.7" cy="227.4" r="18.7" fill="#000000"/>
<circle cx="529.7" cy="252.6" r="18.7" fill="#000000"/>
<circle cx="550.6" cy="276.7" r="18.7" fill="#000000"/>
<circle cx="571.6" cy="299.4" r="18.7" fill="#000000"/>
<circle cx="592.5" cy="320.9" r="18.7" fill="#000000"/>
<circle cx="613.4" cy="341.3" r="18.7" fill="#000000"/>
<circle cx="634.4" cy="360.6" r="18.7" fill="#000000"/>
<circle cx="655.3" cy="379.1" r="18.7" fill="#000000"/>
<circle cx="676.2" cy="396.8" r="18.7" fill="#000000"/>
<circle cx="697.2" cy="413.8" r="18.7" fill="#000000"/>
<circle cx="718.1" cy="430.2" r="18.7" fill="#000000"/>
<circle cx="739.1" cy="446.1" r="18.7" fill="#000000"/>
<circle cx="770.5" cy="469.5" r="18.7" fill="#000000"/>
<circle cx="812.3" cy="499.6" r="18.7" fill="#000000"/>
<circle cx="854.2" cy="528.7" r="18.7" fill="#000000"/>
<circle cx="896.1" cy="556.9" r="18.7" fill="#000000"/>
<circle cx="938.0" cy="584.2" r="18.7" fill="#000000"/>
<circle cx="979.8" cy="610.6" r="18.7" fill="#000000"/>
<circle cx="1021.7" cy="636.3" r="18.7" fill="#000000"/>
<circle cx="1063.6" cy="661.4" r="18.7" fill="#000000"/>
<circle cx="1105.5" cy="685.8" r="18.7" fill="#000000"/>
<circle cx="1147.4" cy="709.5" r="18.7" fill="#000000"/>
<circle cx="1210.2" cy="743.9" r="18.7" fill="#000000"/>
<circle cx="1293.9" cy="787.5" r="18.7" fill="#000000"/>
<circle cx="1377.7" cy="828.4" r="18.7" fill="#000000"/>
<circle cx="1461.4" cy="866.7" r="18.7" fill="#000000"/>
<circle cx="1545.2" cy="902.2" r="18.7" fill="#000000"/>
</g>
<g id="pad-b">
<path d="M1608.0 588.3 L1618.4 589.4 L1628.8 590.4 L1639.1 591.3 L1649.5 592.1 L1659.9 592.9 L1670.3 593.6 L1680.7 594.4 L1691.0 595.3 L1701.4 596.4 L1711.8 597.5 L1722.2 598.9 L1732.6 600.4 L1743.0 602.1 L1753.3 604.0 L1763.7 606.1 L1774.1 608.3 L1784.5 610.6 L1794.9 613.1 L1805.2 615.7 L1815.6 618.5 L1826.0 621.3 L1836.4 624.3 L1846.8 627.3 L1857.1 630.4 L1867.5 633.7 L1877.9 636.9 L1888.3 640.3 L1898.7 643.7 L1909.1 647.1 L1919.4 650.7 L1929.8 654.2 L1940.2 657.8 L1950.6 661.5 L1961.0 665.2 L1971.3 669.0 L1981.7 672.9 L1992.1 676.7 L2002.5 680.7 L2012.9 685.0 L2023.2 689.5 L2033.6 694.1 L2044.0 698.7 L2054.4 703.3 L2064.8 707.7 L2075.2 712.0 L2085.5 716.3 L2095.9 720.6 L2106.3 724.9 L2116.7 729.3 L2127.1 733.7 L2137.4 738.1 L2147.8 742.5 L2158.2 746.9 L2168.6 751.4 L2179.0 755.9 L2189.3 760.4 L2199.7 764.9 L2210.1 769.4 L2220.5 773.9 L2230.9 778.5 L2241.3 783.0 L2251.6 787.6 L2262.0 792.2 L2272.4 796.8 L2282.8 801.4 L2293.2 806.0 L2303.5 810.6 L2313.9 815.3 L2324.3 819.9 L2334.7 824.5 L2345.1 829.2 L2355.4 833.8 L2365.8 838.4 L2376.2 843.1 L2386.6 847.7 L2397.0 852.4 L2407.4 857.0 L2417.7 861.7 L2428.1 866.3 L2438.5 871.0 L2448.9 875.6 L2459.3 880.2 L2469.6 884.9 L2480.0 889.5 L2490.4 894.1 L2500.8 898.7 L2511.2 903.3 L2521.5 907.9 L2531.9 912.5 L2542.3 917.0 L2552.7 921.6 L2563.1 926.1 L2573.5 930.7 L2583.8 935.2 L2594.2 939.7 L2604.6 944.2 L2615.0 948.7 L2625.4 953.1 L2635.7 957.6 L2646.1 962.0 L2656.5 966.4 L2666.9 970.8 L2677.3 975.2 L2687.6 979.5 L2698.0 983.9 L2708.4 988.2 L2718.8 992.5 L2729.2 996.7 L2739.5 1001.0 L2749.9 1005.2 L2760.3 1009.3 L2770.7 1013.5 L2781.1 1017.6 L2791.5 1021.7 L2801.8 1025.8 L2812.2 1029.8 L2822.6 1033.8 L2833.0 1037.8 L2843.4 1041.7" fill="none" stroke="#0000ff" stroke-width="11.5" stroke-linejoin="round"/>
<circle cx="1786.0" cy="611.0" r="18.7" fill="#0000ff"/>
<circle cx="1806.9" cy="616.2" r="18.7" fill="#0000ff"/>
<circle cx="1827.9" cy="621.8" r="18.7" fill="#0000ff"/>
<circle cx="1848.8" cy="627.9" r="18.7" fill="#0000ff"/>
<circle cx="1869.7" cy="634.3" r="18.7" fill="#0000ff"/>
<circle cx="1890.7" cy="641.1" r="18.7" fill="#0000ff"/>
<circle cx="1911.6" cy="648.0" r="18.7" fill="#0000ff"/>
<circle cx="1932.5" cy="655.2" r="18.7" fill="#0000ff"/>
<circle cx="1953.5" cy="662.6" r="18.7" fill="#0000ff"/>
<circle cx="1974.4" cy="670.2" r="18.7" fill="#0000ff"/>
<circle cx="1995.4" cy="678.0" r="18.7" fill="#0000ff"/>
<circle cx="2026.8" cy="691.0" r="18.7" fill="#0000ff"/>
<circle cx="2068.6" cy="709.3" r="18.7" fill="#0000ff"/>
<circle cx="2110.5" cy="726.7" r="18.7" fill="#0000ff"/>
<circle cx="2152.4" cy="744.4" r="18.7" fill="#0000ff"/>
<circle cx="2194.3" cy="762.5" r="18.7" fill="#0000ff"/>
<circle cx="2236.2" cy="780.8" r="18.7" fill="#0000ff"/>
<circle cx="2278.0" cy="799.3" r="18.7" fill="#0000ff"/>
<circle cx="2319.9" cy="817.9" r="18.7" fill="#0000ff"/>
<circle cx="2361.8" cy="836.6" r="18.7" fill="#0000ff"/>
<circle cx="2403.7" cy="855.4" r="18.7" fill="#0000ff"/>
<circle cx="2466.5" cy="883.5" r="18.7" fill="#0000ff"/>
<circle cx="2550.2" cy="920.5" r="18.7" fill="#0000ff"/>
<circle cx="2634.0" cy="956.8" r="18.7" fill="#0000ff"/>
<circle cx="2717.7" cy="992.0" r="18.7" fill="#0000ff"/>
<circle cx="2801.5" cy="1025.6" r="18.7" fill="#0000ff"/>
<path d="M1608.0 406.6 L1618.4 407.8 L1628.8 409.5 L1639.1 411.4 L1649.5 413.8 L1659.9 416.5 L1670.3 419.5 L1680.7 422.7 L1691.0 426.3 L1701.4 430.2 L1711.8 434.3 L1722.2 438.6 L1732.6 443.2 L1743.0 447.9 L1753.3 452.9 L1763.7 458.0 L1774.1 463.3 L1784.5 468.7 L1794.9 474.2 L1805.2 479.8 L1815.6 485.5 L1826.0 491.3 L1836.4 497.2 L1846.8 503.2 L1857.1 509.2 L1867.5 515.3 L1877.9 521.4 L1888.3 527.6 L1898.7 533.8 L1909.1 540.1 L1919.4 546.4 L1929.8 552.7 L1940.2 559.0 L1950.6 565.3 L1961.0 571.6 L1971.3 577.9 L1981.7 584.1 L1992.1 590.4 L2002.5 596.6 L2012.9 602.8 L2023.2 609.0 L2033.6 615.1 L2044.0 621.2 L2054.4 627.2 L2064.8 633.2 L2075.2 639.2 L2085.5 645.2 L2095.9 651.1 L2106.3 657.0 L2116.7 662.8 L2127.1 668.6 L2137.4 674.4 L2147.8 680.2 L2158.2 686.0 L2168.6 691.7 L2179.0 697.4 L2189.3 703.0 L2199.7 708.7 L2210.1 714.3 L2220.5 719.9 L2230.9 725.5 L2241.3 731.0 L2251.6 736.6 L2262.0 742.1 L2272.4 747.6 L2282.8 753.2 L2293.2 758.6 L2303.5 764.1 L2313.9 769.6 L2324.3 775.1 L2334.7 780.5 L2345.1 785.9 L2355.4 791.3 L2365.8 796.7 L2376.2 802.1 L2386.6 807.5 L2397.0 812.8 L2407.4 818.1 L2417.7 823.4 L2428.1 828.7 L2438.5 834.0 L2448.9 839.2 L2459.3 844.4 L2469.6 849.6 L2480.0 854.7 L2490.4 859.8 L2500.8 864.9 L2511.2 870.0 L2521.5 875.0 L2531.9 880.0 L2542.3 884.9 L2552.7 889.8 L2563.1 894.7 L2573.5 899.6 L2583.8 904.4 L2594.2 909.2 L2604.6 913.9 L2615.0 918.6 L2625.4 923.2 L2635.7 927.8 L2646.1 932.4 L2656.5 936.9 L2666.9 941.4 L2677.3 945.8 L2687.6 950.2 L2698.0 954.6 L2708.4 958.9 L2718.8 963.1 L2729.2 967.3 L2739.5 971.4 L2749.9 975.5 L2760.3 979.5 L2770.7 983.4 L2781.1 987.3 L2791.5 991.2 L2801.8 995.0 L2812.2 998.7 L2822.6 1002.4 L2833.0 1006.0 L2843.4 1009.5" fill="none" stroke="#ff0000" stroke-width="11.5" stroke-linejoin="round"/>
<circle cx="1723.2" cy="440.3" r="18.7" fill="#ff0000"/>
<circle cx="1744.1" cy="445.1" r="18.7" fill="#ff0000"/>
<circle cx="1765.0" cy="450.8" r="18.7" fill="#ff0000"/>
<circle cx="1786.0" cy="463.4" r="18.7" fill="#ff0000"/>
<circle cx="1806.9" cy="477.8" r="18.7" fill="#ff0000"/>
<circle cx="1827.9" cy="494.8" r="18.7" fill="#ff0000"/>
<circle cx="1848.8" cy="511.2" r="18.7" fill="#ff0000"/>
<circle cx="1869.7" cy="522.5" r="18.7" fill="#ff0000"/>
<circle cx="1890.7" cy="530.9" r="18.7" fill="#ff0000"/>
<circle cx="1911.6" cy="542.7" r="18.7" fill="#ff0000"/>
<circle cx="1932.5" cy="554.3" r="18.7" fill="#ff0000"/>
<circle cx="1953.5" cy="567.0" r="18.7" fill="#ff0000"/>
<circle cx="1974.4" cy="579.7" r="18.7" fill="#ff0000"/>
<circle cx="1995.4" cy="592.3" r="18.7" fill="#ff0000"/>
<circle cx="2026.8" cy="611.0" r="18.7" fill="#ff0000"/>
<circle cx="2068.6" cy="635.5" r="18.7" fill="#ff0000"/>
<circle cx="2110.5" cy="659.3" r="18.7" fill="#ff0000"/>
<circle cx="2152.4" cy="682.7" r="18.7" fill="#ff0000"/>
<circle cx="2194.3" cy="705.7" r="18.7" fill="#ff0000"/>
<circle cx="2236.2" cy="728.3" r="18.7" fill="#ff0000"/>
<circle cx="2278.0" cy="750.6" r="18.7" fill="#ff0000"/>
<circle cx="2319.9" cy="772.7" r="18.7" fill="#ff0000"/>
<circle cx="2361.8" cy="794.6" r="18.7" fill="#ff0000"/>
<circle cx="2403.7" cy="816.2" r="18.7" fill="#ff0000"/>
<circle cx="2466.5" cy="848.0" r="18.7" fill="#ff0000"/>
<circle cx="2550.2" cy="888.7" r="18.7" fill="#ff0000"/>
<circle cx="2634.0" cy="927.1" r="18.7" fill="#ff0000"/>
<circle cx="2717.7" cy="962.7" r="18.7" fill="#ff0000"/>
<circle cx="2801.5" cy="994.8" r="18.7" fill="#ff0000"/>
<path d="M1608.0 70.5 L1618.4 77.6 L1628.8 85.2 L1639.1 93.4 L1649.5 102.1 L1659.9 111.3 L1670.3 121.2 L1680.7 131.6 L1691.0 142.7 L1701.4 154.2 L1711.8 166.1 L1722.2 178.3 L1732.6 190.7 L1743.0 203.4 L1753.3 216.0 L1763.7 228.7 L1774.1 241.3 L1784.5 253.8 L1794.9 265.9 L1805.2 277.8 L1815.6 289.3 L1826.0 300.5 L1836.4 311.4 L1846.8 322.0 L1857.1 332.3 L1867.5 342.4 L1877.9 352.2 L1888.3 361.7 L1898.7 371.1 L1909.1 380.2 L1919.4 389.1 L1929.8 397.8 L1940.2 406.4 L1950.6 414.8 L1961.0 423.0 L1971.3 431.2 L1981.7 439.2 L1992.1 447.1 L2002.5 454.9 L2012.9 462.7 L2023.2 470.3 L2033.6 478.0 L2044.0 485.5 L2054.4 493.0 L2064.8 500.4 L2075.2 507.7 L2085.5 515.0 L2095.9 522.2 L2106.3 529.3 L2116.7 536.4 L2127.1 543.5 L2137.4 550.4 L2147.8 557.4 L2158.2 564.2 L2168.6 571.0 L2179.0 577.8 L2189.3 584.5 L2199.7 591.2 L2210.1 597.8 L2220.5 604.3 L2230.9 610.8 L2241.3 617.3 L2251.6 623.7 L2262.0 630.1 L2272.4 636.4 L2282.8 642.7 L2293.2 649.0 L2303.5 655.2 L2313.9 661.3 L2324.3 667.5 L2334.7 673.6 L2345.1 679.6 L2355.4 685.6 L2365.8 691.6 L2376.2 697.5 L2386.6 703.4 L2397.0 709.3 L2407.4 715.1 L2417.7 720.9 L2428.1 726.6 L2438.5 732.3 L2448.9 737.9 L2459.3 743.6 L2469.6 749.1 L2480.0 754.7 L2490.4 760.1 L2500.8 765.6 L2511.2 771.0 L2521.5 776.4 L2531.9 781.7 L2542.3 787.0 L2552.7 792.3 L2563.1 797.5 L2573.5 802.6 L2583.8 807.8 L2594.2 812.8 L2604.6 817.9 L2615.0 822.9 L2625.4 827.9 L2635.7 832.8 L2646.1 837.7 L2656.5 842.5 L2666.9 847.3 L2677.3 852.1 L2687.6 856.8 L2698.0 861.6 L2708.4 866.4 L2718.8 871.2 L2729.2 876.0 L2739.5 880.7 L2749.9 885.5 L2760.3 890.1 L2770.7 894.7 L2781.1 899.2 L2791.5 903.6 L2801.8 907.9 L2812.2 912.0 L2822.6 916.0 L2833.0 919.8 L2843.4 923.5" fill="none" stroke="#000000" stroke-width="11.5" stroke-linejoin="round"/>
<circle cx="1723.2" cy="179.4" r="18.7" fill="#000000"/>
<circle cx="1744.1" cy="204.7" r="18.7" fill="#000000"/>
<circle cx="1765.0" cy="230.3" r="18.7" fill="#000000"/>
<circle cx="1786.0" cy="255.5" r="18.7" fill="#000000"/>
<circle cx="1806.9" cy="279.7" r="18.7" fill="#000000"/>
<circle cx="1827.9" cy="302.5" r="18.7" fill="#000000"/>
<circle cx="1848.8" cy="324.1" r="18.7" fill="#000000"/>
<circle cx="1869.7" cy="344.5" r="18.7" fill="#000000"/>
<circle cx="1890.7" cy="363.9" r="18.7" fill="#000000"/>
<circle cx="1911.6" cy="382.4" r="18.7" fill="#000000"/>
<circle cx="1932.5" cy="400.1" r="18.7" fill="#000000"/>
<circle cx="1953.5" cy="417.1" r="18.7" fill="#000000"/>
<circle cx="1974.4" cy="433.6" r="18.7" fill="#000000"/>
<circle cx="1995.4" cy="449.6" r="18.7" fill="#000000"/>
<circle cx="2026.8" cy="472.9" r="18.7" fill="#000000"/>
<circle cx="2068.6" cy="503.1" r="18.7" fill="#000000"/>
<circle cx="2110.5" cy="532.2" r="18.7" fill="#000000"/>
<circle cx="2152.4" cy="560.4" r="18.7" fill="#000000"/>
<circle cx="2194.3" cy="587.7" r="18.7" fill="#000000"/>
<circle cx="2236.2" cy="614.1" r="18.7" fill="#000000"/>
<circle cx="2278.0" cy="639.8" r="18.7" fill="#000000"/>
<circle cx="2319.9" cy="664.9" r="18.7" fill="#000000"/>
<circle cx="2361.8" cy="689.3" r="18.7" fill="#000000"/>
<circle cx="2403.7" cy="713.0" r="18.7" fill="#000000"/>
<circle cx="2466.5" cy="747.4" r="18.7" fill="#000000"/>
<circle cx="2550.2" cy="791.0" r="18.7" fill="#000000"/>
<circle cx="2634.0" cy="831.9" r="18.7" fill="#000000"/>
<circle cx="2717.7" cy="870.7" r="18.7" fill="#000000"/>
<circle cx="2801.5" cy="907.7" r="18.7" fill="#000000"/>
</g>
<g id="pad-c">
<path d="M2864.0 590.5 L2874.4 591.6 L2884.8 592.5 L2895.1 593.3 L2905.5 594.1 L2915.9 594.8 L2926.3 595.6 L2936.7 596.4 L2947.0 597.2 L2957.4 598.2 L2967.8 599.4 L2978.2 600.7 L2988.6 602.2 L2999.0 603.9 L3009.3 605.8 L3019.7 607.9 L3030.1 610.1 L3040.5 612.4 L3050.9 614.9 L3061.2 617.5 L3071.6 620.3 L3082.0 623.2 L3092.4 626.2 L3102.8 629.3 L3113.1 632.4 L3123.5 635.7 L3133.9 639.0 L3144.3 642.4 L3154.7 645.8 L3165.1 649.3 L3175.4 652.8 L3185.8 656.4 L3196.2 660.1 L3206.6 663.8 L3217.0 667.5 L3227.3 671.3 L3237.7 675.2 L3248.1 679.1 L3258.5 683.1 L3268.9 687.5 L3279.2 692.0 L3289.6 696.7 L3300.0 701.4 L3310.4 706.1 L3320.8 710.7 L3331.2 715.0 L3341.5 719.4 L3351.9 723.9 L3362.3 728.3 L3372.7 732.8 L3383.1 737.2 L3393.4 741.7 L3403.8 746.2 L3414.2 750.7 L3424.6 755.3 L3435.0 759.8 L3445.3 764.3 L3455.7 768.9 L3466.1 773.4 L3476.5 777.9 L3486.9 782.5 L3497.3 787.0 L3507.6 791.6 L3518.0 796.2 L3528.4 800.8 L3538.8 805.4 L3549.2 810.0 L3559.5 814.6 L3569.9 819.3 L3580.3 823.9 L3590.7 828.5 L3601.1 833.2 L3611.4 837.8 L3621.8 842.4 L3632.2 847.1 L3642.6 851.7 L3653.0 856.4 L3663.4 861.0 L3673.7 865.7 L3684.1 870.3 L3694.5 875.0 L3704.9 879.6 L3715.3 884.2 L3725.6 888.9 L3736.0 893.5 L3746.4 898.1 L3756.8 902.7 L3767.2 907.3 L3777.5 911.9 L3787.9 916.5 L3798.3 921.0 L3808.7 925.6 L3819.1 930.1 L3829.5 934.7 L3839.8 939.2 L3850.2 943.7 L3860.6 948.2 L3871.0 952.7 L3881.4 957.2 L3891.7 961.7 L3902.1 966.1 L3912.5 970.5 L3922.9 975.0 L3933.3 979.3 L3943.6 983.7 L3954.0 988.1 L3964.4 992.4 L3974.8 996.7 L3985.2 1001.0 L3995.5 1005.3 L4005.9 1009.5 L4016.3 1013.7 L4026.7 1017.9 L4037.1 1022.1 L4047.5 1026.2 L4057.8 1030.3 L4068.2 1034.4 L4078.6 1038.4 L4089.0 1042.4 L4099.4 1046.4" fill="none" stroke="#0000ff" stroke-width="11.5" stroke-linejoin="round"/>
<circle cx="3042.0" cy="612.8" r="18.7" fill="#0000ff"/>
<circle cx="3062.9" cy="618.0" r="18.7" fill="#0000ff"/>
<circle cx="3083.9" cy="623.7" r="18.7" fill="#0000ff"/>
<circle cx="3104.8" cy="629.9" r="18.7" fill="#0000ff"/>
<circle cx="3125.7" cy="636.4" r="18.7" fill="#0000ff"/>
<circle cx="3146.7" cy="643.2" r="18.7" fill="#0000ff"/>
<circle cx="3167.6" cy="650.2" r="18.7" fill="#0000ff"/>
<circle cx="3188.5" cy="657.4" r="18.7" fill="#0000ff"/>
<circle cx="3209.5" cy="664.8" r="18.7" fill="#0000ff"/>
<circle cx="3230.4" cy="672.5" r="18.7" fill="#0000ff"/>
<circle cx="3251.4" cy="680.3" r="18.7" fill="#0000ff"/>
<circle cx="3282.8" cy="693.6" r="18.7" fill="#0000ff"/>
<circle cx="3324.6" cy="712.3" r="18.7" fill="#0000ff"/>
<circle cx="3366.5" cy="730.1" r="18.7" fill="#0000ff"/>
<circle cx="3408.4" cy="748.2" r="18.7" fill="#0000ff"/>
<circle cx="3450.3" cy="766.5" r="18.7" fill="#0000ff"/>
<circle cx="3492.2" cy="784.8" r="18.7" fill="#0000ff"/>
<circle cx="3534.0" cy="803.3" r="18.7" fill="#0000ff"/>
<circle cx="3575.9" cy="821.9" r="18.7" fill="#0000ff"/>
<circle cx="3617.8" cy="840.6" r="18.7" fill="#0000ff"/>
<circle cx="3659.7" cy="859.4" r="18.7" fill="#0000ff"/>
<circle cx="3722.5" cy="887.5" r="18.7" fill="#0000ff"/>
<circle cx="3806.2" cy="924.5" r="18.7" fill="#0000ff"/>
<circle cx="3890.0" cy="960.9" r="18.7" fill="#0000ff"/>
<circle cx="3973.7" cy="996.3" r="18.7" fill="#0000ff"/>
<circle cx="4057.5" cy="1030.2" r="18.7" fill="#0000ff"/>
<path d="M2864.0 409.0 L2874.4 410.2 L2884.8 411.9 L2895.1 413.8 L2905.5 416.2 L2915.9 418.9 L2926.3 421.9 L2936.7 425.1 L2947.0 428.7 L2957.4 432.6 L2967.8 436.7 L2978.2 441.0 L2988.6 445.6 L2999.0 450.3 L3009.3 455.3 L3019.7 460.4 L3030.1 465.7 L3040.5 471.1 L3050.9 476.6 L3061.2 482.3 L3071.6 488.0 L3082.0 493.8 L3092.4 499.7 L3102.8 505.7 L3113.1 511.7 L3123.5 517.8 L3133.9 524.0 L3144.3 530.2 L3154.7 536.4 L3165.1 542.7 L3175.4 549.0 L3185.8 555.3 L3196.2 561.6 L3206.6 567.9 L3217.0 574.3 L3227.3 580.6 L3237.7 586.9 L3248.1 593.1 L3258.5 599.4 L3268.9 605.6 L3279.2 611.7 L3289.6 617.9 L3300.0 624.0 L3310.4 630.0 L3320.8 636.1 L3331.2 642.1 L3341.5 648.0 L3351.9 654.0 L3362.3 659.9 L3372.7 665.7 L3383.1 671.6 L3393.4 677.4 L3403.8 683.2 L3414.2 688.9 L3424.6 694.7 L3435.0 700.4 L3445.3 706.0 L3455.7 711.7 L3466.1 717.3 L3476.5 722.9 L3486.9 728.5 L3497.3 734.0 L3507.6 739.6 L3518.0 745.1 L3528.4 750.6 L3538.8 756.2 L3549.2 761.6 L3559.5 767.1 L3569.9 772.6 L3580.3 778.1 L3590.7 783.5 L3601.1 788.9 L3611.4 794.3 L3621.8 799.7 L3632.2 805.1 L3642.6 810.5 L3653.0 815.8 L3663.4 821.1 L3673.7 826.4 L3684.1 831.7 L3694.5 837.0 L3704.9 842.2 L3715.3 847.4 L3725.6 852.6 L3736.0 857.7 L3746.4 862.8 L3756.8 867.9 L3767.2 873.0 L3777.5 878.0 L3787.9 883.0 L3798.3 887.9 L3808.7 892.8 L3819.1 897.7 L3829.5 902.6 L3839.8 907.4 L3850.2 912.2 L3860.6 916.9 L3871.0 921.6 L3881.4 926.3 L3891.7 930.9 L3902.1 935.5 L3912.5 940.0 L3922.9 944.5 L3933.3 948.9 L3943.6 953.3 L3954.0 957.7 L3964.4 962.0 L3974.8 966.2 L3985.2 970.4 L3995.5 974.6 L4005.9 978.7 L4016.3 982.7 L4026.7 986.7 L4037.1 990.6 L4047.5 994.5 L4057.8 998.3 L4068.2 1002.0 L4078.6 1005.7 L4089.0 1009.3 L4099.4 1012.8" fill="none" stroke="#ff0000" stroke-width="11.5" stroke-linejoin="round"/>
<circle cx="2979.2" cy="442.7" r="18.7" fill="#ff0000"/>
<circle cx="3000.1" cy="447.5" r="18.7" fill="#ff0000"/>
<circle cx="3021.0" cy="453.2" r="18.7" fill="#ff0000"/>
<circle cx="3042.0" cy="465.9" r="18.7" fill="#ff0000"/>
<circle cx="3062.9" cy="480.2" r="18.7" fill="#ff0000"/>
<circle cx="3083.9" cy="497.3" r="18.7" fill="#ff0000"/>
<circle cx="3104.8" cy="513.7" r="18.7" fill="#ff0000"/>
<circle cx="3125.7" cy="525.1" r="18.7" fill="#ff0000"/>
<circle cx="3146.7" cy="533.4" r="18.7" fill="#ff0000"/>
<circle cx="3167.6" cy="545.3" r="18.7" fill="#ff0000"/>
<circle cx="3188.5" cy="557.0" r="18.7" fill="#ff0000"/>
<circle cx="3209.5" cy="569.7" r="18.7" fill="#ff0000"/>
<circle cx="3230.4" cy="582.4" r="18.7" fill="#ff0000"/>
<circle cx="3251.4" cy="595.1" r="18.7" fill="#ff0000"/>
<circle cx="3282.8" cy="613.8" r="18.7" fill="#ff0000"/>
<circle cx="3324.6" cy="638.3" r="18.7" fill="#ff0000"/>
<circle cx="3366.5" cy="662.3" r="18.7" fill="#ff0000"/>
<circle cx="3408.4" cy="685.7" r="18.7" fill="#ff0000"/>
<circle cx="3450.3" cy="708.7" r="18.7" fill="#ff0000"/>
<circle cx="3492.2" cy="731.3" r="18.7" fill="#ff0000"/>
<circle cx="3534.0" cy="753.6" r="18.7" fill="#ff0000"/>
<circle cx="3575.9" cy="775.7" r="18.7" fill="#ff0000"/>
<circle cx="3617.8" cy="797.6" r="18.7" fill="#ff0000"/>
<circle cx="3659.7" cy="819.2" r="18.7" fill="#ff0000"/>
<circle cx="3722.5" cy="851.0" r="18.7" fill="#ff0000"/>
<circle cx="3806.2" cy="891.7" r="18.7" fill="#ff0000"/>
<circle cx="3890.0" cy="930.1" r="18.7" fill="#ff0000"/>
<circle cx="3973.7" cy="965.8" r="18.7" fill="#ff0000"/>
<circle cx="4057.5" cy="998.1" r="18.7" fill="#ff0000"/>
<path d="M2864.0 73.3 L2874.4 80.7 L2884.8 88.5 L2895.1 96.8 L2905.5 105.5 L2915.9 114.8 L2926.3 124.6 L2936.7 135.1 L2947.0 146.1 L2957.4 157.6 L2967.8 169.5 L2978.2 181.7 L2988.6 194.2 L2999.0 206.8 L3009.3 219.5 L3019.7 232.2 L3030.1 244.9 L3040.5 257.3 L3050.9 269.5 L3061.2 281.4 L3071.6 293.0 L3082.0 304.2 L3092.4 315.2 L3102.8 325.8 L3113.1 336.1 L3123.5 346.2 L3133.9 356.0 L3144.3 365.6 L3154.7 375.0 L3165.1 384.1 L3175.4 393.0 L3185.8 401.8 L3196.2 410.4 L3206.6 418.8 L3217.0 427.1 L3227.3 435.2 L3237.7 443.3 L3248.1 451.2 L3258.5 459.0 L3268.9 466.8 L3279.2 474.5 L3289.6 482.1 L3300.0 489.7 L3310.4 497.1 L3320.8 504.6 L3331.2 511.9 L3341.5 519.2 L3351.9 526.4 L3362.3 533.5 L3372.7 540.6 L3383.1 547.7 L3393.4 554.6 L3403.8 561.6 L3414.2 568.4 L3424.6 575.2 L3435.0 582.0 L3445.3 588.7 L3455.7 595.4 L3466.1 602.0 L3476.5 608.5 L3486.9 615.0 L3497.3 621.5 L3507.6 627.9 L3518.0 634.3 L3528.4 640.6 L3538.8 646.9 L3549.2 653.2 L3559.5 659.4 L3569.9 665.5 L3580.3 671.7 L3590.7 677.8 L3601.1 683.8 L3611.4 689.8 L3621.8 695.8 L3632.2 701.7 L3642.6 707.6 L3653.0 713.5 L3663.4 719.3 L3673.7 725.1 L3684.1 730.8 L3694.5 736.5 L3704.9 742.1 L3715.3 747.8 L3725.6 753.3 L3736.0 758.9 L3746.4 764.3 L3756.8 769.8 L3767.2 775.2 L3777.5 780.6 L3787.9 785.9 L3798.3 791.2 L3808.7 796.5 L3819.1 801.7 L3829.5 806.8 L3839.8 812.0 L3850.2 817.0 L3860.6 822.1 L3871.0 827.1 L3881.4 832.1 L3891.7 837.0 L3902.1 841.9 L3912.5 846.7 L3922.9 851.5 L3933.3 856.3 L3943.6 861.0 L3954.0 865.8 L3964.4 870.6 L3974.8 875.4 L3985.2 880.2 L3995.5 884.9 L4005.9 889.7 L4016.3 894.3 L4026.7 898.9 L4037.1 903.4 L4047.5 907.8 L4057.8 912.1 L4068.2 916.2 L4078.6 920.2 L4089.0 924.0 L4099.4 927.7" fill="none" stroke="#000000" stroke-width="11.5" stroke-linejoin="round"/>
<circle cx="2979.2" cy="182.9" r="18.7" fill="#000000"/>
<circle cx="3000.1" cy="208.2" r="18.7" fill="#000000"/>
<circle cx="3021.0" cy="233.8" r="18.7" fill="#000000"/>
<circle cx="3042.0" cy="259.1" r="18.7" fill="#000000"/>
<circle cx="3062.9" cy="283.3" r="18.7" fill="#000000"/>
<circle cx="3083.9" cy="306.2" r="18.7" fill="#000000"/>
<circle cx="3104.8" cy="327.8" r="18.7" fill="#000000"/>
<circle cx="3125.7" cy="348.3" r="18.7" fill="#000000"/>
<circle cx="3146.7" cy="367.8" r="18.7" fill="#000000"/>
<circle cx="3167.6" cy="386.3" r="18.7" fill="#000000"/>
<circle cx="3188.5" cy="404.1" r="18.7" fill="#000000"/>
<circle cx="3209.5" cy="421.1" r="18.7" fill="#000000"/>
<circle cx="3230.4" cy="437.6" r="18.7" fill="#000000"/>
<circle cx="3251.4" cy="453.7" r="18.7" fill="#000000"/>
<circle cx="3282.8" cy="477.1" r="18.7" fill="#000000"/>
<circle cx="3324.6" cy="507.3" r="18.7" fill="#000000"/>
<circle cx="3366.5" cy="536.4" r="18.7" fill="#000000"/>
<circle cx="3408.4" cy="564.6" r="18.7" fill="#000000"/>
<circle cx="3450.3" cy="591.9" r="18.7" fill="#000000"/>
<circle cx="3492.2" cy="618.3" r="18.7" fill="#000000"/>
<circle cx="3534.0" cy="644.0" r="18.7" fill="#000000"/>
<circle cx="3575.9" cy="669.1" r="18.7" fill="#000000"/>
<circle cx="3617.8" cy="693.5" r="18.7" fill="#000000"/>
<circle cx="3659.7" cy="717.2" r="18.7" fill="#000000"/>
<circle cx="3722.5" cy="751.6" r="18.7" fill="#000000"/>
<circle cx="3806.2" cy="795.2" r="18.7" fill="#000000"/>
<circle cx="3890.0" cy="836.1" r="18.7" fill="#000000"/>
<circle cx="3973.7" cy="874.9" r="18.7" fill="#000000"/>
<circle cx="4057.5" cy="911.9" r="18.7" fill="#000000"/>
</g>
<g id="pad-d">
<path d="M351.7 1784.3 L362.1 1785.4 L372.5 1786.2 L382.8 1787.1 L393.2 1787.8 L403.6 1788.5 L414.0 1789.2 L424.4 1790.0 L434.7 1790.9 L445.1 1791.9 L455.5 1793.0 L465.9 1794.4 L476.3 1795.9 L486.7 1797.6 L497.0 1799.5 L507.4 1801.5 L517.8 1803.7 L528.2 1806.1 L538.6 1808.6 L548.9 1811.2 L559.3 1814.0 L569.7 1817.0 L580.1 1820.0 L590.5 1823.1 L600.8 1826.3 L611.2 1829.6 L621.6 1833.0 L632.0 1836.4 L642.4 1839.9 L652.8 1843.4 L663.1 1846.9 L673.5 1850.5 L683.9 1854.2 L694.3 1857.9 L704.7 1861.7 L715.0 1865.5 L725.4 1869.4 L735.8 1873.4 L746.2 1877.4 L756.6 1881.8 L766.9 1886.4 L777.3 1891.2 L787.7 1896.0 L798.1 1900.8 L808.5 1905.4 L818.9 1909.9 L829.2 1914.4 L839.6 1919.0 L850.0 1923.5 L860.4 1928.1 L870.8 1932.7 L881.1 1937.3 L891.5 1941.9 L901.9 1946.5 L912.3 1951.1 L922.7 1955.7 L933.0 1960.3 L943.4 1964.8 L953.8 1969.4 L964.2 1973.9 L974.6 1978.5 L985.0 1983.0 L995.3 1987.6 L1005.7 1992.2 L1016.1 1996.8 L1026.5 2001.4 L1036.9 2006.0 L1047.2 2010.6 L1057.6 2015.3 L1068.0 2019.9 L1078.4 2024.5 L1088.8 2029.2 L1099.1 2033.8 L1109.5 2038.4 L1119.9 2043.1 L1130.3 2047.7 L1140.7 2052.4 L1151.1 2057.0 L1161.4 2061.7 L1171.8 2066.3 L1182.2 2071.0 L1192.6 2075.6 L1203.0 2080.2 L1213.3 2084.9 L1223.7 2089.5 L1234.1 2094.1 L1244.5 2098.7 L1254.9 2103.3 L1265.2 2107.9 L1275.6 2112.5 L1286.0 2117.0 L1296.4 2121.6 L1306.8 2126.1 L1317.2 2130.7 L1327.5 2135.2 L1337.9 2139.7 L1348.3 2144.3 L1358.7 2148.8 L1369.1 2153.3 L1379.4 2157.8 L1389.8 2162.2 L1400.2 2166.7 L1410.6 2171.1 L1421.0 2175.6 L1431.3 2180.0 L1441.7 2184.4 L1452.1 2188.7 L1462.5 2193.1 L1472.9 2197.4 L1483.2 2201.7 L1493.6 2206.0 L1504.0 2210.2 L1514.4 2214.5 L1524.8 2218.7 L1535.2 2222.8 L1545.5 2227.0 L1555.9 2231.1 L1566.3 2235.2 L1576.7 2239.2 L1587.1 2243.2" fill="none" stroke="#0000ff" stroke-width="11.5" stroke-linejoin="round"/>
<circle cx="529.7" cy="1806.4" r="18.7" fill="#0000ff"/>
<circle cx="550.6" cy="1811.7" r="18.7" fill="#0000ff"/>
<circle cx="571.6" cy="1817.5" r="18.7" fill="#0000ff"/>
<circle cx="592.5" cy="1823.7" r="18.7" fill="#0000ff"/>
<circle cx="613.4" cy="1830.3" r="18.7" fill="#0000ff"/>
<circle cx="634.4" cy="1837.2" r="18.7" fill="#0000ff"/>
<circle cx="655.3" cy="1844.2" r="18.7" fill="#0000ff"/>
<circle cx="676.2" cy="1851.5" r="18.7" fill="#0000ff"/>
<circle cx="697.2" cy="1859.0" r="18.7" fill="#0000ff"/>
<circle cx="718.1" cy="1866.7" r="18.7" fill="#0000ff"/>
<circle cx="739.1" cy="1874.6" r="18.7" fill="#0000ff"/>
<circle cx="770.5" cy="1888.0" r="18.7" fill="#0000ff"/>
<circle cx="812.3" cy="1907.1" r="18.7" fill="#0000ff"/>
<circle cx="854.2" cy="1925.4" r="18.7" fill="#0000ff"/>
<circle cx="896.1" cy="1943.9" r="18.7" fill="#0000ff"/>
<circle cx="938.0" cy="1962.4" r="18.7" fill="#0000ff"/>
<circle cx="979.8" cy="1980.8" r="18.7" fill="#0000ff"/>
<circle cx="1021.7" cy="1999.3" r="18.7" fill="#0000ff"/>
<circle cx="1063.6" cy="2017.9" r="18.7" fill="#0000ff"/>
<circle cx="1105.5" cy="2036.6" r="18.7" fill="#0000ff"/>
<circle cx="1147.4" cy="2055.4" r="18.7" fill="#0000ff"/>
<circle cx="1210.2" cy="2083.5" r="18.7" fill="#0000ff"/>
<circle cx="1293.9" cy="2120.5" r="18.7" fill="#0000ff"/>
<circle cx="1377.7" cy="2157.0" r="18.7" fill="#0000ff"/>
<circle cx="1461.4" cy="2192.6" r="18.7" fill="#0000ff"/>
<circle cx="1545.2" cy="2226.8" r="18.7" fill="#0000ff"/>
<path d="M351.7 1603.7 L362.1 1604.9 L372.5 1606.6 L382.8 1608.5 L393.2 1610.9 L403.6 1613.6 L414.0 1616.6 L424.4 1619.8 L434.7 1623.4 L445.1 1627.3 L455.5 1631.4 L465.9 1635.7 L476.3 1640.3 L486.7 1645.0 L497.0 1650.0 L507.4 1655.1 L517.8 1660.4 L528.2 1665.8 L538.6 1671.4 L548.9 1677.1 L559.3 1682.8 L569.7 1688.7 L580.1 1694.6 L590.5 1700.6 L600.8 1706.6 L611.2 1712.8 L621.6 1719.0 L632.0 1725.2 L642.4 1731.4 L652.8 1737.7 L663.1 1744.1 L673.5 1750.4 L683.9 1756.7 L694.3 1763.1 L704.7 1769.4 L715.0 1775.7 L725.4 1782.0 L735.8 1788.3 L746.2 1794.6 L756.6 1800.8 L766.9 1807.0 L777.3 1813.2 L787.7 1819.3 L798.1 1825.4 L808.5 1831.4 L818.9 1837.5 L829.2 1843.5 L839.6 1849.4 L850.0 1855.3 L860.4 1861.2 L870.8 1867.1 L881.1 1872.9 L891.5 1878.7 L901.9 1884.5 L912.3 1890.2 L922.7 1895.9 L933.0 1901.6 L943.4 1907.3 L953.8 1912.9 L964.2 1918.5 L974.6 1924.1 L985.0 1929.6 L995.3 1935.2 L1005.7 1940.7 L1016.1 1946.2 L1026.5 1951.8 L1036.9 1957.2 L1047.2 1962.7 L1057.6 1968.2 L1068.0 1973.7 L1078.4 1979.1 L1088.8 1984.5 L1099.1 1989.9 L1109.5 1995.3 L1119.9 2000.7 L1130.3 2006.1 L1140.7 2011.4 L1151.1 2016.7 L1161.4 2022.0 L1171.8 2027.3 L1182.2 2032.6 L1192.6 2037.8 L1203.0 2043.0 L1213.3 2048.2 L1223.7 2053.3 L1234.1 2058.4 L1244.5 2063.5 L1254.9 2068.6 L1265.2 2073.6 L1275.6 2078.6 L1286.0 2083.5 L1296.4 2088.4 L1306.8 2093.3 L1317.2 2098.2 L1327.5 2103.0 L1337.9 2107.8 L1348.3 2112.5 L1358.7 2117.2 L1369.1 2121.9 L1379.4 2126.6 L1389.8 2131.1 L1400.2 2135.7 L1410.6 2140.2 L1421.0 2144.7 L1431.3 2149.1 L1441.7 2153.5 L1452.1 2157.8 L1462.5 2162.0 L1472.9 2166.3 L1483.2 2170.4 L1493.6 2174.6 L1504.0 2178.6 L1514.4 2182.6 L1524.8 2186.6 L1535.2 2190.5 L1545.5 2194.3 L1555.9 2198.1 L1566.3 2201.8 L1576.7 2205.4 L1587.1 2209.0" fill="none" stroke="#ff0000" stroke-width="11.5" stroke-linejoin="round"/>
<circle cx="466.9" cy="1637.4" r="18.7" fill="#ff0000"/>
<circle cx="487.8" cy="1642.2" r="18.7" fill="#ff0000"/>
<circle cx="508.7" cy="1648.0" r="18.7" fill="#ff0000"/>
<circle cx="529.7" cy="1660.6" r="18.7" fill="#ff0000"/>
<circle cx="550.6" cy="1675.0" r="18.7" fill="#ff0000"/>
<circle cx="571.6" cy="1692.1" r="18.7" fill="#ff0000"/>
<circle cx="592.5" cy="1708.6" r="18.7" fill="#ff0000"/>
<circle cx="613.4" cy="1720.0" r="18.7" fill="#ff0000"/>
<circle cx="634.4" cy="1728.4" r="18.7" fill="#ff0000"/>
<circle cx="655.3" cy="1740.4" r="18.7" fill="#ff0000"/>
<circle cx="676.2" cy="1752.0" r="18.7" fill="#ff0000"/>
<circle cx="697.2" cy="1764.8" r="18.7" fill="#ff0000"/>
<circle cx="718.1" cy="1777.6" r="18.7" fill="#ff0000"/>
<circle cx="739.1" cy="1790.3" r="18.7" fill="#ff0000"/>
<circle cx="770.5" cy="1809.1" r="18.7" fill="#ff0000"/>
<circle cx="812.3" cy="1833.7" r="18.7" fill="#ff0000"/>
<circle cx="854.2" cy="1857.7" r="18.7" fill="#ff0000"/>
<circle cx="896.1" cy="1881.3" r="18.7" fill="#ff0000"/>
<circle cx="938.0" cy="1904.3" r="18.7" fill="#ff0000"/>
<circle cx="979.8" cy="1926.9" r="18.7" fill="#ff0000"/>
<circle cx="1021.7" cy="1949.2" r="18.7" fill="#ff0000"/>
<circle cx="1063.6" cy="1971.3" r="18.7" fill="#ff0000"/>
<circle cx="1105.5" cy="1993.2" r="18.7" fill="#ff0000"/>
<circle cx="1147.4" cy="2014.8" r="18.7" fill="#ff0000"/>
<circle cx="1210.2" cy="2046.6" r="18.7" fill="#ff0000"/>
<circle cx="1293.9" cy="2087.3" r="18.7" fill="#ff0000"/>
<circle cx="1377.7" cy="2125.8" r="18.7" fill="#ff0000"/>
<circle cx="1461.4" cy="2161.6" r="18.7" fill="#ff0000"/>
<circle cx="1545.2" cy="2194.2" r="18.7" fill="#ff0000"/>
<path d="M351.7 1267.4 L362.1 1274.9 L372.5 1282.9 L382.8 1291.4 L393.2 1300.2 L403.6 1309.4 L414.0 1319.2 L424.4 1329.7 L434.7 1340.7 L445.1 1352.2 L455.5 1364.1 L465.9 1376.4 L476.3 1388.8 L486.7 1401.5 L497.0 1414.2 L507.4 1426.9 L517.8 1439.6 L528.2 1452.1 L538.6 1464.3 L548.9 1476.2 L559.3 1487.8 L569.7 1499.1 L580.1 1510.1 L590.5 1520.8 L600.8 1531.1 L611.2 1541.3 L621.6 1551.1 L632.0 1560.7 L642.4 1570.1 L652.8 1579.2 L663.1 1588.2 L673.5 1596.9 L683.9 1605.6 L694.3 1614.0 L704.7 1622.3 L715.0 1630.5 L725.4 1638.5 L735.8 1646.5 L746.2 1654.4 L756.6 1662.1 L766.9 1669.8 L777.3 1677.5 L787.7 1685.0 L798.1 1692.5 L808.5 1700.0 L818.9 1707.3 L829.2 1714.6 L839.6 1721.8 L850.0 1728.9 L860.4 1736.0 L870.8 1743.1 L881.1 1750.0 L891.5 1757.0 L901.9 1763.8 L912.3 1770.6 L922.7 1777.4 L933.0 1784.1 L943.4 1790.8 L953.8 1797.4 L964.2 1803.9 L974.6 1810.4 L985.0 1816.9 L995.3 1823.3 L1005.7 1829.7 L1016.1 1836.0 L1026.5 1842.3 L1036.9 1848.6 L1047.2 1854.8 L1057.6 1860.9 L1068.0 1867.1 L1078.4 1873.2 L1088.8 1879.2 L1099.1 1885.2 L1109.5 1891.2 L1119.9 1897.1 L1130.3 1903.0 L1140.7 1908.9 L1151.1 1914.7 L1161.4 1920.5 L1171.8 1926.2 L1182.2 1931.9 L1192.6 1937.5 L1203.0 1943.2 L1213.3 1948.7 L1223.7 1954.3 L1234.1 1959.7 L1244.5 1965.2 L1254.9 1970.6 L1265.2 1976.0 L1275.6 1981.3 L1286.0 1986.6 L1296.4 1991.9 L1306.8 1997.1 L1317.2 2002.2 L1327.5 2007.4 L1337.9 2012.4 L1348.3 2017.5 L1358.7 2022.5 L1369.1 2027.5 L1379.4 2032.4 L1389.8 2037.3 L1400.2 2042.1 L1410.6 2046.9 L1421.0 2051.7 L1431.3 2056.4 L1441.7 2061.2 L1452.1 2066.0 L1462.5 2070.8 L1472.9 2075.6 L1483.2 2080.3 L1493.6 2085.1 L1504.0 2089.7 L1514.4 2094.3 L1524.8 2098.8 L1535.2 2103.2 L1545.5 2107.5 L1555.9 2111.6 L1566.3 2115.6 L1576.7 2119.4 L1587.1 2123.1" fill="none" stroke="#000000" stroke-width="11.5" stroke-linejoin="round"/>
<circle cx="466.9" cy="1377.5" r="18.7" fill="#000000"/>
<circle cx="487.8" cy="1402.9" r="18.7" fill="#000000"/>
<circle cx="508.7" cy="1428.5" r="18.7" fill="#000000"/>
<circle cx="529.7" cy="1453.8" r="18.7" fill="#000000"/>
<circle cx="550.6" cy="1478.1" r="18.7" fill="#000000"/>
<circle cx="571.6" cy="1501.1" r="18.7" fill="#000000"/>
<circle cx="592.5" cy="1522.8" r="18.7" fill="#000000"/>
<circle cx="613.4" cy="1543.4" r="18.7" fill="#000000"/>
<circle cx="634.4" cy="1562.8" r="18.7" fill="#000000"/>
<circle cx="655.3" cy="1581.4" r="18.7" fill="#000000"/>
<circle cx="676.2" cy="1599.2" r="18.7" fill="#000000"/>
<circle cx="697.2" cy="1616.3" r="18.7" fill="#000000"/>
<circle cx="718.1" cy="1632.9" r="18.7" fill="#000000"/>
<circle cx="739.1" cy="1649.0" r="18.7" fill="#000000"/>
<circle cx="770.5" cy="1672.4" r="18.7" fill="#000000"/>
<circle cx="812.3" cy="1702.7" r="18.7" fill="#000000"/>
<circle cx="854.2" cy="1731.8" r="18.7" fill="#000000"/>
<circle cx="896.1" cy="1760.0" r="18.7" fill="#000000"/>
<circle cx="938.0" cy="1787.3" r="18.7" fill="#000000"/>
<circle cx="979.8" cy="1813.7" r="18.7" fill="#000000"/>
<circle cx="1021.7" cy="1839.4" r="18.7" fill="#000000"/>
<circle cx="1063.6" cy="1864.5" r="18.7" fill="#000000"/>
<circle cx="1105.5" cy="1888.9" r="18.7" fill="#000000"/>
<circle cx="1147.4" cy="1912.6" r="18.7" fill="#000000"/>
<circle cx="1210.2" cy="1947.0" r="18.7" fill="#000000"/>
<circle cx="1293.9" cy="1990.6" r="18.7" fill="#000000"/>
<circle cx="1377.7" cy="2031.5" r="18.7" fill="#000000"/>
<circle cx="1461.4" cy="2070.3" r="18.7" fill="#000000"/>
<circle cx="1545.2" cy="2107.3" r="18.7" fill="#000000"/>
</g>
<g id="pad-e">
<path d="M1608.0 1786.6 L1618.4 1787.6 L1628.8 1788.5 L1639.1 1789.2 L1649.5 1789.9 L1659.9 1790.6 L1670.3 1791.3 L1680.7 1792.1 L1691.0 1792.9 L1701.4 1793.9 L1711.8 1795.0 L1722.2 1796.3 L1732.6 1797.9 L1743.0 1799.6 L1753.3 1801.4 L1763.7 1803.5 L1774.1 1805.7 L1784.5 1808.0 L1794.9 1810.5 L1805.2 1813.2 L1815.6 1816.0 L1826.0 1819.0 L1836.4 1822.1 L1846.8 1825.3 L1857.1 1828.5 L1867.5 1831.9 L1877.9 1835.3 L1888.3 1838.7 L1898.7 1842.2 L1909.1 1845.7 L1919.4 1849.3 L1929.8 1853.0 L1940.2 1856.6 L1950.6 1860.4 L1961.0 1864.2 L1971.3 1868.1 L1981.7 1872.0 L1992.1 1876.0 L2002.5 1880.1 L2012.9 1884.6 L2023.2 1889.3 L2033.6 1894.1 L2044.0 1898.9 L2054.4 1903.8 L2064.8 1908.5 L2075.2 1913.1 L2085.5 1917.7 L2095.9 1922.4 L2106.3 1927.0 L2116.7 1931.7 L2127.1 1936.4 L2137.4 1941.1 L2147.8 1945.8 L2158.2 1950.4 L2168.6 1955.1 L2179.0 1959.8 L2189.3 1964.4 L2199.7 1969.0 L2210.1 1973.6 L2220.5 1978.1 L2230.9 1982.7 L2241.3 1987.2 L2251.6 1991.8 L2262.0 1996.4 L2272.4 2001.0 L2282.8 2005.6 L2293.2 2010.2 L2303.5 2014.8 L2313.9 2019.5 L2324.3 2024.1 L2334.7 2028.7 L2345.1 2033.4 L2355.4 2038.0 L2365.8 2042.6 L2376.2 2047.3 L2386.6 2051.9 L2397.0 2056.6 L2407.4 2061.2 L2417.7 2065.9 L2428.1 2070.5 L2438.5 2075.2 L2448.9 2079.8 L2459.3 2084.4 L2469.6 2089.1 L2480.0 2093.7 L2490.4 2098.3 L2500.8 2102.9 L2511.2 2107.5 L2521.5 2112.1 L2531.9 2116.7 L2542.3 2121.2 L2552.7 2125.8 L2563.1 2130.3 L2573.5 2134.9 L2583.8 2139.4 L2594.2 2144.0 L2604.6 2148.5 L2615.0 2153.0 L2625.4 2157.5 L2635.7 2162.0 L2646.1 2166.5 L2656.5 2171.0 L2666.9 2175.5 L2677.3 2179.9 L2687.6 2184.4 L2698.0 2188.8 L2708.4 2193.2 L2718.8 2197.6 L2729.2 2201.9 L2739.5 2206.3 L2749.9 2210.6 L2760.3 2214.9 L2770.7 2219.1 L2781.1 2223.4 L2791.5 2227.6 L2801.8 2231.7 L2812.2 2235.9 L2822.6 2240.0 L2833.0 2244.1 L2843.4 2248.1" fill="none" stroke="#0000ff" stroke-width="11.5" stroke-linejoin="round"/>
<circle cx="1786.0" cy="1808.4" r="18.7" fill="#0000ff"/>
<circle cx="1806.9" cy="1813.7" r="18.7" fill="#0000ff"/>
<circle cx="1827.9" cy="1819.5" r="18.7" fill="#0000ff"/>
<circle cx="1848.8" cy="1825.9" r="18.7" fill="#0000ff"/>
<circle cx="1869.7" cy="1832.6" r="18.7" fill="#0000ff"/>
<circle cx="1890.7" cy="1839.5" r="18.7" fill="#0000ff"/>
<circle cx="1911.6" cy="1846.6" r="18.7" fill="#0000ff"/>
<circle cx="1932.5" cy="1853.9" r="18.7" fill="#0000ff"/>
<circle cx="1953.5" cy="1861.4" r="18.7" fill="#0000ff"/>
<circle cx="1974.4" cy="1869.2" r="18.7" fill="#0000ff"/>
<circle cx="1995.4" cy="1877.3" r="18.7" fill="#0000ff"/>
<circle cx="2026.8" cy="1890.9" r="18.7" fill="#0000ff"/>
<circle cx="2068.6" cy="1910.2" r="18.7" fill="#0000ff"/>
<circle cx="2110.5" cy="1928.9" r="18.7" fill="#0000ff"/>
<circle cx="2152.4" cy="1947.8" r="18.7" fill="#0000ff"/>
<circle cx="2194.3" cy="1966.6" r="18.7" fill="#0000ff"/>
<circle cx="2236.2" cy="1985.0" r="18.7" fill="#0000ff"/>
<circle cx="2278.0" cy="2003.5" r="18.7" fill="#0000ff"/>
<circle cx="2319.9" cy="2022.1" r="18.7" fill="#0000ff"/>
<circle cx="2361.8" cy="2040.8" r="18.7" fill="#0000ff"/>
<circle cx="2403.7" cy="2059.6" r="18.7" fill="#0000ff"/>
<circle cx="2466.5" cy="2087.7" r="18.7" fill="#0000ff"/>
<circle cx="2550.2" cy="2124.7" r="18.7" fill="#0000ff"/>
<circle cx="2634.0" cy="2161.3" r="18.7" fill="#0000ff"/>
<circle cx="2717.7" cy="2197.1" r="18.7" fill="#0000ff"/>
<circle cx="2801.5" cy="2231.6" r="18.7" fill="#0000ff"/>
<path d="M1608.0 1607.3 L1618.4 1608.5 L1628.8 1610.2 L1639.1 1612.1 L1649.5 1614.5 L1659.9 1617.2 L1670.3 1620.2 L1680.7 1623.4 L1691.0 1627.0 L1701.4 1630.9 L1711.8 1635.0 L1722.2 1639.3 L1732.6 1643.9 L1743.0 1648.6 L1753.3 1653.6 L1763.7 1658.7 L1774.1 1664.0 L1784.5 1669.5 L1794.9 1675.1 L1805.2 1680.7 L1815.6 1686.5 L1826.0 1692.4 L1836.4 1698.3 L1846.8 1704.4 L1857.1 1710.5 L1867.5 1716.6 L1877.9 1722.8 L1888.3 1729.1 L1898.7 1735.3 L1909.1 1741.7 L1919.4 1748.0 L1929.8 1754.4 L1940.2 1760.7 L1950.6 1767.1 L1961.0 1773.4 L1971.3 1779.8 L1981.7 1786.1 L1992.1 1792.4 L2002.5 1798.7 L2012.9 1805.0 L2023.2 1811.2 L2033.6 1817.4 L2044.0 1823.5 L2054.4 1829.6 L2064.8 1835.7 L2075.2 1841.8 L2085.5 1847.8 L2095.9 1853.8 L2106.3 1859.7 L2116.7 1865.6 L2127.1 1871.5 L2137.4 1877.3 L2147.8 1883.2 L2158.2 1888.9 L2168.6 1894.7 L2179.0 1900.4 L2189.3 1906.1 L2199.7 1911.8 L2210.1 1917.4 L2220.5 1923.0 L2230.9 1928.6 L2241.3 1934.1 L2251.6 1939.7 L2262.0 1945.2 L2272.4 1950.7 L2282.8 1956.3 L2293.2 1961.7 L2303.5 1967.2 L2313.9 1972.7 L2324.3 1978.2 L2334.7 1983.6 L2345.1 1989.0 L2355.4 1994.4 L2365.8 1999.8 L2376.2 2005.2 L2386.6 2010.6 L2397.0 2015.9 L2407.4 2021.2 L2417.7 2026.5 L2428.1 2031.8 L2438.5 2037.1 L2448.9 2042.3 L2459.3 2047.5 L2469.6 2052.7 L2480.0 2057.8 L2490.4 2062.9 L2500.8 2068.0 L2511.2 2073.1 L2521.5 2078.1 L2531.9 2083.1 L2542.3 2088.0 L2552.7 2092.9 L2563.1 2097.8 L2573.5 2102.7 L2583.8 2107.5 L2594.2 2112.3 L2604.6 2117.1 L2615.0 2121.8 L2625.4 2126.5 L2635.7 2131.1 L2646.1 2135.7 L2656.5 2140.3 L2666.9 2144.8 L2677.3 2149.3 L2687.6 2153.7 L2698.0 2158.1 L2708.4 2162.5 L2718.8 2166.8 L2729.2 2171.0 L2739.5 2175.2 L2749.9 2179.3 L2760.3 2183.4 L2770.7 2187.5 L2781.1 2191.4 L2791.5 2195.4 L2801.8 2199.2 L2812.2 2203.0 L2822.6 2206.7 L2833.0 2210.4 L2843.4 2214.0" fill="none" stroke="#ff0000" stroke-width="11.5" stroke-linejoin="round"/>
<circle cx="1723.2" cy="1641.0" r="18.7" fill="#ff0000"/>
<circle cx="1744.1" cy="1645.8" r="18.7" fill="#ff0000"/>
<circle cx="1765.0" cy="1651.6" r="18.7" fill="#ff0000"/>
<circle cx="1786.0" cy="1664.3" r="18.7" fill="#ff0000"/>
<circle cx="1806.9" cy="1678.7" r="18.7" fill="#ff0000"/>
<circle cx="1827.9" cy="1695.9" r="18.7" fill="#ff0000"/>
<circle cx="1848.8" cy="1712.3" r="18.7" fill="#ff0000"/>
<circle cx="1869.7" cy="1723.8" r="18.7" fill="#ff0000"/>
<circle cx="1890.7" cy="1732.3" r="18.7" fill="#ff0000"/>
<circle cx="1911.6" cy="1744.3" r="18.7" fill="#ff0000"/>
<circle cx="1932.5" cy="1756.0" r="18.7" fill="#ff0000"/>
<circle cx="1953.5" cy="1768.9" r="18.7" fill="#ff0000"/>
<circle cx="1974.4" cy="1781.7" r="18.7" fill="#ff0000"/>
<circle cx="1995.4" cy="1794.4" r="18.7" fill="#ff0000"/>
<circle cx="2026.8" cy="1813.3" r="18.7" fill="#ff0000"/>
<circle cx="2068.6" cy="1838.0" r="18.7" fill="#ff0000"/>
<circle cx="2110.5" cy="1862.1" r="18.7" fill="#ff0000"/>
<circle cx="2152.4" cy="1885.7" r="18.7" fill="#ff0000"/>
<circle cx="2194.3" cy="1908.8" r="18.7" fill="#ff0000"/>
<circle cx="2236.2" cy="1931.4" r="18.7" fill="#ff0000"/>
<circle cx="2278.0" cy="1953.7" r="18.7" fill="#ff0000"/>
<circle cx="2319.9" cy="1975.8" r="18.7" fill="#ff0000"/>
<circle cx="2361.8" cy="1997.7" r="18.7" fill="#ff0000"/>
<circle cx="2403.7" cy="2019.3" r="18.7" fill="#ff0000"/>
<circle cx="2466.5" cy="2051.1" r="18.7" fill="#ff0000"/>
<circle cx="2550.2" cy="2091.8" r="18.7" fill="#ff0000"/>
<circle cx="2634.0" cy="2130.3" r="18.7" fill="#ff0000"/>
<circle cx="2717.7" cy="2166.3" r="18.7" fill="#ff0000"/>
<circle cx="2801.5" cy="2199.1" r="18.7" fill="#ff0000"/>
<path d="M1608.0 1269.7 L1618.4 1277.4 L1628.8 1285.6 L1639.1 1294.2 L1649.5 1303.0 L1659.9 1312.3 L1670.3 1322.1 L1680.7 1332.6 L1691.0 1343.6 L1701.4 1355.1 L1711.8 1367.0 L1722.2 1379.2 L1732.6 1391.7 L1743.0 1404.3 L1753.3 1417.1 L1763.7 1429.8 L1774.1 1442.5 L1784.5 1455.0 L1794.9 1467.3 L1805.2 1479.3 L1815.6 1490.9 L1826.0 1502.2 L1836.4 1513.2 L1846.8 1523.9 L1857.1 1534.3 L1867.5 1544.4 L1877.9 1554.3 L1888.3 1563.9 L1898.7 1573.3 L1909.1 1582.5 L1919.4 1591.5 L1929.8 1600.3 L1940.2 1608.9 L1950.6 1617.3 L1961.0 1625.7 L1971.3 1633.9 L1981.7 1641.9 L1992.1 1649.9 L2002.5 1657.8 L2012.9 1665.6 L2023.2 1673.3 L2033.6 1680.9 L2044.0 1688.5 L2054.4 1696.0 L2064.8 1703.4 L2075.2 1710.8 L2085.5 1718.1 L2095.9 1725.3 L2106.3 1732.4 L2116.7 1739.5 L2127.1 1746.6 L2137.4 1753.5 L2147.8 1760.5 L2158.2 1767.3 L2168.6 1774.1 L2179.0 1780.9 L2189.3 1787.6 L2199.7 1794.3 L2210.1 1800.9 L2220.5 1807.4 L2230.9 1813.9 L2241.3 1820.4 L2251.6 1826.8 L2262.0 1833.2 L2272.4 1839.5 L2282.8 1845.8 L2293.2 1852.1 L2303.5 1858.3 L2313.9 1864.4 L2324.3 1870.6 L2334.7 1876.7 L2345.1 1882.7 L2355.4 1888.7 L2365.8 1894.7 L2376.2 1900.6 L2386.6 1906.5 L2397.0 1912.4 L2407.4 1918.2 L2417.7 1924.0 L2428.1 1929.7 L2438.5 1935.4 L2448.9 1941.0 L2459.3 1946.7 L2469.6 1952.2 L2480.0 1957.8 L2490.4 1963.2 L2500.8 1968.7 L2511.2 1974.1 L2521.5 1979.5 L2531.9 1984.8 L2542.3 1990.1 L2552.7 1995.4 L2563.1 2000.6 L2573.5 2005.7 L2583.8 2010.9 L2594.2 2015.9 L2604.6 2021.0 L2615.0 2026.0 L2625.4 2031.0 L2635.7 2035.9 L2646.1 2040.8 L2656.5 2045.6 L2666.9 2050.4 L2677.3 2055.2 L2687.6 2059.9 L2698.0 2064.7 L2708.4 2069.5 L2718.8 2074.3 L2729.2 2079.1 L2739.5 2083.8 L2749.9 2088.6 L2760.3 2093.2 L2770.7 2097.8 L2781.1 2102.3 L2791.5 2106.7 L2801.8 2111.0 L2812.2 2115.1 L2822.6 2119.1 L2833.0 2122.9 L2843.4 2126.6" fill="none" stroke="#000000" stroke-width="11.5" stroke-linejoin="round"/>
<circle cx="1723.2" cy="1380.4" r="18.7" fill="#000000"/>
<circle cx="1744.1" cy="1405.7" r="18.7" fill="#000000"/>
<circle cx="1765.0" cy="1431.4" r="18.7" fill="#000000"/>
<circle cx="1786.0" cy="1456.8" r="18.7" fill="#000000"/>
<circle cx="1806.9" cy="1481.2" r="18.7" fill="#000000"/>
<circle cx="1827.9" cy="1504.2" r="18.7" fill="#000000"/>
<circle cx="1848.8" cy="1526.0" r="18.7" fill="#000000"/>
<circle cx="1869.7" cy="1546.6" r="18.7" fill="#000000"/>
<circle cx="1890.7" cy="1566.1" r="18.7" fill="#000000"/>
<circle cx="1911.6" cy="1584.7" r="18.7" fill="#000000"/>
<circle cx="1932.5" cy="1602.5" r="18.7" fill="#000000"/>
<circle cx="1953.5" cy="1619.7" r="18.7" fill="#000000"/>
<circle cx="1974.4" cy="1636.3" r="18.7" fill="#000000"/>
<circle cx="1995.4" cy="1652.4" r="18.7" fill="#000000"/>
<circle cx="2026.8" cy="1675.9" r="18.7" fill="#000000"/>
<circle cx="2068.6" cy="1706.2" r="18.7" fill="#000000"/>
<circle cx="2110.5" cy="1735.3" r="18.7" fill="#000000"/>
<circle cx="2152.4" cy="1763.5" r="18.7" fill="#000000"/>
<circle cx="2194.3" cy="1790.8" r="18.7" fill="#000000"/>
<circle cx="2236.2" cy="1817.2" r="18.7" fill="#000000"/>
<circle cx="2278.0" cy="1842.9" r="18.7" fill="#000000"/>
<circle cx="2319.9" cy="1868.0" r="18.7" fill="#000000"/>
<circle cx="2361.8" cy="1892.4" r="18.7" fill="#000000"/>
<circle cx="2403.7" cy="1916.1" r="18.7" fill="#000000"/>
<circle cx="2466.5" cy="1950.5" r="18.7" fill="#000000"/>
<circle cx="2550.2" cy="1994.1" r="18.7" fill="#000000"/>
<circle cx="2634.0" cy="2035.0" r="18.7" fill="#000000"/>
<circle cx="2717.7" cy="2073.8" r="18.7" fill="#000000"/>
<circle cx="2801.5" cy="2110.8" r="18.7" fill="#000000"/>
</g>
<g id="pad-f">
<path d="M2864.0 1788.4 L2874.4 1789.4 L2884.8 1790.3 L2895.1 1791.1 L2905.5 1791.9 L2915.9 1792.6 L2926.3 1793.4 L2936.7 1794.2 L2947.0 1795.1 L2957.4 1796.1 L2967.8 1797.3 L2978.2 1798.6 L2988.6 1800.2 L2999.0 1801.9 L3009.3 1803.8 L3019.7 1805.9 L3030.1 1808.1 L3040.5 1810.4 L3050.9 1813.0 L3061.2 1815.6 L3071.6 1818.5 L3082.0 1821.4 L3092.4 1824.5 L3102.8 1827.7 L3113.1 1831.0 L3123.5 1834.4 L3133.9 1837.8 L3144.3 1841.3 L3154.7 1844.8 L3165.1 1848.3 L3175.4 1851.9 L3185.8 1855.5 L3196.2 1859.2 L3206.6 1863.0 L3217.0 1866.8 L3227.3 1870.7 L3237.7 1874.6 L3248.1 1878.7 L3258.5 1882.8 L3268.9 1887.4 L3279.2 1892.1 L3289.6 1897.1 L3300.0 1902.1 L3310.4 1907.0 L3320.8 1911.8 L3331.2 1916.4 L3341.5 1921.0 L3351.9 1925.7 L3362.3 1930.3 L3372.7 1935.0 L3383.1 1939.7 L3393.4 1944.3 L3403.8 1949.0 L3414.2 1953.7 L3424.6 1958.4 L3435.0 1963.0 L3445.3 1967.6 L3455.7 1972.2 L3466.1 1976.8 L3476.5 1981.3 L3486.9 1985.9 L3497.3 1990.4 L3507.6 1995.0 L3518.0 1999.6 L3528.4 2004.2 L3538.8 2008.8 L3549.2 2013.4 L3559.5 2018.0 L3569.9 2022.7 L3580.3 2027.3 L3590.7 2031.9 L3601.1 2036.6 L3611.4 2041.2 L3621.8 2045.8 L3632.2 2050.5 L3642.6 2055.1 L3653.0 2059.8 L3663.4 2064.4 L3673.7 2069.1 L3684.1 2073.7 L3694.5 2078.4 L3704.9 2083.0 L3715.3 2087.6 L3725.6 2092.3 L3736.0 2096.9 L3746.4 2101.5 L3756.8 2106.1 L3767.2 2110.7 L3777.5 2115.3 L3787.9 2119.9 L3798.3 2124.4 L3808.7 2129.0 L3819.1 2133.5 L3829.5 2138.1 L3839.8 2142.6 L3850.2 2147.2 L3860.6 2151.7 L3871.0 2156.3 L3881.4 2160.8 L3891.7 2165.3 L3902.1 2169.8 L3912.5 2174.3 L3922.9 2178.8 L3933.3 2183.3 L3943.6 2187.7 L3954.0 2192.2 L3964.4 2196.6 L3974.8 2201.0 L3985.2 2205.4 L3995.5 2209.7 L4005.9 2214.1 L4016.3 2218.4 L4026.7 2222.7 L4037.1 2226.9 L4047.5 2231.2 L4057.8 2235.4 L4068.2 2239.5 L4078.6 2243.7 L4089.0 2247.8 L4099.4 2251.9" fill="none" stroke="#0000ff" stroke-width="11.5" stroke-linejoin="round"/>
<circle cx="3042.0" cy="1810.8" r="18.7" fill="#0000ff"/>
<circle cx="3062.9" cy="1816.1" r="18.7" fill="#0000ff"/>
<circle cx="3083.9" cy="1822.0" r="18.7" fill="#0000ff"/>
<circle cx="3104.8" cy="1828.4" r="18.7" fill="#0000ff"/>
<circle cx="3125.7" cy="1835.1" r="18.7" fill="#0000ff"/>
<circle cx="3146.7" cy="1842.1" r="18.7" fill="#0000ff"/>
<circle cx="3167.6" cy="1849.2" r="18.7" fill="#0000ff"/>
<circle cx="3188.5" cy="1856.5" r="18.7" fill="#0000ff"/>
<circle cx="3209.5" cy="1864.1" r="18.7" fill="#0000ff"/>
<circle cx="3230.4" cy="1871.8" r="18.7" fill="#0000ff"/>
<circle cx="3251.4" cy="1879.9" r="18.7" fill="#0000ff"/>
<circle cx="3282.8" cy="1893.8" r="18.7" fill="#0000ff"/>
<circle cx="3324.6" cy="1913.5" r="18.7" fill="#0000ff"/>
<circle cx="3366.5" cy="1932.2" r="18.7" fill="#0000ff"/>
<circle cx="3408.4" cy="1951.1" r="18.7" fill="#0000ff"/>
<circle cx="3450.3" cy="1969.8" r="18.7" fill="#0000ff"/>
<circle cx="3492.2" cy="1988.2" r="18.7" fill="#0000ff"/>
<circle cx="3534.0" cy="2006.7" r="18.7" fill="#0000ff"/>
<circle cx="3575.9" cy="2025.3" r="18.7" fill="#0000ff"/>
<circle cx="3617.8" cy="2044.0" r="18.7" fill="#0000ff"/>
<circle cx="3659.7" cy="2062.8" r="18.7" fill="#0000ff"/>
<circle cx="3722.5" cy="2090.9" r="18.7" fill="#0000ff"/>
<circle cx="3806.2" cy="2127.9" r="18.7" fill="#0000ff"/>
<circle cx="3890.0" cy="2164.5" r="18.7" fill="#0000ff"/>
<circle cx="3973.7" cy="2200.5" r="18.7" fill="#0000ff"/>
<circle cx="4057.5" cy="2235.2" r="18.7" fill="#0000ff"/>
<path d="M2864.0 1610.3 L2874.4 1611.5 L2884.8 1613.1 L2895.1 1615.1 L2905.5 1617.4 L2915.9 1620.1 L2926.3 1623.1 L2936.7 1626.4 L2947.0 1630.0 L2957.4 1633.8 L2967.8 1637.9 L2978.2 1642.3 L2988.6 1646.8 L2999.0 1651.6 L3009.3 1656.6 L3019.7 1661.7 L3030.1 1667.0 L3040.5 1672.5 L3050.9 1678.1 L3061.2 1683.8 L3071.6 1689.6 L3082.0 1695.5 L3092.4 1701.4 L3102.8 1707.5 L3113.1 1713.6 L3123.5 1719.8 L3133.9 1726.0 L3144.3 1732.2 L3154.7 1738.6 L3165.1 1744.9 L3175.4 1751.3 L3185.8 1757.6 L3196.2 1764.0 L3206.6 1770.4 L3217.0 1776.8 L3227.3 1783.1 L3237.7 1789.5 L3248.1 1795.8 L3258.5 1802.1 L3268.9 1808.4 L3279.2 1814.6 L3289.6 1820.8 L3300.0 1827.0 L3310.4 1833.1 L3320.8 1839.2 L3331.2 1845.3 L3341.5 1851.3 L3351.9 1857.3 L3362.3 1863.3 L3372.7 1869.2 L3383.1 1875.1 L3393.4 1881.0 L3403.8 1886.8 L3414.2 1892.6 L3424.6 1898.4 L3435.0 1904.1 L3445.3 1909.8 L3455.7 1915.5 L3466.1 1921.1 L3476.5 1926.7 L3486.9 1932.3 L3497.3 1937.8 L3507.6 1943.4 L3518.0 1948.9 L3528.4 1954.4 L3538.8 1960.0 L3549.2 1965.4 L3559.5 1970.9 L3569.9 1976.4 L3580.3 1981.9 L3590.7 1987.3 L3601.1 1992.7 L3611.4 1998.1 L3621.8 2003.5 L3632.2 2008.9 L3642.6 2014.3 L3653.0 2019.6 L3663.4 2024.9 L3673.7 2030.2 L3684.1 2035.5 L3694.5 2040.8 L3704.9 2046.0 L3715.3 2051.2 L3725.6 2056.4 L3736.0 2061.5 L3746.4 2066.6 L3756.8 2071.7 L3767.2 2076.8 L3777.5 2081.8 L3787.9 2086.8 L3798.3 2091.7 L3808.7 2096.6 L3819.1 2101.5 L3829.5 2106.4 L3839.8 2111.2 L3850.2 2116.0 L3860.6 2120.8 L3871.0 2125.5 L3881.4 2130.2 L3891.7 2134.9 L3902.1 2139.5 L3912.5 2144.1 L3922.9 2148.6 L3933.3 2153.1 L3943.6 2157.6 L3954.0 2162.0 L3964.4 2166.3 L3974.8 2170.6 L3985.2 2174.9 L3995.5 2179.1 L4005.9 2183.3 L4016.3 2187.4 L4026.7 2191.4 L4037.1 2195.4 L4047.5 2199.4 L4057.8 2203.3 L4068.2 2207.1 L4078.6 2210.8 L4089.0 2214.5 L4099.4 2218.2" fill="none" stroke="#ff0000" stroke-width="11.5" stroke-linejoin="round"/>
<circle cx="2979.2" cy="1644.0" r="18.7" fill="#ff0000"/>
<circle cx="3000.1" cy="1648.8" r="18.7" fill="#ff0000"/>
<circle cx="3021.0" cy="1654.6" r="18.7" fill="#ff0000"/>
<circle cx="3042.0" cy="1667.3" r="18.7" fill="#ff0000"/>
<circle cx="3062.9" cy="1681.8" r="18.7" fill="#ff0000"/>
<circle cx="3083.9" cy="1698.9" r="18.7" fill="#ff0000"/>
<circle cx="3104.8" cy="1715.5" r="18.7" fill="#ff0000"/>
<circle cx="3125.7" cy="1727.0" r="18.7" fill="#ff0000"/>
<circle cx="3146.7" cy="1735.5" r="18.7" fill="#ff0000"/>
<circle cx="3167.6" cy="1747.5" r="18.7" fill="#ff0000"/>
<circle cx="3188.5" cy="1759.3" r="18.7" fill="#ff0000"/>
<circle cx="3209.5" cy="1772.2" r="18.7" fill="#ff0000"/>
<circle cx="3230.4" cy="1785.0" r="18.7" fill="#ff0000"/>
<circle cx="3251.4" cy="1797.8" r="18.7" fill="#ff0000"/>
<circle cx="3282.8" cy="1816.7" r="18.7" fill="#ff0000"/>
<circle cx="3324.6" cy="1841.5" r="18.7" fill="#ff0000"/>
<circle cx="3366.5" cy="1865.7" r="18.7" fill="#ff0000"/>
<circle cx="3408.4" cy="1889.4" r="18.7" fill="#ff0000"/>
<circle cx="3450.3" cy="1912.5" r="18.7" fill="#ff0000"/>
<circle cx="3492.2" cy="1935.1" r="18.7" fill="#ff0000"/>
<circle cx="3534.0" cy="1957.4" r="18.7" fill="#ff0000"/>
<circle cx="3575.9" cy="1979.5" r="18.7" fill="#ff0000"/>
<circle cx="3617.8" cy="2001.4" r="18.7" fill="#ff0000"/>
<circle cx="3659.7" cy="2023.0" r="18.7" fill="#ff0000"/>
<circle cx="3722.5" cy="2054.8" r="18.7" fill="#ff0000"/>
<circle cx="3806.2" cy="2095.5" r="18.7" fill="#ff0000"/>
<circle cx="3890.0" cy="2134.1" r="18.7" fill="#ff0000"/>
<circle cx="3973.7" cy="2170.2" r="18.7" fill="#ff0000"/>
<circle cx="4057.5" cy="2203.1" r="18.7" fill="#ff0000"/>
<path d="M2864.0 1271.6 L2874.4 1279.5 L2884.8 1287.8 L2895.1 1296.4 L2905.5 1305.3 L2915.9 1314.6 L2926.3 1324.4 L2936.7 1334.9 L2947.0 1345.9 L2957.4 1357.4 L2967.8 1369.3 L2978.2 1381.5 L2988.6 1394.0 L2999.0 1406.6 L3009.3 1419.4 L3019.7 1432.2 L3030.1 1444.9 L3040.5 1457.4 L3050.9 1469.7 L3061.2 1481.7 L3071.6 1493.3 L3082.0 1504.7 L3092.4 1515.7 L3102.8 1526.4 L3113.1 1536.9 L3123.5 1547.0 L3133.9 1556.9 L3144.3 1566.5 L3154.7 1575.9 L3165.1 1585.1 L3175.4 1594.1 L3185.8 1602.9 L3196.2 1611.5 L3206.6 1620.0 L3217.0 1628.4 L3227.3 1636.6 L3237.7 1644.7 L3248.1 1652.6 L3258.5 1660.5 L3268.9 1668.3 L3279.2 1676.1 L3289.6 1683.7 L3300.0 1691.3 L3310.4 1698.8 L3320.8 1706.2 L3331.2 1713.6 L3341.5 1720.9 L3351.9 1728.1 L3362.3 1735.2 L3372.7 1742.3 L3383.1 1749.4 L3393.4 1756.3 L3403.8 1763.3 L3414.2 1770.1 L3424.6 1776.9 L3435.0 1783.7 L3445.3 1790.4 L3455.7 1797.1 L3466.1 1803.7 L3476.5 1810.2 L3486.9 1816.7 L3497.3 1823.2 L3507.6 1829.6 L3518.0 1836.0 L3528.4 1842.3 L3538.8 1848.6 L3549.2 1854.9 L3559.5 1861.1 L3569.9 1867.2 L3580.3 1873.4 L3590.7 1879.5 L3601.1 1885.5 L3611.4 1891.5 L3621.8 1897.5 L3632.2 1903.4 L3642.6 1909.3 L3653.0 1915.2 L3663.4 1921.0 L3673.7 1926.8 L3684.1 1932.5 L3694.5 1938.2 L3704.9 1943.8 L3715.3 1949.5 L3725.6 1955.0 L3736.0 1960.6 L3746.4 1966.0 L3756.8 1971.5 L3767.2 1976.9 L3777.5 1982.3 L3787.9 1987.6 L3798.3 1992.9 L3808.7 1998.2 L3819.1 2003.4 L3829.5 2008.5 L3839.8 2013.7 L3850.2 2018.7 L3860.6 2023.8 L3871.0 2028.8 L3881.4 2033.8 L3891.7 2038.7 L3902.1 2043.6 L3912.5 2048.4 L3922.9 2053.2 L3933.3 2058.0 L3943.6 2062.7 L3954.0 2067.5 L3964.4 2072.3 L3974.8 2077.1 L3985.2 2081.9 L3995.5 2086.6 L4005.9 2091.4 L4016.3 2096.0 L4026.7 2100.6 L4037.1 2105.1 L4047.5 2109.5 L4057.8 2113.8 L4068.2 2117.9 L4078.6 2121.9 L4089.0 2125.7 L4099.4 2129.4" fill="none" stroke="#000000" stroke-width="11.5" stroke-linejoin="round"/>
<circle cx="2979.2" cy="1382.7" r="18.7" fill="#000000"/>
<circle cx="3000.1" cy="1408.0" r="18.7" fill="#000000"/>
<circle cx="3021.0" cy="1433.8" r="18.7" fill="#000000"/>
<circle cx="3042.0" cy="1459.2" r="18.7" fill="#000000"/>
<circle cx="3062.9" cy="1483.6" r="18.7" fill="#000000"/>
<circle cx="3083.9" cy="1506.7" r="18.7" fill="#000000"/>
<circle cx="3104.8" cy="1528.5" r="18.7" fill="#000000"/>
<circle cx="3125.7" cy="1549.1" r="18.7" fill="#000000"/>
<circle cx="3146.7" cy="1568.7" r="18.7" fill="#000000"/>
<circle cx="3167.6" cy="1587.3" r="18.7" fill="#000000"/>
<circle cx="3188.5" cy="1605.2" r="18.7" fill="#000000"/>
<circle cx="3209.5" cy="1622.4" r="18.7" fill="#000000"/>
<circle cx="3230.4" cy="1639.0" r="18.7" fill="#000000"/>
<circle cx="3251.4" cy="1655.1" r="18.7" fill="#000000"/>
<circle cx="3282.8" cy="1678.7" r="18.7" fill="#000000"/>
<circle cx="3324.6" cy="1709.0" r="18.7" fill="#000000"/>
<circle cx="3366.5" cy="1738.1" r="18.7" fill="#000000"/>
<circle cx="3408.4" cy="1766.3" r="18.7" fill="#000000"/>
<circle cx="3450.3" cy="1793.6" r="18.7" fill="#000000"/>
<circle cx="3492.2" cy="1820.0" r="18.7" fill="#000000"/>
<circle cx="3534.0" cy="1845.7" r="18.7" fill="#000000"/>
<circle cx="3575.9" cy="1870.8" r="18.7" fill="#000000"/>
<circle cx="3617.8" cy="1895.2" r="18.7" fill="#000000"/>
<circle cx="3659.7" cy="1918.9" r="18.7" fill="#000000"/>
<circle cx="3722.5" cy="1953.3" r="18.7" fill="#000000"/>
<circle cx="3806.2" cy="1996.9" r="18.7" fill="#000000"/>
<circle cx="3890.0" cy="2037.8" r="18.7" fill="#000000"/>
<circle cx="3973.7" cy="2076.6" r="18.7" fill="#000000"/>
<circle cx="4057.5" cy="2113.6" r="18.7" fill="#000000"/>
</g>
<g id="pad-g">
<path d="M351.7 2982.1 L362.1 2983.2 L372.5 2984.2 L382.8 2985.0 L393.2 2985.8 L403.6 2986.6 L414.0 2987.4 L424.4 2988.2 L434.7 2989.2 L445.1 2990.2 L455.5 2991.4 L465.9 2992.8 L476.3 2994.3 L486.7 2996.1 L497.0 2998.0 L507.4 3000.1 L517.8 3002.3 L528.2 3004.6 L538.6 3007.2 L548.9 3009.8 L559.3 3012.7 L569.7 3015.7 L580.1 3018.8 L590.5 3022.0 L600.8 3025.3 L611.2 3028.7 L621.6 3032.2 L632.0 3035.7 L642.4 3039.2 L652.8 3042.7 L663.1 3046.3 L673.5 3050.0 L683.9 3053.7 L694.3 3057.5 L704.7 3061.3 L715.0 3065.2 L725.4 3069.1 L735.8 3073.2 L746.2 3077.4 L756.6 3081.9 L766.9 3086.7 L777.3 3091.7 L787.7 3096.7 L798.1 3101.7 L808.5 3106.5 L818.9 3111.1 L829.2 3115.7 L839.6 3120.4 L850.0 3125.0 L860.4 3129.7 L870.8 3134.4 L881.1 3139.1 L891.5 3143.8 L901.9 3148.5 L912.3 3153.1 L922.7 3157.8 L933.0 3162.4 L943.4 3167.0 L953.8 3171.6 L964.2 3176.1 L974.6 3180.7 L985.0 3185.2 L995.3 3189.8 L1005.7 3194.4 L1016.1 3199.0 L1026.5 3203.6 L1036.9 3208.2 L1047.2 3212.8 L1057.6 3217.5 L1068.0 3222.1 L1078.4 3226.7 L1088.8 3231.4 L1099.1 3236.0 L1109.5 3240.6 L1119.9 3245.3 L1130.3 3249.9 L1140.7 3254.6 L1151.1 3259.2 L1161.4 3263.9 L1171.8 3268.5 L1182.2 3273.2 L1192.6 3277.8 L1203.0 3282.4 L1213.3 3287.1 L1223.7 3291.7 L1234.1 3296.3 L1244.5 3300.9 L1254.9 3305.5 L1265.2 3310.1 L1275.6 3314.7 L1286.0 3319.2 L1296.4 3323.8 L1306.8 3328.3 L1317.2 3332.9 L1327.5 3337.4 L1337.9 3342.0 L1348.3 3346.5 L1358.7 3351.1 L1369.1 3355.6 L1379.4 3360.1 L1389.8 3364.7 L1400.2 3369.2 L1410.6 3373.7 L1421.0 3378.2 L1431.3 3382.6 L1441.7 3387.1 L1452.1 3391.5 L1462.5 3395.9 L1472.9 3400.3 L1483.2 3404.7 L1493.6 3409.1 L1504.0 3413.4 L1514.4 3417.7 L1524.8 3422.0 L1535.2 3426.3 L1545.5 3430.5 L1555.9 3434.7 L1566.3 3438.9 L1576.7 3443.0 L1587.1 3447.1" fill="none" stroke="#0000ff" stroke-width="11.5" stroke-linejoin="round"/>
<circle cx="529.7" cy="3005.0" r="18.7" fill="#0000ff"/>
<circle cx="550.6" cy="3010.3" r="18.7" fill="#0000ff"/>
<circle cx="571.6" cy="3016.2" r="18.7" fill="#0000ff"/>
<circle cx="592.5" cy="3022.7" r="18.7" fill="#0000ff"/>
<circle cx="613.4" cy="3029.5" r="18.7" fill="#0000ff"/>
<circle cx="634.4" cy="3036.5" r="18.7" fill="#0000ff"/>
<circle cx="655.3" cy="3043.6" r="18.7" fill="#0000ff"/>
<circle cx="676.2" cy="3051.0" r="18.7" fill="#0000ff"/>
<circle cx="697.2" cy="3058.5" r="18.7" fill="#0000ff"/>
<circle cx="718.1" cy="3066.4" r="18.7" fill="#0000ff"/>
<circle cx="739.1" cy="3074.5" r="18.7" fill="#0000ff"/>
<circle cx="770.5" cy="3088.4" r="18.7" fill="#0000ff"/>
<circle cx="812.3" cy="3108.2" r="18.7" fill="#0000ff"/>
<circle cx="854.2" cy="3126.9" r="18.7" fill="#0000ff"/>
<circle cx="896.1" cy="3145.8" r="18.7" fill="#0000ff"/>
<circle cx="938.0" cy="3164.6" r="18.7" fill="#0000ff"/>
<circle cx="979.8" cy="3183.0" r="18.7" fill="#0000ff"/>
<circle cx="1021.7" cy="3201.5" r="18.7" fill="#0000ff"/>
<circle cx="1063.6" cy="3220.1" r="18.7" fill="#0000ff"/>
<circle cx="1105.5" cy="3238.8" r="18.7" fill="#0000ff"/>
<circle cx="1147.4" cy="3257.6" r="18.7" fill="#0000ff"/>
<circle cx="1210.2" cy="3285.7" r="18.7" fill="#0000ff"/>
<circle cx="1293.9" cy="3322.7" r="18.7" fill="#0000ff"/>
<circle cx="1377.7" cy="3359.4" r="18.7" fill="#0000ff"/>
<circle cx="1461.4" cy="3395.5" r="18.7" fill="#0000ff"/>
<circle cx="1545.2" cy="3430.4" r="18.7" fill="#0000ff"/>
<path d="M351.7 2804.5 L362.1 2805.7 L372.5 2807.4 L382.8 2809.3 L393.2 2811.7 L403.6 2814.4 L414.0 2817.4 L424.4 2820.6 L434.7 2824.2 L445.1 2828.1 L455.5 2832.2 L465.9 2836.5 L476.3 2841.1 L486.7 2845.8 L497.0 2850.8 L507.4 2856.0 L517.8 2861.3 L528.2 2866.8 L538.6 2872.4 L548.9 2878.1 L559.3 2883.9 L569.7 2889.8 L580.1 2895.7 L590.5 2901.8 L600.8 2907.9 L611.2 2914.1 L621.6 2920.3 L632.0 2926.6 L642.4 2933.0 L652.8 2939.3 L663.1 2945.7 L673.5 2952.1 L683.9 2958.5 L694.3 2964.9 L704.7 2971.2 L715.0 2977.6 L725.4 2984.0 L735.8 2990.3 L746.2 2996.6 L756.6 3002.9 L766.9 3009.2 L777.3 3015.4 L787.7 3021.6 L798.1 3027.7 L808.5 3033.8 L818.9 3039.9 L829.2 3045.9 L839.6 3052.0 L850.0 3057.9 L860.4 3063.9 L870.8 3069.8 L881.1 3075.6 L891.5 3081.5 L901.9 3087.3 L912.3 3093.1 L922.7 3098.8 L933.0 3104.5 L943.4 3110.2 L953.8 3115.8 L964.2 3121.4 L974.6 3127.0 L985.0 3132.5 L995.3 3138.1 L1005.7 3143.6 L1016.1 3149.1 L1026.5 3154.7 L1036.9 3160.1 L1047.2 3165.6 L1057.6 3171.1 L1068.0 3176.6 L1078.4 3182.0 L1088.8 3187.4 L1099.1 3192.8 L1109.5 3198.2 L1119.9 3203.6 L1130.3 3209.0 L1140.7 3214.3 L1151.1 3219.6 L1161.4 3224.9 L1171.8 3230.2 L1182.2 3235.5 L1192.6 3240.7 L1203.0 3245.9 L1213.3 3251.1 L1223.7 3256.2 L1234.1 3261.3 L1244.5 3266.4 L1254.9 3271.5 L1265.2 3276.5 L1275.6 3281.5 L1286.0 3286.4 L1296.4 3291.3 L1306.8 3296.2 L1317.2 3301.1 L1327.5 3305.9 L1337.9 3310.7 L1348.3 3315.5 L1358.7 3320.2 L1369.1 3324.9 L1379.4 3329.6 L1389.8 3334.2 L1400.2 3338.8 L1410.6 3343.4 L1421.0 3347.9 L1431.3 3352.3 L1441.7 3356.8 L1452.1 3361.1 L1462.5 3365.5 L1472.9 3369.7 L1483.2 3374.0 L1493.6 3378.1 L1504.0 3382.3 L1514.4 3386.3 L1524.8 3390.3 L1535.2 3394.3 L1545.5 3398.2 L1555.9 3402.0 L1566.3 3405.8 L1576.7 3409.5 L1587.1 3413.1" fill="none" stroke="#ff0000" stroke-width="11.5" stroke-linejoin="round"/>
<circle cx="466.9" cy="2838.2" r="18.7" fill="#ff0000"/>
<circle cx="487.8" cy="2843.0" r="18.7" fill="#ff0000"/>
<circle cx="508.7" cy="2848.8" r="18.7" fill="#ff0000"/>
<circle cx="529.7" cy="2861.6" r="18.7" fill="#ff0000"/>
<circle cx="550.6" cy="2876.0" r="18.7" fill="#ff0000"/>
<circle cx="571.6" cy="2893.3" r="18.7" fill="#ff0000"/>
<circle cx="592.5" cy="2909.8" r="18.7" fill="#ff0000"/>
<circle cx="613.4" cy="2921.3" r="18.7" fill="#ff0000"/>
<circle cx="634.4" cy="2929.9" r="18.7" fill="#ff0000"/>
<circle cx="655.3" cy="2941.9" r="18.7" fill="#ff0000"/>
<circle cx="676.2" cy="2953.7" r="18.7" fill="#ff0000"/>
<circle cx="697.2" cy="2966.6" r="18.7" fill="#ff0000"/>
<circle cx="718.1" cy="2979.5" r="18.7" fill="#ff0000"/>
<circle cx="739.1" cy="2992.3" r="18.7" fill="#ff0000"/>
<circle cx="770.5" cy="3011.3" r="18.7" fill="#ff0000"/>
<circle cx="812.3" cy="3036.1" r="18.7" fill="#ff0000"/>
<circle cx="854.2" cy="3060.3" r="18.7" fill="#ff0000"/>
<circle cx="896.1" cy="3084.0" r="18.7" fill="#ff0000"/>
<circle cx="938.0" cy="3107.2" r="18.7" fill="#ff0000"/>
<circle cx="979.8" cy="3129.8" r="18.7" fill="#ff0000"/>
<circle cx="1021.7" cy="3152.1" r="18.7" fill="#ff0000"/>
<circle cx="1063.6" cy="3174.2" r="18.7" fill="#ff0000"/>
<circle cx="1105.5" cy="3196.1" r="18.7" fill="#ff0000"/>
<circle cx="1147.4" cy="3217.7" r="18.7" fill="#ff0000"/>
<circle cx="1210.2" cy="3249.5" r="18.7" fill="#ff0000"/>
<circle cx="1293.9" cy="3290.2" r="18.7" fill="#ff0000"/>
<circle cx="1377.7" cy="3328.8" r="18.7" fill="#ff0000"/>
<circle cx="1461.4" cy="3365.0" r="18.7" fill="#ff0000"/>
<circle cx="1545.2" cy="3398.1" r="18.7" fill="#ff0000"/>
<path d="M351.7 2465.5 L362.1 2473.4 L372.5 2481.8 L382.8 2490.5 L393.2 2499.4 L403.6 2508.7 L414.0 2518.5 L424.4 2529.0 L434.7 2540.0 L445.1 2551.5 L455.5 2563.4 L465.9 2575.6 L476.3 2588.1 L486.7 2600.8 L497.0 2613.5 L507.4 2626.3 L517.8 2639.0 L528.2 2651.6 L538.6 2663.9 L548.9 2675.9 L559.3 2687.6 L569.7 2698.9 L580.1 2710.0 L590.5 2720.7 L600.8 2731.2 L611.2 2741.3 L621.6 2751.2 L632.0 2760.8 L642.4 2770.3 L652.8 2779.5 L663.1 2788.5 L673.5 2797.3 L683.9 2805.9 L694.3 2814.4 L704.7 2822.8 L715.0 2831.0 L725.4 2839.1 L735.8 2847.1 L746.2 2855.0 L756.6 2862.8 L766.9 2870.5 L777.3 2878.2 L787.7 2885.8 L798.1 2893.3 L808.5 2900.7 L818.9 2908.1 L829.2 2915.4 L839.6 2922.6 L850.0 2929.7 L860.4 2936.8 L870.8 2943.9 L881.1 2950.8 L891.5 2957.8 L901.9 2964.6 L912.3 2971.4 L922.7 2978.2 L933.0 2984.9 L943.4 2991.6 L953.8 2998.2 L964.2 3004.7 L974.6 3011.2 L985.0 3017.7 L995.3 3024.1 L1005.7 3030.5 L1016.1 3036.8 L1026.5 3043.1 L1036.9 3049.4 L1047.2 3055.6 L1057.6 3061.7 L1068.0 3067.9 L1078.4 3074.0 L1088.8 3080.0 L1099.1 3086.0 L1109.5 3092.0 L1119.9 3097.9 L1130.3 3103.8 L1140.7 3109.7 L1151.1 3115.5 L1161.4 3121.3 L1171.8 3127.0 L1182.2 3132.7 L1192.6 3138.3 L1203.0 3144.0 L1213.3 3149.5 L1223.7 3155.1 L1234.1 3160.5 L1244.5 3166.0 L1254.9 3171.4 L1265.2 3176.8 L1275.6 3182.1 L1286.0 3187.4 L1296.4 3192.7 L1306.8 3197.9 L1317.2 3203.0 L1327.5 3208.2 L1337.9 3213.2 L1348.3 3218.3 L1358.7 3223.3 L1369.1 3228.3 L1379.4 3233.2 L1389.8 3238.1 L1400.2 3242.9 L1410.6 3247.7 L1421.0 3252.5 L1431.3 3257.2 L1441.7 3262.0 L1452.1 3266.8 L1462.5 3271.6 L1472.9 3276.4 L1483.2 3281.1 L1493.6 3285.9 L1504.0 3290.5 L1514.4 3295.1 L1524.8 3299.6 L1535.2 3304.0 L1545.5 3308.3 L1555.9 3312.4 L1566.3 3316.4 L1576.7 3320.2 L1587.1 3323.9" fill="none" stroke="#000000" stroke-width="11.5" stroke-linejoin="round"/>
<circle cx="466.9" cy="2576.8" r="18.7" fill="#000000"/>
<circle cx="487.8" cy="2602.2" r="18.7" fill="#000000"/>
<circle cx="508.7" cy="2627.9" r="18.7" fill="#000000"/>
<circle cx="529.7" cy="2653.4" r="18.7" fill="#000000"/>
<circle cx="550.6" cy="2677.8" r="18.7" fill="#000000"/>
<circle cx="571.6" cy="2700.9" r="18.7" fill="#000000"/>
<circle cx="592.5" cy="2722.8" r="18.7" fill="#000000"/>
<circle cx="613.4" cy="2743.4" r="18.7" fill="#000000"/>
<circle cx="634.4" cy="2763.0" r="18.7" fill="#000000"/>
<circle cx="655.3" cy="2781.7" r="18.7" fill="#000000"/>
<circle cx="676.2" cy="2799.6" r="18.7" fill="#000000"/>
<circle cx="697.2" cy="2816.8" r="18.7" fill="#000000"/>
<circle cx="718.1" cy="2833.4" r="18.7" fill="#000000"/>
<circle cx="739.1" cy="2849.6" r="18.7" fill="#000000"/>
<circle cx="770.5" cy="2873.1" r="18.7" fill="#000000"/>
<circle cx="812.3" cy="2903.5" r="18.7" fill="#000000"/>
<circle cx="854.2" cy="2932.6" r="18.7" fill="#000000"/>
<circle cx="896.1" cy="2960.8" r="18.7" fill="#000000"/>
<circle cx="938.0" cy="2988.1" r="18.7" fill="#000000"/>
<circle cx="979.8" cy="3014.5" r="18.7" fill="#000000"/>
<circle cx="1021.7" cy="3040.2" r="18.7" fill="#000000"/>
<circle cx="1063.6" cy="3065.3" r="18.7" fill="#000000"/>
<circle cx="1105.5" cy="3089.7" r="18.7" fill="#000000"/>
<circle cx="1147.4" cy="3113.4" r="18.7" fill="#000000"/>
<circle cx="1210.2" cy="3147.8" r="18.7" fill="#000000"/>
<circle cx="1293.9" cy="3191.4" r="18.7" fill="#000000"/>
<circle cx="1377.7" cy="3232.3" r="18.7" fill="#000000"/>
<circle cx="1461.4" cy="3271.1" r="18.7" fill="#000000"/>
<circle cx="1545.2" cy="3308.1" r="18.7" fill="#000000"/>
</g>
<g id="pad-h">
<path d="M1608.0 2984.9 L1618.4 2986.1 L1628.8 2987.1 L1639.1 2988.1 L1649.5 2989.0 L1659.9 2989.9 L1670.3 2990.8 L1680.7 2991.7 L1691.0 2992.8 L1701.4 2993.9 L1711.8 2995.2 L1722.2 2996.7 L1732.6 2998.4 L1743.0 3000.2 L1753.3 3002.2 L1763.7 3004.4 L1774.1 3006.7 L1784.5 3009.2 L1794.9 3011.9 L1805.2 3014.7 L1815.6 3017.7 L1826.0 3020.8 L1836.4 3024.1 L1846.8 3027.5 L1857.1 3031.0 L1867.5 3034.6 L1877.9 3038.2 L1888.3 3041.8 L1898.7 3045.5 L1909.1 3049.2 L1919.4 3052.9 L1929.8 3056.7 L1940.2 3060.5 L1950.6 3064.4 L1961.0 3068.4 L1971.3 3072.4 L1981.7 3076.6 L1992.1 3080.8 L2002.5 3085.2 L2012.9 3090.0 L2023.2 3095.1 L2033.6 3100.3 L2044.0 3105.5 L2054.4 3110.6 L2064.8 3115.6 L2075.2 3120.3 L2085.5 3125.0 L2095.9 3129.7 L2106.3 3134.4 L2116.7 3139.1 L2127.1 3143.9 L2137.4 3148.6 L2147.8 3153.3 L2158.2 3158.0 L2168.6 3162.7 L2179.0 3167.4 L2189.3 3172.1 L2199.7 3176.7 L2210.1 3181.4 L2220.5 3186.0 L2230.9 3190.6 L2241.3 3195.2 L2251.6 3199.8 L2262.0 3204.4 L2272.4 3209.1 L2282.8 3213.7 L2293.2 3218.4 L2303.5 3223.0 L2313.9 3227.7 L2324.3 3232.3 L2334.7 3237.0 L2345.1 3241.6 L2355.4 3246.3 L2365.8 3251.0 L2376.2 3255.6 L2386.6 3260.3 L2397.0 3265.0 L2407.4 3269.6 L2417.7 3274.3 L2428.1 3278.9 L2438.5 3283.6 L2448.9 3288.3 L2459.3 3292.9 L2469.6 3297.6 L2480.0 3302.2 L2490.4 3306.9 L2500.8 3311.5 L2511.2 3316.1 L2521.5 3320.8 L2531.9 3325.4 L2542.3 3330.0 L2552.7 3334.6 L2563.1 3339.2 L2573.5 3343.8 L2583.8 3348.4 L2594.2 3353.0 L2604.6 3357.6 L2615.0 3362.2 L2625.4 3366.7 L2635.7 3371.3 L2646.1 3375.9 L2656.5 3380.4 L2666.9 3385.0 L2677.3 3389.5 L2687.6 3394.0 L2698.0 3398.5 L2708.4 3402.9 L2718.8 3407.4 L2729.2 3411.8 L2739.5 3416.2 L2749.9 3420.6 L2760.3 3425.0 L2770.7 3429.3 L2781.1 3433.7 L2791.5 3437.9 L2801.8 3442.2 L2812.2 3446.4 L2822.6 3450.6 L2833.0 3454.8 L2843.4 3458.9" fill="none" stroke="#0000ff" stroke-width="11.5" stroke-linejoin="round"/>
<circle cx="1786.0" cy="3009.6" r="18.7" fill="#0000ff"/>
<circle cx="1806.9" cy="3015.2" r="18.7" fill="#0000ff"/>
<circle cx="1827.9" cy="3021.4" r="18.7" fill="#0000ff"/>
<circle cx="1848.8" cy="3028.2" r="18.7" fill="#0000ff"/>
<circle cx="1869.7" cy="3035.3" r="18.7" fill="#0000ff"/>
<circle cx="1890.7" cy="3042.7" r="18.7" fill="#0000ff"/>
<circle cx="1911.6" cy="3050.1" r="18.7" fill="#0000ff"/>
<circle cx="1932.5" cy="3057.7" r="18.7" fill="#0000ff"/>
<circle cx="1953.5" cy="3065.5" r="18.7" fill="#0000ff"/>
<circle cx="1974.4" cy="3073.7" r="18.7" fill="#0000ff"/>
<circle cx="1995.4" cy="3082.2" r="18.7" fill="#0000ff"/>
<circle cx="2026.8" cy="3096.8" r="18.7" fill="#0000ff"/>
<circle cx="2068.6" cy="3117.3" r="18.7" fill="#0000ff"/>
<circle cx="2110.5" cy="3136.3" r="18.7" fill="#0000ff"/>
<circle cx="2152.4" cy="3155.4" r="18.7" fill="#0000ff"/>
<circle cx="2194.3" cy="3174.3" r="18.7" fill="#0000ff"/>
<circle cx="2236.2" cy="3192.9" r="18.7" fill="#0000ff"/>
<circle cx="2278.0" cy="3211.6" r="18.7" fill="#0000ff"/>
<circle cx="2319.9" cy="3230.3" r="18.7" fill="#0000ff"/>
<circle cx="2361.8" cy="3249.1" r="18.7" fill="#0000ff"/>
<circle cx="2403.7" cy="3268.0" r="18.7" fill="#0000ff"/>
<circle cx="2466.5" cy="3296.2" r="18.7" fill="#0000ff"/>
<circle cx="2550.2" cy="3333.5" r="18.7" fill="#0000ff"/>
<circle cx="2634.0" cy="3370.5" r="18.7" fill="#0000ff"/>
<circle cx="2717.7" cy="3406.9" r="18.7" fill="#0000ff"/>
<circle cx="2801.5" cy="3442.1" r="18.7" fill="#0000ff"/>
<path d="M1608.0 2809.9 L1618.4 2811.2 L1628.8 2812.9 L1639.1 2814.9 L1649.5 2817.4 L1659.9 2820.1 L1670.3 2823.2 L1680.7 2826.6 L1691.0 2830.3 L1701.4 2834.2 L1711.8 2838.4 L1722.2 2842.9 L1732.6 2847.6 L1743.0 2852.5 L1753.3 2857.6 L1763.7 2862.9 L1774.1 2868.4 L1784.5 2874.0 L1794.9 2879.8 L1805.2 2885.6 L1815.6 2891.6 L1826.0 2897.7 L1836.4 2903.8 L1846.8 2910.0 L1857.1 2916.3 L1867.5 2922.6 L1877.9 2928.9 L1888.3 2935.3 L1898.7 2941.7 L1909.1 2948.1 L1919.4 2954.5 L1929.8 2960.9 L1940.2 2967.3 L1950.6 2973.7 L1961.0 2980.0 L1971.3 2986.2 L1981.7 2992.5 L1992.1 2998.7 L2002.5 3004.9 L2012.9 3011.1 L2023.2 3017.2 L2033.6 3023.3 L2044.0 3029.4 L2054.4 3035.4 L2064.8 3041.4 L2075.2 3047.4 L2085.5 3053.3 L2095.9 3059.2 L2106.3 3065.1 L2116.7 3070.9 L2127.1 3076.7 L2137.4 3082.5 L2147.8 3088.3 L2158.2 3094.0 L2168.6 3099.7 L2179.0 3105.4 L2189.3 3111.0 L2199.7 3116.7 L2210.1 3122.3 L2220.5 3127.9 L2230.9 3133.5 L2241.3 3139.1 L2251.6 3144.6 L2262.0 3150.1 L2272.4 3155.7 L2282.8 3161.2 L2293.2 3166.7 L2303.5 3172.2 L2313.9 3177.6 L2324.3 3183.1 L2334.7 3188.6 L2345.1 3194.0 L2355.4 3199.4 L2365.8 3204.8 L2376.2 3210.2 L2386.6 3215.6 L2397.0 3221.0 L2407.4 3226.3 L2417.7 3231.6 L2428.1 3236.9 L2438.5 3242.2 L2448.9 3247.4 L2459.3 3252.7 L2469.6 3257.9 L2480.0 3263.0 L2490.4 3268.2 L2500.8 3273.3 L2511.2 3278.3 L2521.5 3283.4 L2531.9 3288.4 L2542.3 3293.4 L2552.7 3298.3 L2563.1 3303.3 L2573.5 3308.2 L2583.8 3313.0 L2594.2 3317.9 L2604.6 3322.7 L2615.0 3327.5 L2625.4 3332.2 L2635.7 3337.0 L2646.1 3341.6 L2656.5 3346.3 L2666.9 3350.9 L2677.3 3355.5 L2687.6 3360.0 L2698.0 3364.5 L2708.4 3368.9 L2718.8 3373.3 L2729.2 3377.7 L2739.5 3382.0 L2749.9 3386.2 L2760.3 3390.4 L2770.7 3394.6 L2781.1 3398.7 L2791.5 3402.7 L2801.8 3406.7 L2812.2 3410.6 L2822.6 3414.5 L2833.0 3418.3 L2843.4 3422.0" fill="none" stroke="#ff0000" stroke-width="11.5" stroke-linejoin="round"/>
<circle cx="1723.2" cy="2844.6" r="18.7" fill="#ff0000"/>
<circle cx="1744.1" cy="2849.7" r="18.7" fill="#ff0000"/>
<circle cx="1765.0" cy="2855.8" r="18.7" fill="#ff0000"/>
<circle cx="1786.0" cy="2868.8" r="18.7" fill="#ff0000"/>
<circle cx="1806.9" cy="2883.7" r="18.7" fill="#ff0000"/>
<circle cx="1827.9" cy="2901.2" r="18.7" fill="#ff0000"/>
<circle cx="1848.8" cy="2918.0" r="18.7" fill="#ff0000"/>
<circle cx="1869.7" cy="2929.8" r="18.7" fill="#ff0000"/>
<circle cx="1890.7" cy="2938.6" r="18.7" fill="#ff0000"/>
<circle cx="1911.6" cy="2950.8" r="18.7" fill="#ff0000"/>
<circle cx="1932.5" cy="2962.6" r="18.7" fill="#ff0000"/>
<circle cx="1953.5" cy="2975.4" r="18.7" fill="#ff0000"/>
<circle cx="1974.4" cy="2988.1" r="18.7" fill="#ff0000"/>
<circle cx="1995.4" cy="3000.7" r="18.7" fill="#ff0000"/>
<circle cx="2026.8" cy="3019.3" r="18.7" fill="#ff0000"/>
<circle cx="2068.6" cy="3043.6" r="18.7" fill="#ff0000"/>
<circle cx="2110.5" cy="3067.4" r="18.7" fill="#ff0000"/>
<circle cx="2152.4" cy="3090.8" r="18.7" fill="#ff0000"/>
<circle cx="2194.3" cy="3113.7" r="18.7" fill="#ff0000"/>
<circle cx="2236.2" cy="3136.3" r="18.7" fill="#ff0000"/>
<circle cx="2278.0" cy="3158.7" r="18.7" fill="#ff0000"/>
<circle cx="2319.9" cy="3180.8" r="18.7" fill="#ff0000"/>
<circle cx="2361.8" cy="3202.7" r="18.7" fill="#ff0000"/>
<circle cx="2403.7" cy="3224.4" r="18.7" fill="#ff0000"/>
<circle cx="2466.5" cy="3256.3" r="18.7" fill="#ff0000"/>
<circle cx="2550.2" cy="3297.2" r="18.7" fill="#ff0000"/>
<circle cx="2634.0" cy="3336.2" r="18.7" fill="#ff0000"/>
<circle cx="2717.7" cy="3372.9" r="18.7" fill="#ff0000"/>
<circle cx="2801.5" cy="3406.6" r="18.7" fill="#ff0000"/>
<path d="M1608.0 2471.1 L1618.4 2479.6 L1628.8 2488.4 L1639.1 2497.6 L1649.5 2506.7 L1659.9 2516.1 L1670.3 2526.0 L1680.7 2536.5 L1691.0 2547.6 L1701.4 2559.2 L1711.8 2571.1 L1722.2 2583.4 L1732.6 2596.0 L1743.0 2608.7 L1753.3 2621.5 L1763.7 2634.3 L1774.1 2647.1 L1784.5 2659.7 L1794.9 2672.0 L1805.2 2684.0 L1815.6 2695.7 L1826.0 2707.1 L1836.4 2718.1 L1846.8 2728.9 L1857.1 2739.3 L1867.5 2749.5 L1877.9 2759.4 L1888.3 2769.1 L1898.7 2778.6 L1909.1 2787.8 L1919.4 2796.9 L1929.8 2805.7 L1940.2 2814.4 L1950.6 2823.0 L1961.0 2831.4 L1971.3 2839.7 L1981.7 2847.8 L1992.1 2855.8 L2002.5 2863.8 L2012.9 2871.6 L2023.2 2879.4 L2033.6 2887.1 L2044.0 2894.8 L2054.4 2902.3 L2064.8 2909.8 L2075.2 2917.2 L2085.5 2924.5 L2095.9 2931.7 L2106.3 2938.9 L2116.7 2946.0 L2127.1 2953.0 L2137.4 2960.0 L2147.8 2967.0 L2158.2 2973.8 L2168.6 2980.7 L2179.0 2987.4 L2189.3 2994.1 L2199.7 3000.8 L2210.1 3007.4 L2220.5 3014.0 L2230.9 3020.5 L2241.3 3027.0 L2251.6 3033.4 L2262.0 3039.8 L2272.4 3046.1 L2282.8 3052.4 L2293.2 3058.7 L2303.5 3064.9 L2313.9 3071.1 L2324.3 3077.2 L2334.7 3083.3 L2345.1 3089.3 L2355.4 3095.4 L2365.8 3101.3 L2376.2 3107.3 L2386.6 3113.2 L2397.0 3119.0 L2407.4 3124.8 L2417.7 3130.6 L2428.1 3136.4 L2438.5 3142.1 L2448.9 3147.7 L2459.3 3153.3 L2469.6 3158.9 L2480.0 3164.4 L2490.4 3169.9 L2500.8 3175.4 L2511.2 3180.8 L2521.5 3186.2 L2531.9 3191.5 L2542.3 3196.8 L2552.7 3202.1 L2563.1 3207.3 L2573.5 3212.5 L2583.8 3217.6 L2594.2 3222.7 L2604.6 3227.8 L2615.0 3232.8 L2625.4 3237.8 L2635.7 3242.7 L2646.1 3247.6 L2656.5 3252.5 L2666.9 3257.3 L2677.3 3262.1 L2687.6 3266.8 L2698.0 3271.6 L2708.4 3276.3 L2718.8 3281.0 L2729.2 3285.6 L2739.5 3290.3 L2749.9 3294.8 L2760.3 3299.4 L2770.7 3303.9 L2781.1 3308.3 L2791.5 3312.6 L2801.8 3316.9 L2812.2 3321.1 L2822.6 3325.1 L2833.0 3329.1 L2843.4 3333.0" fill="none" stroke="#000000" stroke-width="11.5" stroke-linejoin="round"/>
<circle cx="1723.2" cy="2584.6" r="18.7" fill="#000000"/>
<circle cx="1744.1" cy="2610.1" r="18.7" fill="#000000"/>
<circle cx="1765.0" cy="2636.0" r="18.7" fill="#000000"/>
<circle cx="1786.0" cy="2661.5" r="18.7" fill="#000000"/>
<circle cx="1806.9" cy="2685.9" r="18.7" fill="#000000"/>
<circle cx="1827.9" cy="2709.0" r="18.7" fill="#000000"/>
<circle cx="1848.8" cy="2730.9" r="18.7" fill="#000000"/>
<circle cx="1869.7" cy="2751.6" r="18.7" fill="#000000"/>
<circle cx="1890.7" cy="2771.3" r="18.7" fill="#000000"/>
<circle cx="1911.6" cy="2790.1" r="18.7" fill="#000000"/>
<circle cx="1932.5" cy="2808.0" r="18.7" fill="#000000"/>
<circle cx="1953.5" cy="2825.3" r="18.7" fill="#000000"/>
<circle cx="1974.4" cy="2842.1" r="18.7" fill="#000000"/>
<circle cx="1995.4" cy="2858.3" r="18.7" fill="#000000"/>
<circle cx="2026.8" cy="2882.1" r="18.7" fill="#000000"/>
<circle cx="2068.6" cy="2912.5" r="18.7" fill="#000000"/>
<circle cx="2110.5" cy="2941.8" r="18.7" fill="#000000"/>
<circle cx="2152.4" cy="2970.0" r="18.7" fill="#000000"/>
<circle cx="2194.3" cy="2997.3" r="18.7" fill="#000000"/>
<circle cx="2236.2" cy="3023.8" r="18.7" fill="#000000"/>
<circle cx="2278.0" cy="3049.5" r="18.7" fill="#000000"/>
<circle cx="2319.9" cy="3074.6" r="18.7" fill="#000000"/>
<circle cx="2361.8" cy="3099.0" r="18.7" fill="#000000"/>
<circle cx="2403.7" cy="3122.8" r="18.7" fill="#000000"/>
<circle cx="2466.5" cy="3157.2" r="18.7" fill="#000000"/>
<circle cx="2550.2" cy="3200.8" r="18.7" fill="#000000"/>
<circle cx="2634.0" cy="3241.9" r="18.7" fill="#000000"/>
<circle cx="2717.7" cy="3280.5" r="18.7" fill="#000000"/>
<circle cx="2801.5" cy="3316.7" r="18.7" fill="#000000"/>
</g>
<g id="labels">
<text transform="translate(707.7,187.5) scale(1.0,1.025)" font-family='"Liberation Sans", Arial, Helvetica, sans-serif' font-weight="bold" font-size="70.9" text-anchor="start" >1-<tspan font-family='"Liberation Serif", "DejaVu Serif", serif' font-weight="normal" font-size="74">ρ</tspan> percentile: 0-1%</text>
<text transform="translate(499.6,1095.5) scale(0.85,1.05)" font-family='"Liberation Serif", "DejaVu Serif", serif' font-style="italic" font-size="84" stroke="#000" stroke-width="1.3">χ</text>
<text transform="translate(534.3,1073.6) scale(1.0,1.025)" font-family='"Liberation Sans", Arial, Helvetica, sans-serif' font-weight="bold" font-size="44" text-anchor="start" >2</text>
<text transform="translate(558.1,1098.0) scale(1.0,1.025)" font-family='"Liberation Sans", Arial, Helvetica, sans-serif' font-weight="bold" font-size="72" text-anchor="start" >/nDoF:11/76</text>
<text transform="translate(1435.6,1135.5) scale(1.0,1.025)" font-family='"Liberation Sans", Arial, Helvetica, sans-serif' font-weight="bold" font-size="73" text-anchor="start" >(a)</text>
<text transform="translate(1964.0,187.5) scale(1.0,1.025)" font-family='"Liberation Sans", Arial, Helvetica, sans-serif' font-weight="bold" font-size="70.9" text-anchor="start" >1-<tspan font-family='"Liberation Serif", "DejaVu Serif", serif' font-weight="normal" font-size="74">ρ</tspan> percentile: 1-5%</text>
<text transform="translate(1755.9,1095.5) scale(0.85,1.05)" font-family='"Liberation Serif", "DejaVu Serif", serif' font-style="italic" font-size="84" stroke="#000" stroke-width="1.3">χ</text>
<text transform="translate(1790.6,1073.6) scale(1.0,1.025)" font-family='"Liberation Sans", Arial, Helvetica, sans-serif' font-weight="bold" font-size="44" text-anchor="start" >2</text>
<text transform="translate(1814.4,1098.0) scale(1.0,1.025)" font-family='"Liberation Sans", Arial, Helvetica, sans-serif' font-weight="bold" font-size="72" text-anchor="start" >/nDoF:11/76</text>
<text transform="translate(2691.9,1135.5) scale(1.0,1.025)" font-family='"Liberation Sans", Arial, Helvetica, sans-serif' font-weight="bold" font-size="73" text-anchor="start" >(b)</text>
<text transform="translate(3220.0,187.5) scale(1.0,1.025)" font-family='"Liberation Sans", Arial, Helvetica, sans-serif' font-weight="bold" font-size="70.9" text-anchor="start" >1-<tspan font-family='"Liberation Serif", "DejaVu Serif", serif' font-weight="normal" font-size="74">ρ</tspan> percentile: 5-10%</text>
<text transform="translate(3011.9,1095.5) scale(0.85,1.05)" font-family='"Liberation Serif", "DejaVu Serif", serif' font-style="italic" font-size="84" stroke="#000" stroke-width="1.3">χ</text>
<text transform="translate(3046.6,1073.6) scale(1.0,1.025)" font-family='"Liberation Sans", Arial, Helvetica, sans-serif' font-weight="bold" font-size="44" text-anchor="start" >2</text>
<text transform="translate(3070.4,1098.0) scale(1.0,1.025)" font-family='"Liberation Sans", Arial, Helvetica, sans-serif' font-weight="bold" font-size="72" text-anchor="start" >/nDoF:11/76</text>
<text transform="translate(3947.9,1135.5) scale(1.0,1.025)" font-family='"Liberation Sans", Arial, Helvetica, sans-serif' font-weight="bold" font-size="73" text-anchor="start" >(c)</text>
<text transform="translate(707.7,1378.6) scale(1.0,1.025)" font-family='"Liberation Sans", Arial, Helvetica, sans-serif' font-weight="bold" font-size="70.9" text-anchor="start" >1-<tspan font-family='"Liberation Serif", "DejaVu Serif", serif' font-weight="normal" font-size="74">ρ</tspan> percentile: 10-20%</text>
<text transform="translate(499.6,2286.6) scale(0.85,1.05)" font-family='"Liberation Serif", "DejaVu Serif", serif' font-style="italic" font-size="84" stroke="#000" stroke-width="1.3">χ</text>
<text transform="translate(534.3,2264.7) scale(1.0,1.025)" font-family='"Liberation Sans", Arial, Helvetica, sans-serif' font-weight="bold" font-size="44" text-anchor="start" >2</text>
<text transform="translate(558.1,2289.1) scale(1.0,1.025)" font-family='"Liberation Sans", Arial, Helvetica, sans-serif' font-weight="bold" font-size="72" text-anchor="start" >/nDoF:10/76</text>
<text transform="translate(1435.6,2326.6) scale(1.0,1.025)" font-family='"Liberation Sans", Arial, Helvetica, sans-serif' font-weight="bold" font-size="73" text-anchor="start" >(d)</text>
<text transform="translate(1964.0,1378.6) scale(1.0,1.025)" font-family='"Liberation Sans", Arial, Helvetica, sans-serif' font-weight="bold" font-size="70.9" text-anchor="start" >1-<tspan font-family='"Liberation Serif", "DejaVu Serif", serif' font-weight="normal" font-size="74">ρ</tspan> percentile: 20-30%</text>
<text transform="translate(1755.9,2286.6) scale(0.85,1.05)" font-family='"Liberation Serif", "DejaVu Serif", serif' font-style="italic" font-size="84" stroke="#000" stroke-width="1.3">χ</text>
<text transform="translate(1790.6,2264.7) scale(1.0,1.025)" font-family='"Liberation Sans", Arial, Helvetica, sans-serif' font-weight="bold" font-size="44" text-anchor="start" >2</text>
<text transform="translate(1814.4,2289.1) scale(1.0,1.025)" font-family='"Liberation Sans", Arial, Helvetica, sans-serif' font-weight="bold" font-size="72" text-anchor="start" >/nDoF:8/76</text>
<text transform="translate(2691.9,2326.6) scale(1.0,1.025)" font-family='"Liberation Sans", Arial, Helvetica, sans-serif' font-weight="bold" font-size="73" text-anchor="start" >(e)</text>
<text transform="translate(3220.0,1378.6) scale(1.0,1.025)" font-family='"Liberation Sans", Arial, Helvetica, sans-serif' font-weight="bold" font-size="70.9" text-anchor="start" >1-<tspan font-family='"Liberation Serif", "DejaVu Serif", serif' font-weight="normal" font-size="74">ρ</tspan> percentile: 30-40%</text>
<text transform="translate(3011.9,2286.6) scale(0.85,1.05)" font-family='"Liberation Serif", "DejaVu Serif", serif' font-style="italic" font-size="84" stroke="#000" stroke-width="1.3">χ</text>
<text transform="translate(3046.6,2264.7) scale(1.0,1.025)" font-family='"Liberation Sans", Arial, Helvetica, sans-serif' font-weight="bold" font-size="44" text-anchor="start" >2</text>
<text transform="translate(3070.4,2289.1) scale(1.0,1.025)" font-family='"Liberation Sans", Arial, Helvetica, sans-serif' font-weight="bold" font-size="72" text-anchor="start" >/nDoF:6/76</text>
<text transform="translate(3947.9,2326.6) scale(1.0,1.025)" font-family='"Liberation Sans", Arial, Helvetica, sans-serif' font-weight="bold" font-size="73" text-anchor="start" >(f)</text>
<text transform="translate(707.7,2571.0) scale(1.0,1.025)" font-family='"Liberation Sans", Arial, Helvetica, sans-serif' font-weight="bold" font-size="70.9" text-anchor="start" >1-<tspan font-family='"Liberation Serif", "DejaVu Serif", serif' font-weight="normal" font-size="74">ρ</tspan> percentile: 40-50%</text>
<text transform="translate(499.6,3479.0) scale(0.85,1.05)" font-family='"Liberation Serif", "DejaVu Serif", serif' font-style="italic" font-size="84" stroke="#000" stroke-width="1.3">χ</text>
<text transform="translate(534.3,3457.1) scale(1.0,1.025)" font-family='"Liberation Sans", Arial, Helvetica, sans-serif' font-weight="bold" font-size="44" text-anchor="start" >2</text>
<text transform="translate(558.1,3481.5) scale(1.0,1.025)" font-family='"Liberation Sans", Arial, Helvetica, sans-serif' font-weight="bold" font-size="72" text-anchor="start" >/nDoF:5/76</text>
<text transform="translate(1162.2,3517.1) scale(1.0,1.025)" font-family='"Liberation Sans", Arial, Helvetica, sans-serif' font-weight="bold" font-size="73" text-anchor="start" >(g)</text>
<text transform="translate(1964.0,2571.0) scale(1.0,1.025)" font-family='"Liberation Sans", Arial, Helvetica, sans-serif' font-weight="bold" font-size="70.9" text-anchor="start" >1-<tspan font-family='"Liberation Serif", "DejaVu Serif", serif' font-weight="normal" font-size="74">ρ</tspan> percentile: 50-100%</text>
<text transform="translate(1755.9,3479.0) scale(0.85,1.05)" font-family='"Liberation Serif", "DejaVu Serif", serif' font-style="italic" font-size="84" stroke="#000" stroke-width="1.3">χ</text>
<text transform="translate(1790.6,3457.1) scale(1.0,1.025)" font-family='"Liberation Sans", Arial, Helvetica, sans-serif' font-weight="bold" font-size="44" text-anchor="start" >2</text>
<text transform="translate(1814.4,3481.5) scale(1.0,1.025)" font-family='"Liberation Sans", Arial, Helvetica, sans-serif' font-weight="bold" font-size="72" text-anchor="start" >/nDoF:2/76</text>
<text transform="translate(2421.1,3517.1) scale(1.0,1.025)" font-family='"Liberation Sans", Arial, Helvetica, sans-serif' font-weight="bold" font-size="73" text-anchor="start" >(h)</text>
</g>
<g id="yticklabels">
<text transform="translate(306.5,260.0) scale(1.0,1.025)" font-family='"Liberation Sans", Arial, Helvetica, sans-serif' font-weight="bold" font-size="70" text-anchor="end" >10</text>
<text transform="translate(309.0,504.0) scale(1.0,1.025)" font-family='"Liberation Sans", Arial, Helvetica, sans-serif' font-weight="bold" font-size="70" text-anchor="end" >1</text>
<text transform="translate(178.5,754.5) scale(1.0,1.025)" font-family='"Liberation Sans", Arial, Helvetica, sans-serif' font-weight="bold" font-size="70" text-anchor="start" >10</text>
<text transform="translate(256.5,730.7) scale(1,1.025)" font-family='"Liberation Sans", Arial, Helvetica, sans-serif' font-weight="normal" font-size="50">−</text>
<text transform="translate(284.0,727.0) scale(1.0,1.025)" font-family='"Liberation Sans", Arial, Helvetica, sans-serif' font-weight="bold" font-size="46.5" text-anchor="start" >1</text>
<text transform="translate(169.1,998.5) scale(1.0,1.025)" font-family='"Liberation Sans", Arial, Helvetica, sans-serif' font-weight="bold" font-size="70" text-anchor="start" >10</text>
<text transform="translate(247.0,974.7) scale(1,1.025)" font-family='"Liberation Sans", Arial, Helvetica, sans-serif' font-weight="normal" font-size="50">−</text>
<text transform="translate(276.7,971.0) scale(1.0,1.025)" font-family='"Liberation Sans", Arial, Helvetica, sans-serif' font-weight="bold" font-size="46.5" text-anchor="start" >2</text>
<text transform="translate(306.5,1451.1) scale(1.0,1.025)" font-family='"Liberation Sans", Arial, Helvetica, sans-serif' font-weight="bold" font-size="70" text-anchor="end" >10</text>
<text transform="translate(309.0,1695.1) scale(1.0,1.025)" font-family='"Liberation Sans", Arial, Helvetica, sans-serif' font-weight="bold" font-size="70" text-anchor="end" >1</text>
<text transform="translate(178.5,1945.6) scale(1.0,1.025)" font-family='"Liberation Sans", Arial, Helvetica, sans-serif' font-weight="bold" font-size="70" text-anchor="start" >10</text>
<text transform="translate(256.5,1921.8) scale(1,1.025)" font-family='"Liberation Sans", Arial, Helvetica, sans-serif' font-weight="normal" font-size="50">−</text>
<text transform="translate(284.0,1918.1) scale(1.0,1.025)" font-family='"Liberation Sans", Arial, Helvetica, sans-serif' font-weight="bold" font-size="46.5" text-anchor="start" >1</text>
<text transform="translate(169.1,2189.6) scale(1.0,1.025)" font-family='"Liberation Sans", Arial, Helvetica, sans-serif' font-weight="bold" font-size="70" text-anchor="start" >10</text>
<text transform="translate(247.0,2165.8) scale(1,1.025)" font-family='"Liberation Sans", Arial, Helvetica, sans-serif' font-weight="normal" font-size="50">−</text>
<text transform="translate(276.7,2162.1) scale(1.0,1.025)" font-family='"Liberation Sans", Arial, Helvetica, sans-serif' font-weight="bold" font-size="46.5" text-anchor="start" >2</text>
<text transform="translate(306.5,2643.5) scale(1.0,1.025)" font-family='"Liberation Sans", Arial, Helvetica, sans-serif' font-weight="bold" font-size="70" text-anchor="end" >10</text>
<text transform="translate(309.0,2887.5) scale(1.0,1.025)" font-family='"Liberation Sans", Arial, Helvetica, sans-serif' font-weight="bold" font-size="70" text-anchor="end" >1</text>
<text transform="translate(178.5,3138.0) scale(1.0,1.025)" font-family='"Liberation Sans", Arial, Helvetica, sans-serif' font-weight="bold" font-size="70" text-anchor="start" >10</text>
<text transform="translate(256.5,3114.2) scale(1,1.025)" font-family='"Liberation Sans", Arial, Helvetica, sans-serif' font-weight="normal" font-size="50">−</text>
<text transform="translate(284.0,3110.5) scale(1.0,1.025)" font-family='"Liberation Sans", Arial, Helvetica, sans-serif' font-weight="bold" font-size="46.5" text-anchor="start" >1</text>
<text transform="translate(169.1,3382.0) scale(1.0,1.025)" font-family='"Liberation Sans", Arial, Helvetica, sans-serif' font-weight="bold" font-size="70" text-anchor="start" >10</text>
<text transform="translate(247.0,3358.2) scale(1,1.025)" font-family='"Liberation Sans", Arial, Helvetica, sans-serif' font-weight="normal" font-size="50">−</text>
<text transform="translate(276.7,3354.5) scale(1.0,1.025)" font-family='"Liberation Sans", Arial, Helvetica, sans-serif' font-weight="bold" font-size="46.5" text-anchor="start" >2</text>
</g>
<g id="xaxis">
<text transform="translate(745.5,3677.3) scale(1.0,1.025)" font-family='"Liberation Sans", Arial, Helvetica, sans-serif' font-weight="bold" font-size="70" text-anchor="middle" >1</text>
<text transform="translate(1164.3,3677.3) scale(1.0,1.025)" font-family='"Liberation Sans", Arial, Helvetica, sans-serif' font-weight="bold" font-size="70" text-anchor="middle" >2</text>
<text transform="translate(1583.1,3677.3) scale(1.0,1.025)" font-family='"Liberation Sans", Arial, Helvetica, sans-serif' font-weight="bold" font-size="70" text-anchor="middle" >3</text>
<text transform="translate(777.2,3785.7) scale(1.0,1.025)" font-family='"Liberation Sans", Arial, Helvetica, sans-serif' font-weight="bold" font-size="85" text-anchor="start" >p<tspan dy="41.0" font-size="55.5">T</tspan><tspan dy="-41.0" dx="4"> [GeV/c]</tspan></text>
<text transform="translate(2001.8,3677.3) scale(1.0,1.025)" font-family='"Liberation Sans", Arial, Helvetica, sans-serif' font-weight="bold" font-size="70" text-anchor="middle" >1</text>
<text transform="translate(2420.6,3677.3) scale(1.0,1.025)" font-family='"Liberation Sans", Arial, Helvetica, sans-serif' font-weight="bold" font-size="70" text-anchor="middle" >2</text>
<text transform="translate(2839.4,3677.3) scale(1.0,1.025)" font-family='"Liberation Sans", Arial, Helvetica, sans-serif' font-weight="bold" font-size="70" text-anchor="middle" >3</text>
<text transform="translate(2033.5,3785.7) scale(1.0,1.025)" font-family='"Liberation Sans", Arial, Helvetica, sans-serif' font-weight="bold" font-size="85" text-anchor="start" >p<tspan dy="41.0" font-size="55.5">T</tspan><tspan dy="-41.0" dx="4"> [GeV/c]</tspan></text>
<text transform="translate(3257.8,3677.3) scale(1.0,1.025)" font-family='"Liberation Sans", Arial, Helvetica, sans-serif' font-weight="bold" font-size="70" text-anchor="middle" >1</text>
<text transform="translate(3676.6,3677.3) scale(1.0,1.025)" font-family='"Liberation Sans", Arial, Helvetica, sans-serif' font-weight="bold" font-size="70" text-anchor="middle" >2</text>
<text transform="translate(4095.4,3677.3) scale(1.0,1.025)" font-family='"Liberation Sans", Arial, Helvetica, sans-serif' font-weight="bold" font-size="70" text-anchor="middle" >3</text>
<text transform="translate(3289.5,3785.7) scale(1.0,1.025)" font-family='"Liberation Sans", Arial, Helvetica, sans-serif' font-weight="bold" font-size="85" text-anchor="start" >p<tspan dy="41.0" font-size="55.5">T</tspan><tspan dy="-41.0" dx="4"> [GeV/c]</tspan></text>
</g>
<g id="ytitles">
<g transform="translate(89.3,1098.0) rotate(-90)">
<text transform="scale(1,1.025)" font-family='"Liberation Sans", Arial, Helvetica, sans-serif' font-weight="bold" font-size="71"><tspan x="0" y="0.0" font-size="71">1/2</tspan><tspan x="99.4" y="0" font-family='"Liberation Serif", "DejaVu Serif", serif' font-weight="normal" font-size="77" stroke="#000" stroke-width="0.8">π</tspan><tspan x="136.4" y="0.0" font-size="71">p</tspan><tspan x="178.5" y="41.0" font-size="47.5">T</tspan><tspan x="204.0" y="0.0" font-size="71">/</tspan><tspan x="227.0" y="0.0" font-size="71">N</tspan><tspan x="277.2" y="18.5" font-size="47.5">ev</tspan><tspan x="329.5" y="0.0" font-size="71">d</tspan><tspan x="371.3" y="-33.0" font-size="47.5">2</tspan><tspan x="400.7" y="0.0" font-size="71">N</tspan><tspan x="448.1" y="0.0" font-size="71">/</tspan><tspan x="472.2" y="0.0" font-size="71">d</tspan><tspan x="514.3" y="0.0" font-size="71">p</tspan><tspan x="555.7" y="41.0" font-size="47.5">T</tspan><tspan x="583.7" y="0.0" font-size="71">d</tspan><tspan x="628.0" y="0.0" font-size="71">y</tspan><tspan x="687.5" y="0.0" font-size="71">[</tspan><tspan x="710.3" y="0.0" font-size="71">c</tspan><tspan x="748.5" y="-33.0" font-size="47.5">2</tspan><tspan x="775.2" y="0.0" font-size="71">/</tspan><tspan x="797.4" y="0.0" font-size="71">G</tspan><tspan x="851.6" y="0.0" font-size="71">e</tspan><tspan x="893.1" y="0.0" font-size="71">V</tspan><tspan x="937.2" y="-33.0" font-size="47.5">2</tspan><tspan x="967.1" y="0.0" font-size="71">]</tspan></text>
</g>
<g transform="translate(89.3,2289.1) rotate(-90)">
<text transform="scale(1,1.025)" font-family='"Liberation Sans", Arial, Helvetica, sans-serif' font-weight="bold" font-size="71"><tspan x="0" y="0.0" font-size="71">1/2</tspan><tspan x="99.4" y="0" font-family='"Liberation Serif", "DejaVu Serif", serif' font-weight="normal" font-size="77" stroke="#000" stroke-width="0.8">π</tspan><tspan x="136.4" y="0.0" font-size="71">p</tspan><tspan x="178.5" y="41.0" font-size="47.5">T</tspan><tspan x="204.0" y="0.0" font-size="71">/</tspan><tspan x="227.0" y="0.0" font-size="71">N</tspan><tspan x="277.2" y="18.5" font-size="47.5">ev</tspan><tspan x="329.5" y="0.0" font-size="71">d</tspan><tspan x="371.3" y="-33.0" font-size="47.5">2</tspan><tspan x="400.7" y="0.0" font-size="71">N</tspan><tspan x="448.1" y="0.0" font-size="71">/</tspan><tspan x="472.2" y="0.0" font-size="71">d</tspan><tspan x="514.3" y="0.0" font-size="71">p</tspan><tspan x="555.7" y="41.0" font-size="47.5">T</tspan><tspan x="583.7" y="0.0" font-size="71">d</tspan><tspan x="628.0" y="0.0" font-size="71">y</tspan><tspan x="687.5" y="0.0" font-size="71">[</tspan><tspan x="710.3" y="0.0" font-size="71">c</tspan><tspan x="748.5" y="-33.0" font-size="47.5">2</tspan><tspan x="775.2" y="0.0" font-size="71">/</tspan><tspan x="797.4" y="0.0" font-size="71">G</tspan><tspan x="851.6" y="0.0" font-size="71">e</tspan><tspan x="893.1" y="0.0" font-size="71">V</tspan><tspan x="937.2" y="-33.0" font-size="47.5">2</tspan><tspan x="967.1" y="0.0" font-size="71">]</tspan></text>
</g>
<g transform="translate(89.3,3481.5) rotate(-90)">
<text transform="scale(1,1.025)" font-family='"Liberation Sans", Arial, Helvetica, sans-serif' font-weight="bold" font-size="71"><tspan x="0" y="0.0" font-size="71">1/2</tspan><tspan x="99.4" y="0" font-family='"Liberation Serif", "DejaVu Serif", serif' font-weight="normal" font-size="77" stroke="#000" stroke-width="0.8">π</tspan><tspan x="136.4" y="0.0" font-size="71">p</tspan><tspan x="178.5" y="41.0" font-size="47.5">T</tspan><tspan x="204.0" y="0.0" font-size="71">/</tspan><tspan x="227.0" y="0.0" font-size="71">N</tspan><tspan x="277.2" y="18.5" font-size="47.5">ev</tspan><tspan x="329.5" y="0.0" font-size="71">d</tspan><tspan x="371.3" y="-33.0" font-size="47.5">2</tspan><tspan x="400.7" y="0.0" font-size="71">N</tspan><tspan x="448.1" y="0.0" font-size="71">/</tspan><tspan x="472.2" y="0.0" font-size="71">d</tspan><tspan x="514.3" y="0.0" font-size="71">p</tspan><tspan x="555.7" y="41.0" font-size="47.5">T</tspan><tspan x="583.7" y="0.0" font-size="71">d</tspan><tspan x="628.0" y="0.0" font-size="71">y</tspan><tspan x="687.5" y="0.0" font-size="71">[</tspan><tspan x="710.3" y="0.0" font-size="71">c</tspan><tspan x="748.5" y="-33.0" font-size="47.5">2</tspan><tspan x="775.2" y="0.0" font-size="71">/</tspan><tspan x="797.4" y="0.0" font-size="71">G</tspan><tspan x="851.6" y="0.0" font-size="71">e</tspan><tspan x="893.1" y="0.0" font-size="71">V</tspan><tspan x="937.2" y="-33.0" font-size="47.5">2</tspan><tspan x="967.1" y="0.0" font-size="71">]</tspan></text>
</g>
</g>
<g id="legend">
<text transform="translate(3007.3,2611.5) scale(1.0,1.025)" font-family='"Liberation Sans", Arial, Helvetica, sans-serif' font-weight="bold" font-size="70.9" text-anchor="start" >TBW4</text>
<text transform="translate(3007.3,2728.8) scale(1.0,1.025)" font-family='"Liberation Sans", Arial, Helvetica, sans-serif' font-weight="bold" font-size="70.9" text-anchor="start" >pp 13TeV</text>
<text transform="translate(3007.3,2861.0) scale(1.0,1.025)" font-family='"Liberation Sans", Arial, Helvetica, sans-serif' font-weight="bold" font-size="70.9" text-anchor="start" >V0M percentile: 0-1%</text>
<text transform="translate(3092.5,3115.3) scale(1.0,1.025)" font-family='"Liberation Sans", Arial, Helvetica, sans-serif' font-weight="bold" font-size="65.5" text-anchor="start" >ALICE</text>
<text transform="translate(3344.5,3115.3) scale(1.0,1.025)" font-family='"Liberation Sans", Arial, Helvetica, sans-serif' font-weight="bold" font-size="65.5" text-anchor="start" >Fit</text>
<circle cx="3195.0" cy="3180.6" r="19.2" fill="#000"/>
<line x1="3356.60" y1="3180.60" x2="3413.60" y2="3180.60" stroke="#000" stroke-width="11.5"/>
<text transform="translate(3493.0,3193.1) scale(1.0,1.025)" font-family='"Liberation Sans", Arial, Helvetica, sans-serif' font-weight="bold" font-size="68" text-anchor="start" ><tspan font-family='"Liberation Serif", "DejaVu Serif", serif' font-weight="normal" font-size="76" font-style="italic">π</tspan><tspan dy="-24.4" font-size="46">+</tspan><tspan dy="24.4" dx="-4"> + </tspan><tspan dx="4"><tspan font-family='"Liberation Serif", "DejaVu Serif", serif' font-weight="normal" font-size="76" font-style="italic">π</tspan></tspan><tspan dy="-28.3" font-size="46">-</tspan></text>
<circle cx="3195.0" cy="3283.0" r="19.2" fill="#f00"/>
<line x1="3356.60" y1="3283.00" x2="3413.60" y2="3283.00" stroke="#f00" stroke-width="11.5"/>
<text transform="translate(3493.0,3295.5) scale(1.0,1.025)" font-family='"Liberation Sans", Arial, Helvetica, sans-serif' font-weight="bold" font-size="68" text-anchor="start" >K<tspan dy="-32.2" dx="4" font-size="46">+</tspan><tspan dy="32.2" dx="-4"> + K</tspan><tspan dy="-37.1" dx="2" font-size="46">-</tspan></text>
<circle cx="3195.0" cy="3385.8" r="19.2" fill="#00f"/>
<line x1="3356.60" y1="3385.80" x2="3413.60" y2="3385.80" stroke="#00f" stroke-width="11.5"/>
<text transform="translate(3493.0,3398.3) scale(1.0,1.025)" font-family='"Liberation Sans", Arial, Helvetica, sans-serif' font-weight="bold" font-size="68" text-anchor="start" >p + p</text>
<line x1="3615.50" y1="3351.00" x2="3658.00" y2="3351.00" stroke="#000" stroke-width="9.5"/>
</g>
</svg>
</body></html>
